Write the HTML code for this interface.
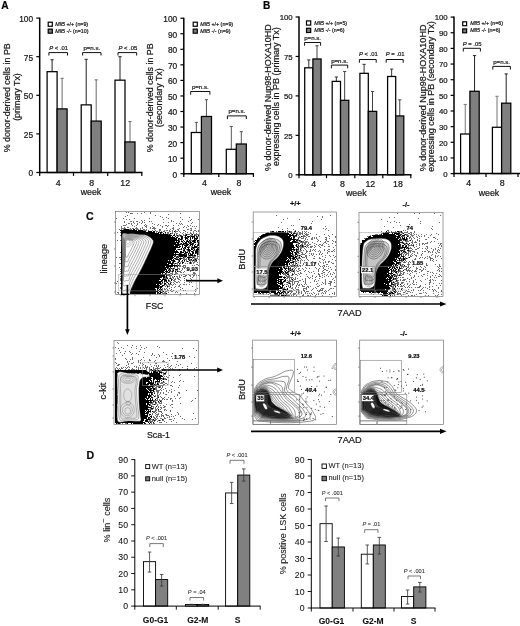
<!DOCTYPE html>
<html><head><meta charset="utf-8"><title>Figure</title>
<style>html,body{margin:0;padding:0;background:#fff}svg{display:block}text{font-family:"Liberation Sans", sans-serif;stroke:#222;stroke-width:0.22px}.ns text{stroke-width:0.08px}</style>
</head><body>
<svg width="520" height="626" viewBox="0 0 520 626">
<rect width="520" height="626" fill="#fff"/>
<path d="M126 212.5h1m1 0h1m15 0h1m5 0h1M130 213.5h3m4 0h1m3 0h1m8 0h1m29 0h1M168 214.5h1M127 215.5h1m27 0h1M125 216.5h1m34 0h1M162 217.5h1m3 0h1m13 0h1m8 0h1M116 218.5h1m6 0h1m10 0h1m14 0h1m18 0h1M126 219.5h1m2 0h1m33 0h1m18 0h1m8 0h1m6 0h1M141 220.5h1m2 0h1m26 0h1m18 0h1M124 221.5h1m5 0h2m1 0h1m2 0h2m4 0h1m6 0h1m1 0h1m19 0h1m1 0h1m6 0h1m7 0h1M124 222.5h1m8 0h1m5 0h1m2 0h1m1 0h1m18 0h1m4 0h1m23 0h1M128 223.5h2m1 0h1m2 0h1m2 0h1m3 0h1m10 0h1m23 0h1m2 0h1m1 0h1m9 0h1M126 224.5h1m4 0h1m5 0h1m7 0h1m8 0h1m3 0h1m21 0h1m1 0h1M123 225.5h3m6 0h1m3 0h1m7 0h1m1 0h1m10 0h1m2 0h1m4 0h2m1 0h1m4 0h1m4 0h1m8 0h1m2 0h1M121 226.5h1m12 0h1m10 0h2m5 0h1m9 0h1m4 0h1m16 0h1m3 0h1m3 0h1m1 0h1m1 0h1M121 227.5h1m2 0h1m2 0h2m7 0h1m5 0h1m3 0h1m3 0h1m2 0h2m7 0h1m10 0h1m9 0h1m2 0h1M121 228.5h5m4 0h1m1 0h2m1 0h3m2 0h1m1 0h1m7 0h1m1 0h4m10 0h1m5 0h2m5 0h1m10 0h2m3 0h1M119 229.5h1m1 0h1m1 0h1m5 0h3m4 0h3m1 0h1m2 0h2m1 0h1m7 0h1m4 0h2m9 0h1m2 0h1m3 0h2m8 0h2m2 0h1M143 230.5h4m1 0h1m3 0h1m2 0h1m3 0h2m3 0h1m1 0h2m1 0h1m2 0h1m2 0h1m2 0h1m4 0h2m5 0h2m2 0h2m2 0h1M156 231.5h2m1 0h1m1 0h1m1 0h2m4 0h2m1 0h1m2 0h3m1 0h1m5 0h1m7 0h1m2 0h1m1 0h1M117 232.5h1m2 0h1m35 0h1m2 0h1m2 0h1m4 0h2m3 0h1m2 0h1m4 0h1m2 0h1m3 0h1m2 0h1m2 0h1M161 233.5h1m3 0h1m1 0h2m2 0h2m1 0h1m1 0h2m4 0h1m2 0h1m4 0h2m1 0h1m2 0h1M168 234.5h1m1 0h1m5 0h1m2 0h1m3 0h1m1 0h1m1 0h3m1 0h1m2 0h5M120 235.5h1m55 0h1m1 0h2m1 0h1m1 0h2m5 0h3m2 0h2M177 236.5h2m1 0h1m9 0h1m6 0h2M184 237.5h1m2 0h1m5 0h1m2 0h1M179 239.5h1m2 0h1m4 0h2m6 0h1M117 240.5h1m2 0h1m58 0h1m1 0h1m4 0h1m3 0h3M189 241.5h1m5 0h1m2 0h1M179 242.5h1m2 0h2m5 0h1m3 0h1m3 0h1M180 243.5h1m6 0h1m3 0h1M181 244.5h1m2 0h2m7 0h1m3 0h1M179 245.5h1m9 0h1M188 246.5h2m1 0h2m4 0h1M189 247.5h1m1 0h1m5 0h1M184 248.5h1m7 0h1m1 0h1m3 0h1M177 249.5h1m2 0h1m2 0h1m2 0h1M187 250.5h1m6 0h2m2 0h1M183 251.5h2m2 0h2m4 0h1m4 0h1M120 252.5h1m77 0h1M181 253.5h1m4 0h1m2 0h1m6 0h1m1 0h1M185 254.5h1m8 0h1m3 0h1M174 255.5h1m3 0h1m9 0h1m4 0h1m3 0h1M175 256.5h2m1 0h1m4 0h1m4 0h3m1 0h4m1 0h2M116 257.5h1m2 0h2m56 0h1m2 0h1m3 0h2m6 0h1m1 0h1m2 0h1M176 258.5h2m4 0h3m1 0h1m2 0h1m2 0h1m1 0h4M120 259.5h1m54 0h1m3 0h1m3 0h4m2 0h2m2 0h2m1 0h1m1 0h1M178 260.5h1m7 0h1m3 0h3m1 0h2M172 261.5h1m2 0h1m2 0h1m2 0h2m1 0h1m1 0h1m1 0h1m1 0h1m1 0h1m1 0h3M177 262.5h1m2 0h1m8 0h1m1 0h1m1 0h2m2 0h1M119 263.5h2m52 0h2m1 0h2m2 0h1m4 0h1m1 0h1m1 0h1m1 0h1m1 0h1M174 264.5h1m2 0h1m1 0h1m16 0h2M177 265.5h1m1 0h2m2 0h3m6 0h1m1 0h1m3 0h1M175 266.5h2m2 0h2m1 0h2m1 0h1M119 267.5h1m54 0h1m2 0h1m5 0h3M168 268.5h1m1 0h1m1 0h1m1 0h1m2 0h3m2 0h1m1 0h1M120 269.5h1m47 0h1m1 0h1m1 0h2m5 0h1m2 0h1M169 270.5h1m2 0h1m2 0h3m3 0h1m9 0h1M120 271.5h1m49 0h2m1 0h1m4 0h3m3 0h1m5 0h1M167 272.5h1m4 0h1m2 0h2m3 0h2m1 0h1m9 0h2M120 273.5h1m45 0h1m3 0h3m2 0h3m15 0h3M167 274.5h1m7 0h1m7 0h2m3 0h1m3 0h1m1 0h1M167 275.5h5m7 0h1m1 0h1m3 0h2m2 0h2m2 0h2m1 0h1m1 0h1M120 276.5h1m44 0h1m3 0h2m1 0h1m3 0h2m1 0h1m3 0h3m4 0h1m2 0h1M165 277.5h1m1 0h1m2 0h1m1 0h2m3 0h1m1 0h2m11 0h1M120 278.5h1m43 0h3m2 0h1m1 0h1m1 0h1m1 0h1m1 0h2m5 0h1m5 0h1M120 279.5h1m45 0h1m1 0h1m3 0h1m1 0h2m2 0h2m6 0h1m4 0h1M120 280.5h1m48 0h1m3 0h2m5 0h1m3 0h1m3 0h1m6 0h1M117 281.5h1m44 0h1m2 0h1m2 0h3m3 0h2m2 0h1M164 282.5h1m1 0h1m3 0h2m1 0h1m2 0h2m1 0h1m4 0h1m4 0h1m1 0h1M116 283.5h1m3 0h1m40 0h2m11 0h1M161 284.5h1m3 0h2m1 0h4m1 0h1m1 0h1m4 0h1m2 0h2m1 0h1m2 0h1M164 285.5h1m1 0h2m1 0h1m2 0h1m6 0h1M159 286.5h1m5 0h1m2 0h2m5 0h1m2 0h2m12 0h1M120 287.5h1m38 0h1m7 0h1m3 0h1m2 0h1m5 0h1M120 288.5h1m41 0h1m1 0h1m1 0h1m2 0h1m12 0h1m14 0h1M160 289.5h1m1 0h1m1 0h2m1 0h1m3 0h1m8 0h1m14 0h1M160 290.5h3m4 0h2m1 0h1m2 0h1m9 0h1m1 0h1M162 291.5h1m2 0h2m4 0h2m3 0h1m18 0h1M117 292.5h2m43 0h1m1 0h2m2 0h1m6 0h1m1 0h1M118 293.5h1m39 0h1m3 0h4m14 0h1m5 0h1m7 0h1" stroke="#6e6e6e" stroke-width="1" fill="none" shape-rendering="crispEdges"/><path d="M124 229.5h5m4 0h2M120 230.5h17m1 0h5M121 231.5h25m2 0h4m1 0h2m19 0h1M121 232.5h34m3 0h1m1 0h2m3 0h1M121 233.5h38m1 0h1m2 0h1m6 0h1M121 234.5h47m1 0h1m4 0h1m11 0h1m5 0h1M121 235.5h51m1 0h2m2 0h1m2 0h1m4 0h2m7 0h1m3 0h1M121 236.5h50m1 0h1m2 0h1m5 0h2m2 0h1m1 0h3m1 0h4m1 0h1M121 237.5h54m1 0h2m3 0h2m2 0h2m1 0h1m1 0h1m1 0h1m1 0h1m2 0h1M121 238.5h56m1 0h2m1 0h2m2 0h3m2 0h1m1 0h1m1 0h4M121 239.5h56m1 0h1m1 0h2m3 0h1m4 0h1m3 0h1m1 0h1M121 240.5h58m4 0h1m3 0h1m1 0h1m3 0h3m1 0h2M121 241.5h54m1 0h1m1 0h2m1 0h2m1 0h1m1 0h3m1 0h1m1 0h3m2 0h1M121 242.5h58m6 0h2m1 0h1m1 0h2m2 0h2m2 0h1M121 243.5h55m1 0h2m2 0h1m1 0h4m2 0h2m1 0h2m4 0h1M121 244.5h60m1 0h2m2 0h3m1 0h3m2 0h1m2 0h1M121 245.5h53m1 0h4m3 0h1m1 0h4m2 0h1m1 0h1m1 0h1m2 0h2M121 246.5h57m1 0h2m1 0h1m2 0h2m7 0h3M121 247.5h59m2 0h1m1 0h2m1 0h2m3 0h5m1 0h1M121 248.5h55m5 0h1m1 0h1m1 0h1m2 0h1m2 0h1m1 0h1m3 0h1M121 249.5h55m2 0h2m1 0h1m2 0h1m2 0h3m1 0h2m1 0h1m1 0h3M121 250.5h54m1 0h1m6 0h2m3 0h3m2 0h1m2 0h2M121 251.5h57m2 0h2m3 0h1m3 0h1m1 0h2m2 0h3M121 252.5h58m1 0h4m1 0h3m1 0h1m2 0h2m1 0h3M121 253.5h53m1 0h1m3 0h2m3 0h2m2 0h1m1 0h1m1 0h2m1 0h1m1 0h1M121 254.5h64m1 0h1m1 0h1m1 0h3m4 0h1M121 255.5h53m1 0h1m3 0h8m2 0h4m1 0h2M121 256.5h52m1 0h1m2 0h1m1 0h4m1 0h3M121 257.5h53m2 0h1m1 0h1m4 0h1m3 0h5m1 0h1M121 258.5h52m1 0h2m3 0h3m6 0h1M121 259.5h51m1 0h1m2 0h3m1 0h1m7 0h1m2 0h1m3 0h1M121 260.5h47m1 0h1m1 0h4m4 0h1m2 0h1m1 0h1m4 0h1m3 0h1m2 0h1M121 261.5h50m2 0h2m4 0h1m7 0h1M121 262.5h50m1 0h2m4 0h1m3 0h2m6 0h1M121 263.5h46m1 0h5m2 0h1m3 0h1m2 0h1m7 0h1M121 264.5h48m2 0h2M121 265.5h56m1 0h1M121 266.5h44m1 0h7m1 0h1m2 0h1M121 267.5h48m1 0h1M121 268.5h45m1 0h1m1 0h1m1 0h1m1 0h1M121 269.5h46m2 0h1m5 0h3M121 270.5h44m1 0h1m1 0h1m1 0h1m2 0h1M121 271.5h43m1 0h3m1 0h1m2 0h1m2 0h1m1 0h1M121 272.5h44m1 0h1m1 0h2M121 273.5h40m1 0h1m2 0h1M121 274.5h46m1 0h2m2 0h1m1 0h1M121 275.5h44m1 0h1M121 276.5h44m1 0h1m7 0h1M121 277.5h41m1 0h2m1 0h1M121 278.5h39m3 0h1m3 0h1m2 0h1M121 279.5h40m1 0h4m5 0h1M121 280.5h38m2 0h2m1 0h3m1 0h1m2 0h1M121 281.5h41m2 0h1m1 0h1M121 282.5h40m1 0h1m4 0h1M121 283.5h40m3 0h2m2 0h1m1 0h1M121 284.5h35m1 0h2m1 0h1m3 0h1M121 285.5h39m2 0h2M121 286.5h38m1 0h3m4 0h1M121 287.5h38m1 0h2M121 288.5h34m2 0h2m1 0h1M121 289.5h35m1 0h1m1 0h1m1 0h1M121 290.5h35m1 0h2M121 291.5h37m1 0h2m2 0h1M121 292.5h35m1 0h2m1 0h2M121 293.5h35m1 0h1m1 0h2m5 0h1" stroke="#000" stroke-width="1" fill="none" shape-rendering="crispEdges"/>
<path d="M122.25 234.62C123.28 231.81 125.75 233.95 128.28 233.88C130.81 233.82 134.38 234.01 137.42 234.25C140.47 234.49 143.94 234.31 146.56 235.35C149.18 236.38 152.29 238.52 153.14 240.47C154 242.42 152.63 244.43 151.68 247.05C150.74 249.67 149.18 252.53 147.48 256.19C145.77 259.84 143.61 264.72 141.44 268.99C139.28 273.25 136.33 278.13 134.5 281.78C132.67 285.44 131.27 288.82 130.48 290.92C129.68 293.03 130.48 293.82 129.74 294.4C129.01 294.98 127.31 294.4 126.09 294.4C124.87 294.4 123.07 297.11 122.43 294.4C121.79 291.68 122.31 285.41 122.25 278.13C122.19 270.84 122.07 257.96 122.07 250.7C122.07 243.45 121.21 237.42 122.25 234.62Z" fill="#fff" stroke="#222" stroke-width="0.5"/>
<path d="M122.66 235.32C123.6 232.77 125.85 234.71 128.15 234.66C130.45 234.6 133.7 234.77 136.47 234.99C139.24 235.21 142.4 235.05 144.79 235.99C147.17 236.93 150 238.87 150.78 240.65C151.55 242.42 150.3 244.25 149.44 246.64C148.58 249.02 147.17 251.63 145.62 254.95C144.07 258.28 142.1 262.72 140.13 266.6C138.16 270.48 135.47 274.92 133.81 278.24C132.14 281.57 130.87 284.65 130.15 286.56C129.43 288.48 130.15 289.2 129.48 289.72C128.82 290.25 127.26 289.72 126.15 289.72C125.04 289.72 123.41 292.19 122.83 289.72C122.24 287.26 122.72 281.54 122.66 274.92C122.6 268.29 122.49 256.56 122.49 249.96C122.49 243.36 121.72 237.87 122.66 235.32Z" fill="none" stroke="#2a2a2a" stroke-width="0.38"/>
<path d="M123.07 236.03C123.92 233.73 125.94 235.48 128.02 235.43C130.09 235.38 133.02 235.53 135.51 235.73C138.01 235.93 140.86 235.78 143.01 236.63C145.16 237.48 147.71 239.23 148.41 240.83C149.11 242.43 147.98 244.08 147.21 246.22C146.43 248.37 145.16 250.72 143.76 253.72C142.36 256.72 140.59 260.72 138.81 264.21C137.04 267.71 134.61 271.71 133.12 274.71C131.62 277.71 130.47 280.48 129.82 282.2C129.17 283.93 129.82 284.58 129.22 285.05C128.62 285.53 127.22 285.05 126.22 285.05C125.22 285.05 123.75 287.27 123.22 285.05C122.7 282.83 123.12 277.68 123.07 271.71C123.02 265.74 122.92 255.17 122.92 249.22C122.92 243.28 122.22 238.33 123.07 236.03Z" fill="none" stroke="#2a2a2a" stroke-width="0.38"/>
<path d="M123.48 236.74C124.24 234.69 126.04 236.25 127.89 236.2C129.73 236.16 132.34 236.29 134.56 236.47C136.78 236.65 139.32 236.52 141.23 237.27C143.15 238.03 145.41 239.59 146.04 241.01C146.66 242.43 145.66 243.9 144.97 245.81C144.28 247.73 143.15 249.82 141.9 252.49C140.65 255.16 139.07 258.71 137.5 261.83C135.92 264.94 133.76 268.5 132.42 271.17C131.09 273.84 130.07 276.31 129.49 277.84C128.91 279.38 129.49 279.96 128.95 280.38C128.42 280.8 127.17 280.38 126.29 280.38C125.4 280.38 124.08 282.36 123.62 280.38C123.15 278.4 123.53 273.82 123.48 268.5C123.44 263.18 123.35 253.78 123.35 248.48C123.35 243.19 122.73 238.78 123.48 236.74Z" fill="none" stroke="#2a2a2a" stroke-width="0.38"/>
<path d="M123.89 237.45C124.56 235.65 126.14 237.02 127.76 236.98C129.37 236.94 131.66 237.06 133.61 237.21C135.56 237.37 137.78 237.25 139.46 237.91C141.13 238.58 143.12 239.94 143.67 241.19C144.21 242.44 143.34 243.73 142.73 245.4C142.13 247.08 141.13 248.91 140.04 251.25C138.95 253.59 137.56 256.71 136.18 259.44C134.79 262.17 132.9 265.29 131.73 267.63C130.56 269.97 129.67 272.14 129.16 273.48C128.65 274.83 129.16 275.34 128.69 275.71C128.22 276.08 127.13 275.71 126.35 275.71C125.57 275.71 124.42 277.44 124.01 275.71C123.6 273.97 123.93 269.95 123.89 265.29C123.85 260.63 123.78 252.38 123.78 247.74C123.78 243.1 123.23 239.24 123.89 237.45Z" fill="none" stroke="#2a2a2a" stroke-width="0.38"/>
<path d="M124.31 238.15C124.88 236.61 126.23 237.78 127.62 237.75C129.01 237.72 130.98 237.82 132.65 237.95C134.33 238.09 136.24 237.99 137.68 238.56C139.12 239.13 140.83 240.3 141.3 241.37C141.77 242.44 141.01 243.55 140.49 244.99C139.97 246.43 139.12 248.01 138.18 250.02C137.24 252.03 136.05 254.71 134.86 257.06C133.67 259.4 132.05 262.08 131.04 264.1C130.04 266.11 129.27 267.97 128.83 269.12C128.39 270.28 128.83 270.71 128.43 271.03C128.03 271.35 127.09 271.03 126.42 271.03C125.75 271.03 124.76 272.52 124.41 271.03C124.05 269.54 124.34 266.09 124.31 262.08C124.27 258.08 124.2 250.99 124.2 247C124.2 243.01 123.74 239.7 124.31 238.15Z" fill="none" stroke="#2a2a2a" stroke-width="0.38"/>
<path d="M124.72 238.86C125.19 237.57 126.33 238.55 127.49 238.52C128.66 238.5 130.29 238.58 131.7 238.69C133.1 238.8 134.7 238.72 135.9 239.2C137.11 239.67 138.54 240.66 138.93 241.55C139.32 242.45 138.69 243.37 138.26 244.58C137.82 245.78 137.11 247.1 136.32 248.78C135.54 250.47 134.54 252.71 133.55 254.67C132.55 256.63 131.19 258.88 130.35 260.56C129.51 262.24 128.87 263.8 128.5 264.76C128.14 265.73 128.5 266.09 128.16 266.36C127.83 266.63 127.04 266.36 126.48 266.36C125.92 266.36 125.1 267.61 124.8 266.36C124.51 265.11 124.74 262.23 124.72 258.88C124.69 255.53 124.63 249.6 124.63 246.26C124.63 242.93 124.24 240.15 124.72 238.86Z" fill="none" stroke="#2a2a2a" stroke-width="0.38"/>
<path d="M125.13 239.57C125.51 238.53 126.42 239.32 127.36 239.3C128.3 239.28 129.61 239.34 130.74 239.43C131.87 239.52 133.15 239.46 134.12 239.84C135.09 240.22 136.24 241.01 136.56 241.73C136.88 242.45 136.37 243.2 136.02 244.17C135.67 245.14 135.09 246.2 134.46 247.55C133.83 248.9 133.03 250.71 132.23 252.29C131.43 253.86 130.34 255.67 129.66 257.02C128.98 258.37 128.46 259.62 128.17 260.4C127.88 261.18 128.17 261.47 127.9 261.69C127.63 261.9 127 261.69 126.55 261.69C126.1 261.69 125.43 262.69 125.2 261.69C124.96 260.68 125.15 258.36 125.13 255.67C125.11 252.97 125.06 248.2 125.06 245.52C125.06 242.84 124.74 240.61 125.13 239.57Z" fill="none" stroke="#2a2a2a" stroke-width="0.38"/>
<path d="M125.54 240.28C125.83 239.49 126.52 240.09 127.23 240.07C127.94 240.05 128.93 240.11 129.79 240.17C130.64 240.24 131.61 240.19 132.35 240.48C133.08 240.77 133.95 241.37 134.19 241.91C134.43 242.46 134.05 243.02 133.78 243.76C133.52 244.49 133.08 245.29 132.6 246.32C132.13 247.34 131.52 248.71 130.91 249.9C130.31 251.09 129.48 252.46 128.97 253.48C128.46 254.51 128.06 255.45 127.84 256.04C127.62 256.63 127.84 256.85 127.64 257.01C127.43 257.18 126.96 257.01 126.61 257.01C126.27 257.01 125.77 257.77 125.59 257.01C125.41 256.26 125.56 254.5 125.54 252.46C125.52 250.42 125.49 246.81 125.49 244.78C125.49 242.75 125.25 241.06 125.54 240.28Z" fill="none" stroke="#2a2a2a" stroke-width="0.38"/>
<ellipse cx="128.02" cy="241.48" rx="4.6" ry="5.5" fill="none" stroke="#777" stroke-width="0.35"/>
<ellipse cx="128.02" cy="241.48" rx="3.2" ry="3.8" fill="none" stroke="#777" stroke-width="0.35"/>
<ellipse cx="128.02" cy="241.48" rx="1.8" ry="2.2" fill="none" stroke="#777" stroke-width="0.35"/>
<rect x="115.5" y="211.4" width="84.1" height="83.2" fill="none" stroke="#777" stroke-width="0.7"/><path d="M113.9 222h1.6M113.9 233h1.6M113.9 249h1.6M113.9 266h1.6M113.9 283h1.6M113.9 292h1.6M121 294.6v1.6M135 294.6v1.6M150 294.6v1.6M165 294.6v1.6M180 294.6v1.6M195 294.6v1.6" stroke="#555" stroke-width="0.6" fill="none"/>
<rect x="118.78" y="274.47" width="77.51" height="16.45" fill="none" stroke="#999" stroke-width="0.5"/>
<text x="186.6" y="271" font-size="5.8" text-anchor="start" fill="#000" font-weight="bold" stroke="#000" stroke-width="0.15">9.93</text>
<path d="M186 280.7H218" stroke="#000" stroke-width="1.7" fill="none"/><path d="M223 280.7l-5.6-2.5v5z" fill="#000"/>
<path d="M127.4 285V330" stroke="#000" stroke-width="1.7" fill="none"/><path d="M127.4 335l-2.3-5.8h4.6z" fill="#000"/><path d="M121 294.3h8" stroke="#000" stroke-width="1.4"/>
<text x="106.6" y="258.7" font-size="9.2" text-anchor="middle" fill="#111" transform="rotate(-90 106.6 258.7)">lineage</text>
<text x="154.6" y="308.8" font-size="8.8" text-anchor="middle" fill="#111">FSC</text>
<path d="M117 342.5h1M118 343.5h1M127 345.5h1m4 0h1m7 0h1M136 346.5h1m20 0h1M115 347.5h1m5 0h1m9 0h1m9 0h1m4 0h1m12 0h1M118 348.5h1m4 0h1m12 0h1m7 0h1m37 0h1m10 0h1M140 349.5h1M119 350.5h1m76 0h1M125 351.5h1m3 0h1m9 0h1M120 352.5h1m9 0h1m13 0h1m18 0h1M116 353.5h1m7 0h1m7 0h1m3 0h1m15 0h1m19 0h1M131 354.5h1m6 0h1m13 0h1m5 0h1m7 0h1M122 355.5h1m28 0h1m2 0h1m4 0h1m23 0h1M159 356.5h1m11 0h1m17 0h1M132 357.5h1m10 0h1m12 0h1m25 0h1m11 0h1M115 358.5h1m9 0h1m6 0h1m34 0h1m4 0h1M115 359.5h1m10 0h1m3 0h1m1 0h1m8 0h1m7 0h1M138 360.5h1m1 0h1m3 0h1m4 0h2m4 0h1m7 0h1m5 0h1M127 361.5h1m1 0h1m8 0h1m15 0h1m7 0h3m12 0h1M115 362.5h1m11 0h1m5 0h1m4 0h1m1 0h1m7 0h1m17 0h1M116 363.5h1m11 0h1m2 0h2m7 0h1m1 0h1m12 0h2m34 0h1M118 364.5h2m8 0h1m14 0h1m6 0h1m16 0h1m8 0h1m3 0h1M117 365.5h2m7 0h1m12 0h1m2 0h1m2 0h1m8 0h1m1 0h1m1 0h1m5 0h1m6 0h1m6 0h1M128 366.5h1m5 0h1m1 0h1m8 0h1m1 0h1m3 0h1m4 0h1m1 0h1m8 0h1m2 0h1m16 0h1M116 367.5h1m4 0h1m1 0h1m1 0h1m1 0h1m1 0h1m6 0h1m1 0h1m1 0h1m2 0h1m1 0h3m1 0h1m3 0h1m3 0h1m2 0h1m4 0h1m3 0h1m5 0h1m6 0h1m13 0h1M115 368.5h1m1 0h1m1 0h1m1 0h2m3 0h1m5 0h1m5 0h1m1 0h1m3 0h1m1 0h1m2 0h1m3 0h1m1 0h5m3 0h1m6 0h1m1 0h1m14 0h1m6 0h1M115 369.5h1m2 0h1m1 0h1m4 0h1m2 0h2m1 0h4m1 0h1m1 0h1m7 0h1m2 0h2m2 0h3m1 0h1m4 0h4m3 0h1m3 0h1m5 0h1m7 0h1M146 370.5h1m2 0h3m1 0h2m1 0h2m1 0h2m3 0h2m2 0h1m10 0h1M147 371.5h1m1 0h1m1 0h1m4 0h3m1 0h2m4 0h1M149 372.5h1m12 0h2m1 0h2M119 373.5h3m1 0h1m4 0h1m3 0h2m27 0h1m1 0h1M122 374.5h1m1 0h1m38 0h3m14 0h1M119 375.5h1m1 0h1m7 0h1m1 0h1m31 0h1m5 0h1m9 0h1M120 376.5h1m3 0h1m1 0h1m37 0h1m1 0h1m27 0h1M118 377.5h1m1 0h1m6 0h1m3 0h1m31 0h1m3 0h2m4 0h1M120 378.5h1m1 0h1m1 0h1m3 0h1m33 0h1m1 0h2M122 379.5h2m1 0h1m1 0h1m32 0h1m1 0h1m1 0h2M128 380.5h1m39 0h1m11 0h1M120 381.5h1m1 0h1m2 0h1m46 0h1m6 0h1m3 0h1M126 382.5h1m3 0h1m21 0h1m4 0h3m1 0h4m6 0h1m2 0h1M120 383.5h1m4 0h2m28 0h1m2 0h1m1 0h3m2 0h2M118 384.5h1m2 0h1m1 0h1m6 0h1m22 0h1m1 0h2m6 0h2m2 0h1M120 385.5h1m4 0h1m1 0h2m21 0h1m3 0h1m1 0h1m1 0h6m6 0h2m7 0h1M124 386.5h1m28 0h2m1 0h5m1 0h1m9 0h1M121 387.5h1m1 0h1m6 0h1m19 0h1m2 0h1m1 0h2m1 0h1m1 0h1m1 0h1m15 0h1M118 388.5h1m3 0h2m3 0h2m20 0h1m2 0h1m2 0h2m4 0h1m3 0h1M120 389.5h2m1 0h2m4 0h1m21 0h1m3 0h2m3 0h1m2 0h1m7 0h1M118 390.5h2m1 0h1m2 0h2m1 0h2m27 0h4m1 0h1m4 0h1m2 0h1m4 0h1m11 0h1m10 0h1M128 391.5h2m2 0h1m18 0h1m2 0h1m1 0h3m7 0h1m4 0h1M122 392.5h1m31 0h1m2 0h2m1 0h1m2 0h1m4 0h1m2 0h1m6 0h2M118 393.5h2m3 0h2m1 0h1m22 0h1m2 0h1m4 0h1m2 0h1m2 0h1m15 0h1M122 394.5h1m1 0h2m1 0h1m29 0h1m1 0h1m5 0h2m10 0h1M123 395.5h1m2 0h1m3 0h1m20 0h1m1 0h1m1 0h1m1 0h2m18 0h1M119 396.5h1m1 0h2m1 0h2m25 0h1m3 0h1m1 0h2m1 0h1m13 0h1M128 397.5h1m28 0h1m3 0h1m2 0h1m3 0h1m11 0h1M121 398.5h1m6 0h3m21 0h1m3 0h2m4 0h2m6 0h2m3 0h1m3 0h1m15 0h1M122 399.5h1m1 0h3m2 0h1m27 0h1m1 0h1m2 0h1m1 0h1m1 0h2m2 0h1M122 400.5h1m3 0h1m1 0h1m24 0h5m1 0h3m10 0h1m19 0h1M121 401.5h1m5 0h3m2 0h1m18 0h1m2 0h2m5 0h1m10 0h1m18 0h1M124 402.5h3m1 0h1m23 0h2m2 0h1m1 0h2m1 0h1M119 403.5h5m2 0h1m2 0h1m20 0h3m2 0h2m2 0h3m18 0h1M119 404.5h2m2 0h1m5 0h2m19 0h1m1 0h2m1 0h1m1 0h1m8 0h1m4 0h2M119 405.5h1m3 0h1m4 0h1m1 0h1m19 0h2m5 0h1m2 0h1m2 0h1m6 0h1M121 406.5h1m2 0h6m18 0h1m3 0h2m4 0h1m5 0h2M119 407.5h1m1 0h1m2 0h3m24 0h1m1 0h1m1 0h1m2 0h1m1 0h2m1 0h2m7 0h1M118 408.5h1m3 0h1m2 0h2m1 0h1m21 0h1m2 0h1m1 0h1m1 0h1m3 0h1M120 409.5h1m2 0h2m4 0h1m19 0h4m2 0h2m3 0h1m3 0h2M120 410.5h3m3 0h1m2 0h2m24 0h2m1 0h1m5 0h1m1 0h1m3 0h1M118 411.5h1m5 0h1m1 0h1m2 0h1m23 0h3m2 0h4m8 0h1M118 412.5h1m5 0h3m1 0h1m21 0h1m2 0h2m1 0h1m4 0h1m15 0h1M120 413.5h7m1 0h2m18 0h1m3 0h1m2 0h1m2 0h1m3 0h1m15 0h1m14 0h1M118 414.5h3m5 0h1m25 0h1m3 0h3m2 0h1m3 0h2m4 0h1m6 0h1M118 415.5h2m4 0h1m1 0h1m3 0h1m18 0h1m1 0h1m3 0h1m1 0h1m3 0h3m2 0h3m6 0h1M118 416.5h1m1 0h3m3 0h1m26 0h1m2 0h2m1 0h1m1 0h1m1 0h1m5 0h1m1 0h1m1 0h1m6 0h1M120 417.5h1m1 0h1m2 0h6m1 0h1m20 0h2m1 0h1m7 0h1m2 0h1m1 0h1M119 418.5h1m1 0h3m2 0h1m2 0h1m19 0h1m4 0h2m1 0h1m2 0h2m2 0h2m8 0h1m7 0h1m12 0h1M123 419.5h6m1 0h1m19 0h3m2 0h2m6 0h1m5 0h3m12 0h1m7 0h1M118 420.5h3m1 0h1m1 0h1m4 0h2m18 0h2m1 0h2m1 0h1m2 0h1m1 0h1m1 0h2m9 0h1M148 421.5h5m1 0h1m2 0h1m6 0h1m6 0h1M151 422.5h1m7 0h3m4 0h1m9 0h1M117 423.5h1m2 0h1m1 0h1m2 0h2m24 0h1m1 0h2" stroke="#6e6e6e" stroke-width="1" fill="none" shape-rendering="crispEdges"/><path d="M151 369.5h1M115 370.5h31m6 0h1m2 0h1m2 0h1m3 0h1M115 371.5h32m6 0h3m3 0h1M115 372.5h34m2 0h1m1 0h5m1 0h3M115 373.5h2m9 0h2m1 0h1m1 0h1m2 0h1m2 0h2m2 0h19m4 0h2M115 374.5h3m9 0h2m1 0h1m1 0h1m1 0h10m1 0h3m1 0h11M115 375.5h3m6 0h1m1 0h2m2 0h1m1 0h1m2 0h27M115 376.5h3m7 0h1m2 0h1m2 0h1m1 0h30M115 377.5h3m10 0h1m4 0h13m1 0h4m2 0h8M115 378.5h2m12 0h1m1 0h2m2 0h17m1 0h9m1 0h1M115 379.5h3m12 0h21m2 0h2m1 0h4m3 0h1m2 0h1M115 380.5h3m7 0h1m4 0h19m1 0h2m1 0h1m3 0h1m1 0h1m1 0h1M115 381.5h3m8 0h2m3 0h19m1 0h1m1 0h1m1 0h5m3 0h1M115 382.5h2m10 0h1m3 0h1m1 0h13m2 0h4m1 0h1m1 0h1M115 383.5h3m9 0h1m1 0h2m1 0h1m1 0h12m1 0h7m3 0h1M115 384.5h3m8 0h1m2 0h1m1 0h18m1 0h3m1 0h1m2 0h2M115 385.5h3m3 0h1m4 0h1m2 0h1m2 0h2m1 0h13m3 0h3m1 0h1M115 386.5h3m9 0h3m1 0h3m1 0h18M115 387.5h3m9 0h1m4 0h18m2 0h1m6 0h1M115 388.5h3m8 0h1m2 0h17m1 0h2m1 0h2m1 0h2M115 389.5h3m10 0h1m2 0h4m1 0h11m1 0h3m2 0h2M115 390.5h3m11 0h1m1 0h2m1 0h14m1 0h5M115 391.5h3m7 0h1m4 0h2m1 0h1m1 0h14m1 0h1m2 0h1M115 392.5h3m8 0h1m1 0h25M115 393.5h3m4 0h1m2 0h1m2 0h4m2 0h14m3 0h1m2 0h1M115 394.5h2m12 0h3m1 0h15m1 0h1m1 0h2M115 395.5h3m10 0h2m1 0h20M115 396.5h3m8 0h1m2 0h1m1 0h4m1 0h11m1 0h3m3 0h1M115 397.5h3m8 0h2m2 0h2m1 0h14m1 0h2m1 0h2m5 0h1M115 398.5h3m13 0h14m1 0h3m1 0h1M115 399.5h3m9 0h1m6 0h12m1 0h1m2 0h1m1 0h1m2 0h1M115 400.5h3m11 0h1m2 0h3m1 0h17M115 401.5h3m5 0h1m1 0h1m4 0h2m2 0h15m1 0h1m2 0h1m4 0h1m1 0h1M115 402.5h3m11 0h2m1 0h2m1 0h17m3 0h1M115 403.5h3m9 0h2m4 0h13m1 0h2M115 404.5h2m8 0h2m1 0h1m2 0h1m1 0h13m1 0h3m4 0h1M115 405.5h2m8 0h1m1 0h1m1 0h1m1 0h1m2 0h14m1 0h1M115 406.5h3m13 0h17m3 0h1m4 0h1M115 407.5h3m9 0h3m1 0h1m2 0h17M115 408.5h3m5 0h1m3 0h1m1 0h2m1 0h16m3 0h2M115 409.5h3m12 0h1m1 0h17m9 0h1M115 410.5h3m7 0h1m1 0h1m3 0h2m1 0h11m1 0h1m1 0h1m1 0h1M115 411.5h3m9 0h1m3 0h1m1 0h13m1 0h4m1 0h1M115 412.5h2m13 0h1m2 0h12m1 0h3M115 413.5h3m12 0h18M115 414.5h2m8 0h1m1 0h18m2 0h1m1 0h2M115 415.5h3m9 0h1m1 0h1m2 0h1m1 0h14M115 416.5h3m11 0h2m1 0h16m2 0h2M115 417.5h3m15 0h1m1 0h12m1 0h2m1 0h1M115 418.5h3m10 0h1m2 0h16m1 0h1m1 0h1M115 419.5h3m13 0h2m1 0h10m2 0h4m3 0h1m8 0h1M115 420.5h3m5 0h1m3 0h2m2 0h13m1 0h3m6 0h1m4 0h1M115 421.5h28m2 0h3M115 422.5h30m3 0h1m1 0h1m2 0h1M116 423.5h1m1 0h2m7 0h1m3 0h1m1 0h10m1 0h2m3 0h1" stroke="#000" stroke-width="1" fill="none" shape-rendering="crispEdges"/>
<path d="M117.68 373.03C118.94 370.23 125.66 373.12 128.28 373.21C130.9 373.29 137.82 373.56 140.16 373.76C142.51 373.95 147.3 374.51 148.39 374.85C149.48 375.2 150.13 376.38 149.49 376.68C148.85 376.98 144.02 376.94 142.91 377.41C141.8 377.88 140.45 379.25 139.98 380.7C139.51 382.15 138.97 387.07 138.88 389.84C138.8 392.62 139.08 401.48 139.25 404.47C139.42 407.46 140.22 413.52 140.35 415.44C140.48 417.36 141.76 420.26 140.35 420.92C138.94 421.58 130.93 421.11 128.28 421.11C125.64 421.11 118.94 423.72 117.68 420.92C116.42 418.13 117.5 402.75 117.5 397.16C117.5 391.57 116.42 375.82 117.68 373.03Z" fill="#fff" stroke="#222" stroke-width="0.4"/>
<path d="M119.14 375.59C120.66 371.87 125.23 374.85 128.28 374.85C131.33 374.85 135.84 374.31 137.42 375.59C139.01 376.86 137.94 380.16 137.79 382.53C137.64 384.91 136.57 386.19 136.51 389.84C136.45 393.5 137.03 400.2 137.42 404.47C137.82 408.74 138.88 412.94 138.88 415.44C138.88 417.94 139.19 418.73 137.42 419.46C135.66 420.19 131.27 419.89 128.28 419.83C125.3 419.77 121.03 422.87 119.51 419.1C117.98 415.32 119.2 404.41 119.14 397.16C119.08 389.91 117.62 379.3 119.14 375.59Z" fill="#ececec" stroke="#444" stroke-width="0.4"/>
<path d="M120.79 377.1C122.04 373.64 125.78 376.41 128.28 376.41C130.78 376.41 134.48 375.9 135.78 377.1C137.08 378.29 136.2 381.35 136.08 383.56C135.95 385.77 135.08 386.96 135.03 390.36C134.98 393.76 135.45 399.99 135.78 403.96C136.1 407.93 136.98 411.84 136.98 414.16C136.98 416.48 137.23 417.22 135.78 417.9C134.33 418.58 130.73 418.3 128.28 418.24C125.83 418.18 122.34 421.07 121.09 417.56C119.84 414.05 120.84 403.9 120.79 397.16C120.74 390.41 119.54 380.55 120.79 377.1Z" fill="#e0e0e0" stroke="#555" stroke-width="0.4"/>
<ellipse cx="127.92" cy="379.42" rx="7.31" ry="4.02" fill="none" stroke="#666" stroke-width="0.35"/>
<ellipse cx="127.92" cy="379.42" rx="5.12" ry="2.74" fill="none" stroke="#666" stroke-width="0.35"/>
<ellipse cx="127.92" cy="379.42" rx="2.74" ry="1.46" fill="none" stroke="#666" stroke-width="0.35"/>
<ellipse cx="127.37" cy="409.95" rx="6.95" ry="7.68" fill="none" stroke="#666" stroke-width="0.35"/>
<ellipse cx="127.37" cy="410.32" rx="4.94" ry="5.48" fill="none" stroke="#666" stroke-width="0.35"/>
<ellipse cx="127.73" cy="410.87" rx="2.93" ry="3.29" fill="none" stroke="#666" stroke-width="0.35"/>
<ellipse cx="127.73" cy="395.33" rx="4.02" ry="6.4" fill="none" stroke="#666" stroke-width="0.35"/>
<ellipse cx="128.28" cy="403.01" rx="2.56" ry="1.83" fill="none" stroke="#666" stroke-width="0.35"/>
<rect x="114" y="340.5" width="84.3" height="84.1" fill="none" stroke="#777" stroke-width="0.7"/><path d="M112.4 348h1.6M112.4 356h1.6M112.4 372h1.6M112.4 389h1.6M112.4 405h1.6M112.4 418h1.6" stroke="#555" stroke-width="0.6" fill="none"/>
<rect x="142.54" y="362.79" width="25.96" height="22.49" fill="none" stroke="#999" stroke-width="0.5"/>
<text x="174" y="359.3" font-size="5.8" text-anchor="start" fill="#000" font-weight="bold" stroke="#000" stroke-width="0.15">1.75</text>
<path d="M161.3 370H218" stroke="#000" stroke-width="1.7" fill="none"/><path d="M223 370l-5.8-2.5v5z" fill="#000"/>
<text x="106.4" y="391" font-size="9.2" text-anchor="middle" fill="#111" transform="rotate(-90 106.4 391)">c-kit</text>
<text x="158.5" y="437.5" font-size="8.8" text-anchor="middle" fill="#111">Sca-1</text>
<path d="M276 215.5h1m53 0h1M317 216.5h1m4 0h1M322 217.5h1M287 218.5h1M283 219.5h1m15 0h1m21 0h1M312 221.5h1M281 222.5h1M311 223.5h1M291 225.5h1m1 0h1M325 226.5h1M278 227.5h1M287 228.5h1m21 0h1m13 0h1m2 0h1M282 229.5h1m10 0h1m31 0h1M287 230.5h1m7 0h1m32 0h1M270 231.5h2m4 0h1m4 0h1m5 0h2m1 0h2m2 0h1m3 0h1m3 0h1m1 0h1m1 0h1M267 232.5h2m28 0h1m1 0h2m1 0h1m2 0h1m2 0h1M265 233.5h1m29 0h3m1 0h4m1 0h1m1 0h1m3 0h1M262 234.5h1m30 0h1m3 0h1m1 0h2m1 0h1m2 0h4m7 0h1m7 0h1m7 0h1M294 235.5h1m3 0h1m4 0h2m1 0h2m20 0h1M259 236.5h1m35 0h2m2 0h1m2 0h4m2 0h2m9 0h1m9 0h1m5 0h1M258 237.5h1m39 0h3m2 0h1m2 0h1m5 0h1m1 0h1m1 0h1m8 0h2m8 0h1M257 238.5h1m36 0h1m6 0h3m1 0h1m5 0h2m1 0h1m1 0h1m9 0h1m2 0h1M296 239.5h1m1 0h1m6 0h1m1 0h1m3 0h2m4 0h1m7 0h2M298 240.5h1m1 0h1m3 0h1m13 0h1m7 0h1m5 0h1M254 241.5h1m41 0h2m1 0h2m1 0h2m1 0h3m9 0h1m2 0h1m4 0h1m1 0h2m4 0h1m1 0h1M298 242.5h1m1 0h7m1 0h1m3 0h1m11 0h2m9 0h1M302 243.5h1m1 0h2m2 0h1m5 0h1m8 0h1m2 0h1m5 0h1M297 244.5h2m2 0h2m1 0h2m1 0h1m1 0h2m5 0h1m2 0h2m1 0h1m5 0h1M295 245.5h1m5 0h1m1 0h1m2 0h3m5 0h1m3 0h1m2 0h2m12 0h1M298 246.5h4m1 0h2m2 0h1m2 0h3m2 0h1m3 0h1m4 0h1m3 0h2M300 247.5h4m2 0h1m1 0h1m1 0h2m2 0h1m5 0h1m12 0h1M296 248.5h1m3 0h2m2 0h1M295 249.5h1m9 0h1m4 0h1m2 0h1m1 0h1m8 0h1m3 0h2m4 0h1M293 250.5h1m3 0h2m1 0h2m1 0h1m2 0h1m3 0h1m1 0h1m1 0h1m4 0h1m4 0h1m2 0h1m5 0h1M293 251.5h1m4 0h3m5 0h2m1 0h2m4 0h1m2 0h1m1 0h1m7 0h2m1 0h2m1 0h1M296 252.5h1m4 0h2m3 0h1m13 0h1m6 0h1M298 253.5h2m2 0h1m2 0h1m3 0h1m1 0h1m1 0h1m5 0h1m2 0h1m4 0h1M293 254.5h1m3 0h1m3 0h4m6 0h1m1 0h1m2 0h1m2 0h1m1 0h1M292 255.5h4m2 0h1m1 0h1m4 0h2m2 0h1m2 0h1m12 0h1m3 0h1m3 0h1M297 256.5h1m1 0h1m5 0h2m7 0h1m7 0h1m7 0h1m4 0h1M292 257.5h1m3 0h1m1 0h1m3 0h3m1 0h1m12 0h1m5 0h1m8 0h1M291 258.5h1m5 0h4m5 0h1m6 0h2m4 0h2M292 259.5h1m1 0h1m6 0h1m5 0h1m14 0h1m1 0h1m7 0h1M289 260.5h1m1 0h2m2 0h1m1 0h1m2 0h1m1 0h1m1 0h1m3 0h1m14 0h1m11 0h1M292 261.5h1m1 0h3m3 0h1m11 0h1m6 0h1m5 0h1m2 0h2M295 262.5h1m2 0h1m1 0h1m3 0h1m15 0h1m2 0h1m1 0h1m2 0h1m2 0h1M291 263.5h1m1 0h1m1 0h1m4 0h1m2 0h1m10 0h1m3 0h1m4 0h1m8 0h2M292 264.5h2m1 0h1m1 0h1m5 0h1m2 0h1m11 0h1m7 0h2M286 265.5h1m3 0h4m1 0h2m2 0h2m1 0h1m16 0h1m3 0h2M285 266.5h1m7 0h3m1 0h2m1 0h1m19 0h1m1 0h1m1 0h1m1 0h1m1 0h1m6 0h1M286 267.5h1m3 0h1m3 0h1m1 0h1m8 0h1m9 0h1m7 0h1m6 0h1M282 268.5h1m4 0h1m1 0h1m2 0h2m1 0h1m2 0h2m2 0h1m3 0h1m2 0h1m6 0h1m2 0h1m3 0h1m4 0h1M259 269.5h1m2 0h3m1 0h1m1 0h1m20 0h3m2 0h1m3 0h1m4 0h1m14 0h1m5 0h2m5 0h1m3 0h1M258 270.5h1m3 0h1m3 0h3m15 0h1m3 0h2m1 0h4m1 0h1m2 0h2m4 0h1m12 0h1m4 0h1m2 0h2m7 0h1M258 271.5h4m1 0h4m1 0h1m15 0h1m2 0h1m1 0h1m1 0h2m1 0h1m2 0h2m5 0h1m3 0h1m4 0h1m4 0h1m3 0h1m6 0h1M256 272.5h1m2 0h1m3 0h2m3 0h1m13 0h1m5 0h1m1 0h1m3 0h1m5 0h1m8 0h1m1 0h1m11 0h2m3 0h1m4 0h1M257 273.5h1m1 0h1m4 0h1m3 0h1m14 0h3m1 0h2m3 0h1m1 0h1m3 0h1m1 0h2m12 0h1m3 0h1m2 0h2m7 0h1m3 0h1M257 274.5h2m5 0h1m18 0h3m7 0h1m1 0h2m2 0h1m6 0h1m11 0h2m4 0h1m2 0h1m2 0h1m1 0h1M285 275.5h2m1 0h2m1 0h2m4 0h1m14 0h1m6 0h1m2 0h1m3 0h1M282 276.5h1m1 0h1m1 0h4m10 0h1m6 0h1m4 0h1m3 0h1m2 0h2m3 0h1m3 0h1m2 0h1m3 0h1M287 277.5h6m2 0h1m12 0h1m1 0h1m4 0h1m6 0h1m12 0h1M286 278.5h2m1 0h1m1 0h1m1 0h1m1 0h1m1 0h1m7 0h1m3 0h1m2 0h1m6 0h1m13 0h1M283 279.5h1m5 0h1m1 0h1m2 0h2m6 0h1m2 0h1m9 0h1m9 0h1m6 0h1M287 280.5h1m1 0h2m1 0h2m5 0h2m4 0h1m8 0h1m3 0h1m6 0h1m8 0h1M285 281.5h1m2 0h5m1 0h5m4 0h1m1 0h1m8 0h1m1 0h1m8 0h1m3 0h3M283 282.5h1m2 0h1m1 0h2m2 0h1m1 0h1m3 0h1m6 0h1m4 0h1m11 0h1m2 0h1m4 0h2m2 0h1M288 283.5h1m1 0h1m1 0h1m1 0h1m2 0h1m7 0h1m11 0h1m5 0h1m1 0h1m2 0h3M281 284.5h1m2 0h1m1 0h2m2 0h1m1 0h2m3 0h1m1 0h1m1 0h1m2 0h1m1 0h1m9 0h1m4 0h1m3 0h1m4 0h1M288 285.5h1m1 0h1m1 0h1m3 0h1m1 0h2m2 0h1m16 0h1m10 0h1M288 286.5h1m7 0h1m5 0h3m2 0h2m1 0h1m6 0h2m15 0h2M284 287.5h1m4 0h2m1 0h1m2 0h1m2 0h1m7 0h1m1 0h1m6 0h1M282 288.5h3m6 0h2m2 0h1m7 0h4m6 0h1m2 0h1m4 0h3m6 0h2m1 0h1M282 289.5h1m3 0h1m6 0h1m2 0h3m4 0h1m2 0h1m5 0h1m7 0h1m1 0h1m6 0h1M286 290.5h1m2 0h3m2 0h1m3 0h1m4 0h2m6 0h1m5 0h1m1 0h4m2 0h1m2 0h1M282 291.5h1m2 0h1m1 0h6m3 0h1m1 0h1m2 0h1m2 0h1m1 0h3m9 0h2m4 0h1m1 0h1M283 292.5h2m2 0h1m3 0h1m4 0h1m1 0h2m1 0h1m3 0h1m7 0h1m8 0h1m2 0h1m8 0h1M258 293.5h2m2 0h2m2 0h1m2 0h1m15 0h3m2 0h1m2 0h3m2 0h1m2 0h1m3 0h1m1 0h1m1 0h1m1 0h1m2 0h1m3 0h1m2 0h1m1 0h1m1 0h1m6 0h1m1 0h1M263 294.5h1m4 0h1m5 0h1m6 0h1m1 0h1m9 0h2m8 0h1m8 0h1m3 0h1m1 0h1m10 0h1m4 0h1M270 295.5h8m1 0h1m4 0h1m1 0h4m1 0h1m1 0h1m2 0h1m5 0h2m3 0h2m1 0h1m4 0h1m6 0h1" stroke="#6e6e6e" stroke-width="1" fill="none" shape-rendering="crispEdges"/><path d="M272 231.5h2m4 0h3m1 0h2m1 0h1m3 0h1m5 0h1M270 232.5h16m1 0h1m1 0h3m2 0h1M266 233.5h23m2 0h1m1 0h2M263 234.5h28m1 0h1m3 0h1M261 235.5h27m1 0h5m1 0h2M260 236.5h31m2 0h2m6 0h1M260 237.5h30m1 0h1m1 0h2M258 238.5h34m1 0h1m4 0h1M257 239.5h39m1 0h1M255 240.5h36m2 0h2m1 0h2m1 0h1M256 241.5h34m2 0h4m5 0h1M255 242.5h43M254 243.5h39m5 0h2M254 244.5h39m3 0h1M255 245.5h39m2 0h1m1 0h1m1 0h1m1 0h1M254 246.5h40m2 0h2m4 0h1m2 0h1M254 247.5h41m2 0h2M254 248.5h38m1 0h1m4 0h1M254 249.5h41m1 0h3m1 0h1M254 250.5h38m2 0h1m1 0h1M254 251.5h36m1 0h2m3 0h2M254 252.5h37m1 0h1m1 0h2m1 0h2M254 253.5h39m2 0h2M254 254.5h37m1 0h1m2 0h2M254 255.5h38m5 0h1m1 0h1M254 256.5h40m1 0h2m4 0h1M254 257.5h33m1 0h3m2 0h3m3 0h1M254 258.5h34m1 0h2m1 0h3m1 0h1M254 259.5h33m1 0h1m1 0h1m2 0h1m1 0h1m1 0h1M254 260.5h32m1 0h2m1 0h1m7 0h1M254 261.5h36m3 0h1M254 262.5h35m1 0h4M254 263.5h31m1 0h2m1 0h1m6 0h1M254 264.5h34m1 0h1M254 265.5h31m2 0h1m6 0h1m2 0h1M254 266.5h28m1 0h2m1 0h4m1 0h2M254 267.5h28m1 0h2m3 0h1M254 268.5h25m1 0h2m2 0h3m1 0h1m1 0h1M254 269.5h2m13 0h14m2 0h1m2 0h1m3 0h1M254 270.5h2m13 0h13m4 0h1m3 0h1M254 271.5h3m12 0h9m1 0h4m2 0h1m2 0h1m4 0h1M254 272.5h2m13 0h13m1 0h1m1 0h3M254 273.5h2m13 0h12m1 0h1m3 0h1M254 274.5h2m10 0h1m2 0h10m1 0h1m6 0h2m3 0h1M254 275.5h25M254 276.5h28M254 277.5h28m1 0h3M254 278.5h25m5 0h1M254 279.5h23m1 0h5m2 0h1m6 0h1M254 280.5h25m1 0h2m2 0h2M254 281.5h23m1 0h4m1 0h2M254 282.5h25m1 0h3m4 0h1M254 283.5h23m1 0h5m6 0h1M254 284.5h24m2 0h1m1 0h1M254 285.5h26m2 0h2M254 286.5h27m1 0h1m3 0h1m3 0h1M254 287.5h25m1 0h3M254 288.5h28m5 0h1M254 289.5h25m4 0h3m1 0h1M254 290.5h22m1 0h4m2 0h1M254 291.5h22m2 0h1m1 0h1m2 0h2M254 292.5h3m1 0h2m1 0h9m1 0h5m1 0h3m1 0h2m2 0h1m2 0h1M260 293.5h1m9 0h1m3 0h4m1 0h3m1 0h1M275 294.5h3m1 0h1m6 0h1M278 295.5h1m2 0h3m1 0h1" stroke="#000" stroke-width="1" fill="none" shape-rendering="crispEdges"/>
<path d="M255.6 259.84C255.75 252.35 255.16 251.8 255.97 247.96C256.77 244.12 257.8 242.84 259.63 240.65C261.45 238.46 262.55 238.05 265.11 236.99C267.67 235.93 269.42 235.31 272.42 235.35C275.42 235.38 277.91 235.93 280.1 237.18C282.29 238.42 282.88 239.22 283.39 241.56C283.9 243.9 283.61 245.95 282.66 248.88C281.71 251.8 280.61 253.56 278.64 256.19C276.66 258.82 274.65 259.48 272.79 262.04C270.92 264.6 270.23 265.77 269.31 268.99C268.4 272.2 268.62 274.84 268.22 278.13C267.82 281.42 268.14 283.32 267.3 285.44C266.46 287.56 265.99 288.03 264.01 288.73C262.04 289.42 259.19 289.57 257.43 288.91C255.68 288.25 255.6 291.25 255.24 285.44C254.87 279.63 255.46 267.34 255.6 259.84Z" fill="#fff" stroke="#222" stroke-width="0.45"/>
<path d="M257.27 259.61C257.39 253.16 256.89 252.69 257.58 249.39C258.27 246.09 259.15 244.98 260.73 243.1C262.3 241.21 263.24 240.87 265.44 239.95C267.64 239.04 269.15 238.51 271.73 238.54C274.31 238.57 276.45 239.04 278.33 240.11C280.22 241.18 280.72 241.87 281.16 243.88C281.61 245.9 281.35 247.66 280.54 250.17C279.72 252.69 278.78 254.2 277.08 256.46C275.38 258.73 273.65 259.29 272.05 261.49C270.44 263.69 269.84 264.7 269.06 267.47C268.27 270.23 268.46 272.5 268.12 275.33C267.77 278.16 268.05 279.79 267.33 281.62C266.61 283.44 266.2 283.85 264.5 284.45C262.8 285.04 260.35 285.17 258.84 284.6C257.33 284.04 257.27 286.62 256.95 281.62C256.64 276.62 257.14 266.05 257.27 259.61Z" fill="#d6d6d6" stroke="#222" stroke-width="0.45"/>
<path d="M258.69 259.4C258.8 253.86 258.37 253.45 258.96 250.61C259.56 247.77 260.32 246.82 261.67 245.2C263.02 243.57 263.83 243.28 265.73 242.49C267.62 241.71 268.92 241.25 271.14 241.27C273.36 241.3 275.2 241.71 276.82 242.63C278.44 243.55 278.88 244.14 279.26 245.87C279.64 247.61 279.42 249.12 278.72 251.28C278.01 253.45 277.2 254.75 275.74 256.7C274.28 258.64 272.79 259.13 271.41 261.03C270.03 262.92 269.52 263.79 268.84 266.17C268.16 268.55 268.33 270.5 268.03 272.93C267.73 275.37 267.97 276.77 267.35 278.34C266.73 279.91 266.38 280.26 264.92 280.78C263.46 281.29 261.35 281.4 260.05 280.91C258.75 280.42 258.69 282.64 258.42 278.34C258.15 274.04 258.59 264.95 258.69 259.4Z" fill="#c4c4c4" stroke="#222" stroke-width="0.45"/>
<path d="M260.12 259.2C260.21 254.55 259.85 254.21 260.35 251.83C260.85 249.45 261.48 248.66 262.61 247.3C263.75 245.94 264.43 245.69 266.01 245.03C267.6 244.37 268.69 243.99 270.55 244.01C272.41 244.03 273.95 244.37 275.31 245.14C276.67 245.91 277.03 246.41 277.35 247.86C277.67 249.31 277.48 250.58 276.9 252.4C276.31 254.21 275.63 255.3 274.4 256.93C273.18 258.56 271.93 258.97 270.77 260.56C269.62 262.14 269.19 262.87 268.62 264.86C268.05 266.86 268.19 268.49 267.94 270.53C267.69 272.57 267.9 273.75 267.37 275.07C266.85 276.38 266.56 276.68 265.33 277.11C264.11 277.54 262.34 277.63 261.25 277.22C260.17 276.81 260.12 278.67 259.89 275.07C259.67 271.46 260.03 263.84 260.12 259.2Z" fill="none" stroke="#333" stroke-width="0.4"/>
<ellipse cx="268.4" cy="248.51" rx="8.2" ry="11" transform="rotate(24 268.4 248.51)" fill="none" stroke="#333" stroke-width="0.4"/>
<ellipse cx="268.15" cy="248.21" rx="6.8" ry="9.3" transform="rotate(24 268.4 248.51)" fill="none" stroke="#333" stroke-width="0.4"/>
<ellipse cx="267.9" cy="247.91" rx="5.5" ry="7.6" transform="rotate(24 268.4 248.51)" fill="none" stroke="#333" stroke-width="0.4"/>
<ellipse cx="267.65" cy="247.61" rx="4.3" ry="6" transform="rotate(24 268.4 248.51)" fill="none" stroke="#333" stroke-width="0.4"/>
<ellipse cx="267.4" cy="247.31" rx="3.2" ry="4.5" transform="rotate(24 268.4 248.51)" fill="none" stroke="#333" stroke-width="0.4"/>
<ellipse cx="267.15" cy="247.01" rx="2.1" ry="3" transform="rotate(24 268.4 248.51)" fill="none" stroke="#333" stroke-width="0.4"/>
<ellipse cx="266.9" cy="246.71" rx="1.1" ry="1.6" transform="rotate(24 268.4 248.51)" fill="none" stroke="#333" stroke-width="0.4"/>
<ellipse cx="261.45" cy="280.87" rx="4.3" ry="6" fill="none" stroke="#444" stroke-width="0.4"/>
<ellipse cx="261.45" cy="280.87" rx="3" ry="4.4" fill="none" stroke="#444" stroke-width="0.4"/>
<ellipse cx="261.45" cy="280.87" rx="1.7" ry="2.6" fill="none" stroke="#444" stroke-width="0.4"/>
<rect x="253.2" y="212" width="83.2" height="84.4" fill="none" stroke="#777" stroke-width="0.7"/><path d="M251.6 222h1.6M251.6 239h1.6M251.6 256h1.6M251.6 272h1.6M251.6 289h1.6M254.2 296.4v1.6M269.2 296.4v1.6M284.2 296.4v1.6M300.2 296.4v1.6M315.2 296.4v1.6M331.2 296.4v1.6" stroke="#555" stroke-width="0.6" fill="none"/>
<rect x="253.23" y="232.42" width="44.79" height="33.82" fill="none" stroke="#999" stroke-width="0.5"/>
<rect x="253.23" y="266.24" width="14.63" height="23.22" fill="none" stroke="#999" stroke-width="0.5"/>
<rect x="253.78" y="290.56" width="15.9" height="4.02" fill="none" stroke="#999" stroke-width="0.5"/>
<rect x="270.59" y="290.56" width="29.25" height="4.02" fill="none" stroke="#999" stroke-width="0.5"/>
<text x="300.8" y="230.4" font-size="5.8" text-anchor="start" fill="#000" font-weight="bold" stroke="#000" stroke-width="0.15">79.4</text>
<text x="305.3" y="265.9" font-size="5.8" text-anchor="start" fill="#000" font-weight="bold" stroke="#000" stroke-width="0.15">1.17</text>
<rect x="255.8" y="268.6" width="10.8" height="6" fill="#fff"/><text x="256.3" y="273.7" font-size="5.8" text-anchor="start" fill="#000" font-weight="bold" stroke="#000" stroke-width="0.15">17.5</text>
<path d="M397 213.5h1m16 0h1m4 0h1m14 0h1M440 215.5h1M389 217.5h1m4 0h1M418 218.5h1M381 219.5h1M387 221.5h1m6 0h1m25 0h1M390 222.5h1m5 0h1m2 0h1m39 0h1M420 223.5h1M409 224.5h1M400 225.5h1M384 226.5h1m47 0h1M393 227.5h1M431 228.5h1M432 229.5h1M387 230.5h2m14 0h1m1 0h1M381 231.5h1m6 0h1m2 0h1m3 0h1m3 0h2m6 0h1m6 0h1M383 232.5h1m16 0h1m1 0h1m1 0h4m2 0h2m2 0h1M381 233.5h2m19 0h1m5 0h2m1 0h1m1 0h1m22 0h1M375 234.5h3m1 0h2m18 0h1m4 0h1m1 0h2m2 0h2m2 0h1m1 0h1m4 0h1m4 0h1m4 0h1m6 0h1M370 235.5h1m35 0h3m2 0h3m4 0h1m5 0h1m5 0h1M367 236.5h2m33 0h3m3 0h1m1 0h1m1 0h1m3 0h1m2 0h1m1 0h1m2 0h1M409 237.5h2m2 0h1m3 0h1m10 0h1m4 0h2M364 238.5h2m41 0h1m1 0h1m1 0h1m2 0h1m4 0h1m15 0h1M402 239.5h1m4 0h1m3 0h1m5 0h1m7 0h2m10 0h1M403 240.5h2m1 0h2m1 0h1m2 0h1m4 0h1m1 0h1M402 241.5h1m2 0h4m3 0h1m2 0h1m3 0h1m11 0h1m2 0h1M403 242.5h1m2 0h1m4 0h2m1 0h3m10 0h1m2 0h1M360 243.5h1m41 0h1m1 0h2m1 0h1m4 0h1m6 0h1m2 0h2m1 0h3m10 0h1m1 0h2M360 244.5h1m44 0h1m1 0h1m3 0h1m1 0h1m2 0h1m2 0h1m2 0h1m1 0h1m15 0h1M405 245.5h1m2 0h5m6 0h1m19 0h1m1 0h1M403 246.5h1m4 0h1m4 0h1m2 0h1m9 0h2m13 0h1M406 247.5h1m1 0h1m1 0h1m3 0h1m4 0h1m7 0h1m10 0h1M402 248.5h1m4 0h1m1 0h3m5 0h2m3 0h1m2 0h1m1 0h1m3 0h1m3 0h1m4 0h1M403 249.5h1m1 0h1m2 0h1m3 0h1m2 0h2m9 0h1m6 0h1m1 0h1m2 0h1M403 250.5h2m4 0h3m15 0h1m5 0h1m3 0h1m1 0h1M405 251.5h1m2 0h3m1 0h3m7 0h1m1 0h2m2 0h2m2 0h1m4 0h1M402 252.5h3m1 0h1m1 0h1m1 0h1m3 0h1m2 0h1m10 0h1m1 0h1m1 0h1m2 0h1m2 0h2M402 253.5h1m1 0h1m1 0h3m3 0h1m4 0h1m4 0h1m13 0h1M403 254.5h1m1 0h2m1 0h1m2 0h1m2 0h1m6 0h1m10 0h1M403 255.5h1m1 0h1m2 0h1m1 0h1m1 0h1m2 0h2m4 0h1m9 0h1m3 0h1m2 0h1M399 256.5h1m4 0h1m5 0h2m4 0h1m10 0h1m1 0h1m5 0h1m1 0h1m2 0h1M398 257.5h1m6 0h1m2 0h1m11 0h1m1 0h1m2 0h1m3 0h2m4 0h1M401 258.5h2m2 0h1m1 0h1m7 0h1m3 0h1m4 0h1m2 0h1m2 0h3m8 0h1M402 259.5h1m2 0h1m8 0h2m14 0h1m2 0h1M398 260.5h1m3 0h1m2 0h1m6 0h1m17 0h1m1 0h1m3 0h1M399 261.5h1m1 0h2m1 0h1m1 0h1m2 0h1m23 0h1M403 262.5h3m2 0h1m1 0h1M399 263.5h2m7 0h1m17 0h1M393 264.5h2m3 0h2m2 0h2m3 0h3m16 0h1m8 0h1m3 0h1M396 265.5h1m4 0h2m5 0h1m17 0h2m11 0h1M395 266.5h2m2 0h1m1 0h6m1 0h1m4 0h1m6 0h1m3 0h1m12 0h1m1 0h2M364 267.5h2m3 0h3m1 0h2m18 0h1m7 0h1m1 0h1m3 0h2m1 0h1m5 0h1m4 0h1m3 0h1m12 0h1M361 268.5h1m3 0h1m3 0h1m2 0h1m18 0h1m5 0h1m3 0h2m6 0h1m6 0h2m5 0h1m15 0h1m1 0h1M362 269.5h1m1 0h3m28 0h1m3 0h1m4 0h3m1 0h1m7 0h1m2 0h2m2 0h1m1 0h1m12 0h1M361 270.5h1m1 0h1m2 0h2m3 0h1m2 0h1m17 0h1m1 0h1m4 0h2m5 0h5m1 0h1m2 0h1m5 0h2m14 0h1m1 0h1M365 271.5h1m5 0h2m19 0h2m1 0h1m1 0h6m4 0h1m1 0h1m1 0h1m2 0h3m4 0h1m5 0h2m10 0h1m1 0h1M365 272.5h1m4 0h1m1 0h1m20 0h1m4 0h1m1 0h1m2 0h2m7 0h1m6 0h1m10 0h1m1 0h1M396 273.5h2m2 0h2m1 0h1m3 0h1m2 0h1m5 0h1m10 0h1m5 0h1m2 0h1M390 274.5h2m3 0h1m1 0h1m1 0h2m1 0h2m5 0h1m13 0h2m14 0h1M393 275.5h6m1 0h2m8 0h1m3 0h1m6 0h1m5 0h1m4 0h1m2 0h1m4 0h1M389 276.5h1m1 0h1m3 0h1m18 0h1m3 0h1m3 0h1m7 0h1m7 0h2m1 0h1M392 277.5h2m2 0h1m1 0h1m1 0h1m1 0h2m7 0h1m1 0h1m16 0h1m3 0h1m1 0h1M394 278.5h1m1 0h2m9 0h1m3 0h1m15 0h1M392 279.5h1m1 0h3m3 0h1m2 0h3m3 0h1m5 0h1m9 0h1m4 0h1m1 0h1M392 280.5h1m4 0h2m1 0h1m1 0h3m8 0h1m6 0h1m8 0h2m2 0h1m1 0h1m5 0h1M391 281.5h1m1 0h1m1 0h3m8 0h1m2 0h1m3 0h1m7 0h1m8 0h1M392 282.5h1m1 0h1m2 0h2m2 0h3m9 0h1m2 0h1m12 0h2M392 283.5h1m1 0h5m2 0h2m4 0h1m4 0h1m16 0h1m3 0h1m5 0h1m1 0h1M394 284.5h2m1 0h2m5 0h1m2 0h1m2 0h1m2 0h2m1 0h1m8 0h1m3 0h1M391 285.5h1m1 0h3m5 0h1m1 0h1m5 0h1m10 0h1m15 0h1m3 0h1M390 286.5h1m1 0h2m4 0h1m1 0h3m1 0h1m3 0h1m10 0h2m8 0h1m2 0h1M392 287.5h2m1 0h1m9 0h1m1 0h1m1 0h1m1 0h1m3 0h1m1 0h3m3 0h1m1 0h1m3 0h1m8 0h1M390 288.5h1m1 0h2m3 0h1m1 0h1m1 0h2m19 0h1m4 0h1m10 0h1M389 289.5h1m2 0h2m1 0h1m12 0h1m4 0h1m7 0h1m7 0h1m2 0h1m1 0h1M392 290.5h2m8 0h1m3 0h1m4 0h1m1 0h1m4 0h1m1 0h1m2 0h1m9 0h1m1 0h1m5 0h1M390 291.5h2m1 0h1m1 0h2m1 0h1m1 0h1m4 0h1m1 0h3m23 0h1m2 0h1m4 0h1M365 292.5h1m10 0h1m11 0h3m3 0h1m2 0h1m5 0h2m5 0h1m1 0h1m10 0h1m1 0h1m12 0h1M371 293.5h1m6 0h1m12 0h1m2 0h1m2 0h4m5 0h2m11 0h3m4 0h1m6 0h1M373 294.5h1m6 0h1m5 0h1m3 0h1m3 0h1m3 0h1m1 0h1m2 0h1m12 0h1m21 0h1m2 0h1M383 295.5h1m8 0h1m1 0h1m6 0h1m6 0h1m2 0h2m1 0h1m10 0h1m2 0h1m6 0h1m1 0h1" stroke="#6e6e6e" stroke-width="1" fill="none" shape-rendering="crispEdges"/><path d="M386 231.5h1m10 0h2m2 0h1M385 232.5h5m1 0h6m1 0h2m1 0h1M383 233.5h6m3 0h1m1 0h6m3 0h1M381 234.5h1m1 0h12m1 0h3m1 0h2m3 0h1M372 235.5h24m2 0h3m1 0h3M369 236.5h2m2 0h27m1 0h1m5 0h1M368 237.5h28m1 0h4m1 0h1m1 0h1m1 0h1M366 238.5h33m1 0h1m1 0h3m1 0h1M365 239.5h33m1 0h3m1 0h4M362 240.5h40m3 0h1m4 0h1M362 241.5h38M362 242.5h41M361 243.5h39m3 0h1m2 0h1m2 0h1M361 244.5h37m1 0h2m3 0h1m3 0h1M360 245.5h41m1 0h2m2 0h1m6 0h1M360 246.5h41m1 0h1m2 0h2M360 247.5h46m1 0h1M360 248.5h42m2 0h1m1 0h1m1 0h1M360 249.5h40m4 0h1M360 250.5h39m1 0h3m4 0h2M360 251.5h40m1 0h1m1 0h2M360 252.5h40m5 0h1M360 253.5h38m1 0h1m1 0h1M360 254.5h42M360 255.5h40m1 0h1M360 256.5h39m2 0h3M360 257.5h38m2 0h1m2 0h1m5 0h1M360 258.5h35m1 0h1m1 0h3m2 0h2m1 0h1M360 259.5h37m2 0h1m1 0h1m1 0h2M360 260.5h36m1 0h1m1 0h3m1 0h1M360 261.5h33m1 0h3M360 262.5h34m2 0h5M360 263.5h35m1 0h3M360 264.5h33m2 0h2m3 0h1M360 265.5h32m1 0h1m1 0h1m1 0h1m2 0h1m3 0h1M360 266.5h35M360 267.5h1m11 0h1m2 0h13m1 0h2m1 0h1m1 0h1m1 0h2m1 0h1M360 268.5h1m1 0h1m12 0h15m2 0h1m1 0h2m3 0h2m5 0h1M360 269.5h1m11 0h1m2 0h14m1 0h2m1 0h1m2 0h1m1 0h1M360 270.5h1m1 0h1m12 0h15m1 0h1m1 0h1m1 0h1m2 0h1m4 0h1M360 271.5h1m14 0h14m2 0h1m2 0h1m1 0h1M360 272.5h1m14 0h14m2 0h1m3 0h2M360 273.5h27m1 0h5M360 274.5h29m4 0h2M360 275.5h30m1 0h2m6 0h1M360 276.5h29m1 0h1m1 0h1m1 0h1m1 0h1M360 277.5h27m1 0h4M360 278.5h26m1 0h1m1 0h3m1 0h1m1 0h1M360 279.5h31m2 0h1M360 280.5h28m1 0h3m4 0h1M360 281.5h31M360 282.5h30m1 0h1m1 0h1M360 283.5h24m1 0h4m2 0h1M360 284.5h26m1 0h2m2 0h3m6 0h1M360 285.5h31m6 0h1M360 286.5h29m2 0h1m3 0h1M360 287.5h30M360 288.5h30m4 0h1M360 289.5h25m1 0h3m5 0h1m6 0h1M360 290.5h28m7 0h1M361 291.5h27m6 0h1M363 292.5h1m5 0h2m1 0h4m1 0h3m1 0h6m4 0h2m2 0h1M383 293.5h5m1 0h2m1 0h2M381 294.5h1m1 0h3m2 0h2m7 0h1M382 295.5h1m1 0h4m2 0h1" stroke="#000" stroke-width="1" fill="none" shape-rendering="crispEdges"/>
<path d="M361.87 265.33C362.05 257.72 362.16 252.17 362.97 247.41C363.77 242.66 364.07 243.28 365.89 241.56C367.72 239.84 368.67 239.44 372.11 238.82C375.55 238.2 379.61 238.05 383.08 238.46C386.55 238.86 387.8 239.26 389.48 240.83C391.16 242.4 391.45 243.79 391.49 246.32C391.52 248.84 390.9 250.74 389.66 253.45C388.42 256.15 387.25 257.47 385.27 259.84C383.3 262.22 381.62 262.77 379.79 265.33C377.96 267.89 377.05 269.35 376.13 272.64C375.22 275.93 375.95 278.86 375.22 281.78C374.49 284.71 374.49 285.95 372.48 287.27C370.46 288.58 367.25 288.73 365.16 288.36C363.08 288 362.71 290.05 362.05 285.44C361.4 280.83 361.69 272.93 361.87 265.33Z" fill="#fff" stroke="#222" stroke-width="0.45"/>
<path d="M363.71 264.42C363.87 257.88 363.96 253.1 364.65 249.02C365.35 244.93 365.6 245.46 367.17 243.98C368.74 242.51 369.56 242.16 372.52 241.63C375.47 241.09 378.96 240.97 381.95 241.31C384.94 241.66 386.01 242 387.45 243.36C388.9 244.71 389.15 245.9 389.18 248.07C389.21 250.24 388.68 251.88 387.61 254.2C386.54 256.53 385.53 257.66 383.84 259.71C382.14 261.75 380.69 262.22 379.12 264.42C377.55 266.62 376.76 267.88 375.97 270.71C375.19 273.54 375.82 276.06 375.19 278.57C374.56 281.09 374.56 282.16 372.83 283.29C371.1 284.42 368.33 284.55 366.54 284.23C364.75 283.92 364.43 285.68 363.87 281.72C363.3 277.76 363.55 270.96 363.71 264.42Z" fill="#d6d6d6" stroke="#222" stroke-width="0.45"/>
<path d="M365.29 263.65C365.42 258.02 365.5 253.91 366.1 250.39C366.69 246.87 366.91 247.33 368.26 246.06C369.62 244.79 370.32 244.49 372.86 244.03C375.41 243.57 378.41 243.46 380.98 243.76C383.55 244.06 384.47 244.35 385.72 245.52C386.96 246.68 387.18 247.71 387.2 249.58C387.23 251.44 386.77 252.85 385.85 254.85C384.93 256.85 384.07 257.83 382.6 259.59C381.14 261.35 379.9 261.75 378.55 263.65C377.19 265.54 376.52 266.62 375.84 269.06C375.16 271.49 375.7 273.66 375.16 275.82C374.62 277.99 374.62 278.91 373.13 279.88C371.65 280.85 369.27 280.96 367.72 280.69C366.18 280.42 365.91 281.94 365.42 278.53C364.94 275.12 365.15 269.27 365.29 263.65Z" fill="#c4c4c4" stroke="#222" stroke-width="0.45"/>
<path d="M366.86 262.87C366.98 258.15 367.05 254.71 367.54 251.76C368.04 248.81 368.22 249.2 369.36 248.13C370.49 247.07 371.08 246.82 373.21 246.43C375.34 246.05 377.86 245.96 380.01 246.21C382.17 246.46 382.94 246.71 383.98 247.68C385.02 248.66 385.2 249.52 385.23 251.08C385.25 252.65 384.86 253.82 384.09 255.5C383.32 257.18 382.6 258 381.37 259.47C380.15 260.94 379.11 261.28 377.97 262.87C376.84 264.46 376.27 265.36 375.71 267.4C375.14 269.44 375.59 271.26 375.14 273.07C374.69 274.88 374.69 275.65 373.44 276.47C372.19 277.29 370.2 277.38 368.9 277.15C367.61 276.92 367.39 278.19 366.98 275.34C366.57 272.48 366.75 267.58 366.86 262.87Z" fill="none" stroke="#333" stroke-width="0.4"/>
<ellipse cx="375.4" cy="248.51" rx="8.2" ry="11" transform="rotate(24 375.4 248.51)" fill="none" stroke="#333" stroke-width="0.4"/>
<ellipse cx="375.15" cy="248.21" rx="6.8" ry="9.3" transform="rotate(24 375.4 248.51)" fill="none" stroke="#333" stroke-width="0.4"/>
<ellipse cx="374.9" cy="247.91" rx="5.5" ry="7.6" transform="rotate(24 375.4 248.51)" fill="none" stroke="#333" stroke-width="0.4"/>
<ellipse cx="374.65" cy="247.61" rx="4.3" ry="6" transform="rotate(24 375.4 248.51)" fill="none" stroke="#333" stroke-width="0.4"/>
<ellipse cx="374.4" cy="247.31" rx="3.2" ry="4.5" transform="rotate(24 375.4 248.51)" fill="none" stroke="#333" stroke-width="0.4"/>
<ellipse cx="374.15" cy="247.01" rx="2.1" ry="3" transform="rotate(24 375.4 248.51)" fill="none" stroke="#333" stroke-width="0.4"/>
<ellipse cx="373.9" cy="246.71" rx="1.1" ry="1.6" transform="rotate(24 375.4 248.51)" fill="none" stroke="#333" stroke-width="0.4"/>
<ellipse cx="368.45" cy="280.87" rx="4.3" ry="6" fill="none" stroke="#444" stroke-width="0.4"/>
<ellipse cx="368.45" cy="280.87" rx="3" ry="4.4" fill="none" stroke="#444" stroke-width="0.4"/>
<ellipse cx="368.45" cy="280.87" rx="1.7" ry="2.6" fill="none" stroke="#444" stroke-width="0.4"/>
<rect x="359" y="212.3" width="84" height="84.1" fill="none" stroke="#777" stroke-width="0.7"/><path d="M357.4 222.3h1.6M357.4 239.3h1.6M357.4 256.3h1.6M357.4 272.3h1.6M357.4 289.3h1.6M360 296.4v1.6M375 296.4v1.6M390 296.4v1.6M406 296.4v1.6M421 296.4v1.6M437 296.4v1.6" stroke="#555" stroke-width="0.6" fill="none"/>
<rect x="359.31" y="232.42" width="41.68" height="33.82" fill="none" stroke="#999" stroke-width="0.5"/>
<rect x="359.31" y="266.24" width="15.54" height="22.85" fill="none" stroke="#999" stroke-width="0.5"/>
<rect x="359.31" y="290.01" width="15.54" height="4.57" fill="none" stroke="#999" stroke-width="0.5"/>
<rect x="375.77" y="290.01" width="30.16" height="4.57" fill="none" stroke="#999" stroke-width="0.5"/>
<text x="406.5" y="229.9" font-size="5.8" text-anchor="start" fill="#000" font-weight="bold" stroke="#000" stroke-width="0.15">74</text>
<text x="412" y="265.1" font-size="5.8" text-anchor="start" fill="#000" font-weight="bold" stroke="#000" stroke-width="0.15">1.85</text>
<rect x="361.3" y="267.3" width="10.8" height="6" fill="#fff"/><text x="362" y="272.4" font-size="5.8" text-anchor="start" fill="#000" font-weight="bold" stroke="#000" stroke-width="0.15">22.1</text>
<path d="M307.38 404.75C309.36 407.18 311.36 408.66 312.86 411.59C314.35 414.53 316.73 417.36 314.85 419.43C312.96 421.51 307.57 421.34 303.43 421.96C299.29 422.58 297.31 422.39 294.14 422.54C290.98 422.68 289.91 422.68 287.61 422.69C285.3 422.7 284.41 422.63 282.63 422.59C280.85 422.55 280.16 422.54 278.72 422.51C277.28 422.48 276.67 422.47 275.42 422.45C274.17 422.42 273.61 422.45 272.46 422.39C271.31 422.32 270.77 422.22 269.67 422.11C268.57 422 268.06 421.95 266.96 421.84C265.87 421.73 265.35 421.68 264.21 421.56C263.07 421.45 262.51 421.39 261.26 421.27C260 421.14 258.95 421.52 257.91 420.93C256.88 420.35 256.78 419.36 256.08 418.35C255.38 417.33 254.82 416.97 254.41 415.84C254 414.72 254.13 413.91 254.04 412.72C253.94 411.52 253.97 410.96 253.93 409.87C253.89 408.78 253.87 408.29 253.83 407.26C253.8 406.24 253.78 405.76 253.74 404.75C253.7 403.74 253.66 403.26 253.64 402.22C253.63 401.18 253.62 400.66 253.66 399.55C253.69 398.44 253.74 397.91 253.8 396.67C253.86 395.43 253.85 394.79 253.97 393.34C254.08 391.9 253.92 390.87 254.37 389.45C254.81 388.03 255.37 387.52 256.21 386.23C257.05 384.93 257.43 384.03 258.57 382.96C259.71 381.89 260.51 381.71 261.91 380.87C263.31 380.03 264 379.39 265.55 378.76C267.11 378.14 267.96 378.16 269.67 377.74C271.38 377.31 272.14 377.33 274.13 376.62C276.11 375.91 277.04 375.34 279.61 374.17C282.17 373.01 284.19 371.24 286.97 370.8C289.75 370.36 293.16 368.96 293.49 371.97C293.82 374.97 289.26 382.24 288.62 385.81C287.97 389.37 289.22 388.47 290.27 389.79C291.32 391.11 292.14 391.33 293.88 392.42C295.63 393.5 297.17 393.81 298.99 395.23C300.82 396.64 301.32 397.57 303 399.48C304.67 401.38 305.41 402.33 307.38 404.75Z" fill="#fff" stroke="#222" stroke-width="0.5"/>
<path d="M302.66 404.75C304.53 406.88 306.45 408.2 307.87 410.8C309.29 413.41 311.18 415.82 309.75 417.78C308.33 419.73 304.21 419.89 300.74 420.59C297.28 421.29 295.28 421.1 292.41 421.28C289.55 421.46 288.54 421.47 286.41 421.49C284.28 421.51 283.42 421.42 281.75 421.39C280.09 421.35 279.45 421.34 278.1 421.31C276.76 421.28 276.19 421.27 275.03 421.24C273.86 421.21 273.34 421.23 272.27 421.16C271.2 421.09 270.69 420.99 269.67 420.88C268.65 420.77 268.17 420.72 267.16 420.62C266.14 420.51 265.66 420.46 264.6 420.34C263.55 420.23 263.04 420.18 261.87 420.05C260.71 419.93 259.76 420.26 258.79 419.73C257.82 419.2 257.7 418.32 257.02 417.41C256.33 416.49 255.81 416.16 255.36 415.15C254.91 414.14 254.91 413.45 254.76 412.35C254.6 411.25 254.66 410.69 254.6 409.65C254.54 408.61 254.51 408.14 254.45 407.16C254.4 406.18 254.37 405.73 254.31 404.75C254.25 403.78 254.19 403.3 254.17 402.3C254.15 401.3 254.18 400.8 254.21 399.73C254.24 398.66 254.29 398.15 254.34 396.94C254.4 395.74 254.35 395.09 254.49 393.73C254.64 392.37 254.61 391.5 255.07 390.15C255.52 388.81 255.95 388.21 256.77 387C257.59 385.79 258.05 385.1 259.15 384.12C260.26 383.13 260.97 382.83 262.3 382.07C263.63 381.32 264.33 380.86 265.8 380.34C267.28 379.83 268.08 379.77 269.67 379.5C271.26 379.22 272.01 379.29 273.75 378.97C275.5 378.65 276.32 378.43 278.39 377.9C280.47 377.38 281.99 376.34 284.14 376.36C286.28 376.37 288.68 375.64 289.13 377.98C289.58 380.31 286.61 385.34 286.39 388.04C286.16 390.73 287.09 390.27 287.99 391.45C288.89 392.63 289.52 392.91 290.9 393.94C292.27 394.96 293.35 395.32 294.87 396.57C296.39 397.82 296.93 398.55 298.48 400.19C300.04 401.83 300.78 402.63 302.66 404.75Z" fill="none" stroke="#222" stroke-width="0.5"/>
<path d="M298.5 404.75C300.3 406.61 302.13 407.8 303.49 410.11C304.84 412.42 306.3 414.47 305.28 416.32C304.26 418.18 301.26 418.61 298.38 419.38C295.51 420.15 293.5 419.96 290.89 420.17C288.29 420.39 287.34 420.41 285.35 420.44C283.37 420.47 282.54 420.37 280.99 420.33C279.43 420.29 278.82 420.28 277.56 420.25C276.3 420.21 275.77 420.21 274.68 420.17C273.59 420.14 273.1 420.15 272.1 420.08C271.09 420 270.62 419.91 269.67 419.8C268.72 419.7 268.27 419.65 267.33 419.54C266.38 419.43 265.93 419.38 264.95 419.27C263.97 419.16 263.5 419.11 262.42 418.99C261.34 418.86 260.48 419.14 259.56 418.66C258.65 418.18 258.51 417.41 257.84 416.58C257.17 415.76 256.69 415.45 256.2 414.54C255.71 413.63 255.59 413.05 255.39 412.03C255.19 411.01 255.26 410.45 255.19 409.46C255.11 408.47 255.07 408.02 255 407.08C254.92 406.14 254.88 405.7 254.81 404.75C254.74 403.81 254.66 403.35 254.64 402.37C254.61 401.4 254.66 400.93 254.7 399.89C254.74 398.85 254.77 398.35 254.82 397.19C254.87 396.02 254.78 395.35 254.96 394.06C255.13 392.78 255.23 392.05 255.69 390.77C256.15 389.49 256.47 388.8 257.26 387.68C258.06 386.55 258.59 386.04 259.67 385.13C260.75 384.22 261.37 383.8 262.64 383.12C263.91 382.44 264.62 382.15 266.02 381.73C267.43 381.32 268.19 381.19 269.67 381.05C271.15 380.91 271.89 381.01 273.43 381.04C274.96 381.06 275.68 381.14 277.33 381.18C278.97 381.22 280.06 380.83 281.65 381.24C283.24 381.66 284.73 381.5 285.29 383.26C285.84 385.01 284.29 388.07 284.43 390C284.56 391.93 285.21 391.85 285.98 392.9C286.75 393.96 287.22 394.31 288.27 395.28C289.32 396.24 290 396.64 291.24 397.74C292.49 398.85 293.07 399.42 294.52 400.82C295.97 402.22 296.71 402.9 298.5 404.75Z" fill="none" stroke="#222" stroke-width="0.5"/>
<path d="M295.21 404.75C296.93 406.4 298.71 407.48 300.01 409.56C301.32 411.64 302.43 413.4 301.73 415.17C301.03 416.94 298.92 417.61 296.51 418.43C294.1 419.26 292.09 419.06 289.69 419.3C287.29 419.53 286.38 419.57 284.52 419.6C282.66 419.64 281.85 419.53 280.38 419.49C278.9 419.45 278.33 419.44 277.13 419.4C275.94 419.37 275.44 419.37 274.41 419.33C273.37 419.29 272.91 419.3 271.96 419.22C271.01 419.14 270.57 419.06 269.67 418.95C268.77 418.84 268.35 418.79 267.46 418.69C266.58 418.58 266.15 418.53 265.23 418.42C264.31 418.31 263.86 418.26 262.85 418.14C261.84 418.02 261.05 418.26 260.18 417.82C259.3 417.38 259.16 416.68 258.49 415.93C257.83 415.18 257.38 414.89 256.86 414.06C256.34 413.23 256.13 412.73 255.89 411.78C255.65 410.83 255.74 410.26 255.65 409.31C255.56 408.36 255.52 407.92 255.43 407.01C255.34 406.1 255.29 405.67 255.21 404.75C255.12 403.84 255.03 403.38 255 402.43C254.98 401.48 255.05 401.03 255.09 400.02C255.13 399.01 255.15 398.52 255.2 397.38C255.24 396.24 255.13 395.55 255.32 394.33C255.52 393.11 255.71 392.49 256.18 391.26C256.64 390.04 256.87 389.28 257.65 388.21C258.43 387.15 259.03 386.78 260.08 385.93C261.13 385.08 261.69 384.57 262.91 383.95C264.14 383.33 264.85 383.17 266.2 382.83C267.55 382.5 268.28 382.31 269.67 382.28C271.06 382.25 271.8 382.37 273.17 382.68C274.53 382.98 275.18 383.29 276.48 383.78C277.79 384.27 278.53 384.38 279.68 385.11C280.83 385.85 281.61 386.16 282.25 387.45C282.88 388.73 282.44 390.23 282.87 391.55C283.3 392.88 283.73 393.1 284.39 394.06C285.05 395.02 285.39 395.41 286.19 396.34C286.98 397.26 287.33 397.68 288.37 398.68C289.41 399.67 290.01 400.1 291.37 401.32C292.74 402.53 293.48 403.11 295.21 404.75Z" fill="none" stroke="#222" stroke-width="0.5"/>
<path d="M293.06 404.75C294.74 406.27 296.48 407.27 297.75 409.2C299.02 411.13 299.91 412.7 299.41 414.42C298.92 416.14 297.39 416.95 295.29 417.81C293.19 418.67 291.16 418.48 288.9 418.73C286.64 418.98 285.76 419.02 283.98 419.06C282.19 419.1 281.4 418.99 279.98 418.95C278.56 418.9 278.01 418.89 276.86 418.86C275.7 418.82 275.22 418.82 274.23 418.78C273.23 418.74 272.78 418.74 271.87 418.66C270.96 418.58 270.53 418.5 269.67 418.39C268.81 418.28 268.4 418.23 267.55 418.13C266.7 418.03 266.29 417.98 265.41 417.87C264.53 417.76 264.1 417.7 263.13 417.59C262.17 417.47 261.42 417.69 260.58 417.27C259.73 416.86 259.57 416.21 258.92 415.51C258.26 414.8 257.84 414.52 257.3 413.74C256.76 412.96 256.48 412.52 256.22 411.61C255.95 410.7 256.06 410.14 255.95 409.21C255.85 408.28 255.81 407.86 255.71 406.97C255.61 406.07 255.56 405.65 255.47 404.75C255.38 403.86 255.27 403.4 255.24 402.47C255.22 401.54 255.3 401.09 255.34 400.1C255.38 399.11 255.4 398.62 255.44 397.51C255.49 396.39 255.35 395.69 255.56 394.51C255.77 393.32 256.03 392.77 256.5 391.58C256.97 390.39 257.14 389.59 257.91 388.56C258.68 387.54 259.31 387.27 260.35 386.46C261.38 385.64 261.9 385.08 263.09 384.5C264.28 383.92 265 383.84 266.31 383.55C267.63 383.27 268.33 383.04 269.67 383.08C271.01 383.12 271.74 383.26 273 383.74C274.25 384.22 274.86 384.7 275.93 385.48C277.01 386.25 277.53 386.7 278.39 387.64C279.26 388.58 279.57 389.19 280.26 390.18C280.95 391.16 281.24 391.64 281.86 392.57C282.47 393.5 282.76 393.92 283.35 394.81C283.95 395.71 284.2 396.14 284.83 397.03C285.46 397.92 285.6 398.36 286.5 399.29C287.39 400.21 288.01 400.55 289.32 401.64C290.63 402.74 291.37 403.24 293.06 404.75Z" fill="none" stroke="#222" stroke-width="0.45"/>
<path d="M289.35 404.75C290.76 406.03 292.12 406.84 293.29 408.49C294.45 410.15 295.02 411.3 295.18 413.04C295.35 414.79 295.46 416.14 294.1 417.2C292.75 418.27 290.51 418.07 288.41 418.37C286.31 418.66 285.33 418.63 283.59 418.68C281.86 418.72 281.11 418.63 279.72 418.59C278.34 418.55 277.79 418.52 276.66 418.48C275.54 418.43 275.07 418.42 274.1 418.38C273.13 418.33 272.69 418.33 271.81 418.25C270.92 418.17 270.51 418.09 269.67 417.98C268.83 417.87 268.44 417.81 267.62 417.69C266.8 417.58 266.41 417.52 265.56 417.4C264.71 417.28 264.3 417.23 263.38 417.1C262.46 416.97 261.76 417.16 260.95 416.76C260.13 416.36 259.97 415.77 259.32 415.1C258.67 414.44 258.28 414.17 257.72 413.44C257.16 412.71 256.83 412.31 256.53 411.45C256.23 410.59 256.34 410.03 256.21 409.13C256.09 408.22 256.03 407.81 255.91 406.93C255.79 406.06 255.73 405.64 255.63 404.75C255.53 403.87 255.45 403.42 255.42 402.5C255.39 401.57 255.44 401.12 255.48 400.14C255.51 399.16 255.54 398.68 255.61 397.59C255.68 396.5 255.6 395.85 255.83 394.7C256.05 393.54 256.26 392.96 256.74 391.83C257.23 390.69 257.45 389.96 258.24 389.02C259.02 388.07 259.64 387.79 260.68 387.1C261.72 386.42 262.26 385.96 263.44 385.57C264.61 385.18 265.32 385.12 266.56 385.14C267.81 385.17 268.48 385.38 269.67 385.71C270.86 386.04 271.46 386.24 272.52 386.79C273.57 387.34 274.07 387.75 274.96 388.47C275.86 389.19 276.27 389.57 276.99 390.39C277.71 391.2 277.97 391.7 278.55 392.53C279.14 393.36 279.38 393.75 279.9 394.52C280.43 395.29 280.67 395.65 281.18 396.39C281.69 397.14 281.91 397.5 282.44 398.25C282.98 399 283.11 399.37 283.86 400.14C284.62 400.92 285.13 401.21 286.23 402.13C287.33 403.05 287.94 403.48 289.35 404.75Z" fill="none" stroke="#111" stroke-width="0.45"/>
<path d="M286.02 404.75C287.18 405.81 288.2 406.45 289.27 407.86C290.35 409.27 290.62 410.05 291.38 411.81C292.13 413.57 293.72 415.41 293.03 416.66C292.35 417.91 289.92 417.71 287.96 418.04C286.01 418.38 284.94 418.29 283.25 418.33C281.56 418.38 280.85 418.32 279.49 418.28C278.14 418.24 277.59 418.19 276.49 418.14C275.39 418.08 274.93 418.07 273.98 418.02C273.03 417.97 272.61 417.96 271.75 417.88C270.89 417.8 270.48 417.72 269.67 417.61C268.86 417.49 268.48 417.42 267.68 417.3C266.89 417.17 266.51 417.11 265.7 416.99C264.88 416.86 264.49 416.8 263.6 416.66C262.72 416.52 262.06 416.69 261.28 416.3C260.5 415.92 260.32 415.37 259.68 414.74C259.05 414.11 258.67 413.85 258.1 413.16C257.52 412.48 257.14 412.13 256.81 411.31C256.48 410.48 256.59 409.93 256.44 409.05C256.3 408.17 256.22 407.76 256.09 406.9C255.96 406.05 255.88 405.63 255.78 404.75C255.67 403.88 255.61 403.44 255.57 402.52C255.54 401.61 255.56 401.15 255.6 400.18C255.63 399.21 255.66 398.73 255.75 397.66C255.85 396.6 255.82 395.99 256.06 394.87C256.31 393.75 256.47 393.14 256.96 392.05C257.46 390.96 257.73 390.3 258.53 389.43C259.33 388.55 259.93 388.27 260.97 387.69C262.02 387.11 262.59 386.76 263.75 386.54C264.91 386.31 265.61 386.27 266.79 386.57C267.97 386.88 268.61 387.48 269.67 388.07C270.73 388.66 271.2 388.91 272.08 389.53C272.97 390.14 273.36 390.49 274.09 391.16C274.82 391.82 275.15 392.16 275.73 392.86C276.32 393.56 276.53 393.96 277.01 394.65C277.5 395.33 277.71 395.64 278.15 396.27C278.59 396.91 278.79 397.2 279.22 397.81C279.65 398.43 279.84 398.72 280.29 399.34C280.75 399.96 280.87 400.27 281.5 400.91C282.13 401.56 282.55 401.8 283.45 402.57C284.35 403.34 284.85 403.7 286.02 404.75Z" fill="none" stroke="#111" stroke-width="0.45"/>
<path d="M283.05 404.75C284 405.62 284.72 406.1 285.71 407.29C286.69 408.48 286.72 408.93 287.99 410.71C289.27 412.48 292.17 414.76 292.08 416.17C292 417.58 289.4 417.39 287.57 417.76C285.74 418.13 284.6 417.98 282.94 418.03C281.29 418.08 280.61 418.03 279.29 417.99C277.97 417.95 277.42 417.89 276.33 417.83C275.25 417.77 274.8 417.75 273.88 417.7C272.95 417.64 272.54 417.64 271.7 417.55C270.86 417.47 270.46 417.4 269.67 417.28C268.88 417.16 268.51 417.08 267.74 416.95C266.97 416.81 266.6 416.75 265.82 416.62C265.03 416.48 264.65 416.42 263.8 416.27C262.95 416.13 262.34 416.26 261.58 415.89C260.82 415.52 260.63 415.02 260 414.42C259.37 413.83 259.02 413.57 258.43 412.92C257.84 412.27 257.42 411.97 257.06 411.18C256.7 410.39 256.81 409.84 256.65 408.98C256.49 408.12 256.4 407.73 256.25 406.88C256.1 406.03 256.02 405.62 255.91 404.75C255.8 403.89 255.75 403.45 255.71 402.54C255.67 401.64 255.67 401.18 255.71 400.22C255.74 399.25 255.77 398.77 255.88 397.73C256 396.69 256.02 396.12 256.27 395.02C256.53 393.92 256.66 393.29 257.16 392.25C257.67 391.2 257.98 390.6 258.8 389.79C259.61 388.98 260.19 388.69 261.24 388.21C262.29 387.73 262.88 387.47 264.03 387.39C265.18 387.32 265.86 387.29 266.99 387.85C268.12 388.4 268.73 389.35 269.67 390.17C270.61 391 270.97 391.29 271.7 391.96C272.42 392.64 272.73 392.93 273.31 393.55C273.89 394.17 274.14 394.46 274.61 395.06C275.08 395.65 275.25 395.97 275.65 396.53C276.04 397.08 276.22 397.33 276.59 397.84C276.96 398.35 277.13 398.58 277.49 399.08C277.84 399.57 278 399.81 278.38 400.31C278.77 400.82 278.87 401.07 279.39 401.6C279.91 402.12 280.24 402.33 280.98 402.96C281.71 403.6 282.11 403.89 283.05 404.75Z" fill="none" stroke="#111" stroke-width="0.45"/>
<path d="M280.46 404.75C281.22 405.45 281.67 405.8 282.59 406.8C283.5 407.8 283.3 407.96 285.03 409.75C286.77 411.54 290.81 414.2 291.25 415.75C291.69 417.3 288.94 417.1 287.22 417.51C285.51 417.91 284.3 417.71 282.68 417.76C281.05 417.81 280.41 417.79 279.11 417.75C277.81 417.71 277.26 417.63 276.2 417.57C275.13 417.5 274.69 417.48 273.78 417.42C272.87 417.36 272.47 417.35 271.65 417.27C270.83 417.18 270.44 417.12 269.67 416.99C268.9 416.86 268.54 416.78 267.79 416.64C267.04 416.5 266.68 416.43 265.92 416.29C265.16 416.15 264.79 416.08 263.97 415.93C263.16 415.78 262.57 415.9 261.84 415.54C261.1 415.18 260.91 414.71 260.28 414.14C259.66 413.57 259.33 413.32 258.73 412.7C258.13 412.09 257.66 411.82 257.28 411.07C256.9 410.31 257.01 409.77 256.83 408.93C256.65 408.08 256.55 407.69 256.39 406.86C256.23 406.02 256.13 405.61 256.02 404.75C255.91 403.9 255.88 403.46 255.83 402.56C255.79 401.66 255.77 401.2 255.8 400.25C255.83 399.29 255.87 398.81 256 397.79C256.13 396.77 256.19 396.23 256.46 395.15C256.72 394.08 256.82 393.43 257.33 392.42C257.85 391.41 258.2 390.86 259.03 390.11C259.85 389.35 260.42 389.05 261.47 388.66C262.52 388.27 263.13 388.08 264.27 388.14C265.41 388.2 266.09 388.19 267.17 388.96C268.25 389.73 268.83 390.99 269.67 392.01C270.51 393.04 270.77 393.37 271.36 394.09C271.95 394.82 272.18 395.07 272.63 395.64C273.08 396.22 273.27 396.47 273.63 396.98C274 397.49 274.13 397.73 274.45 398.17C274.77 398.62 274.92 398.8 275.22 399.2C275.53 399.6 275.67 399.79 275.96 400.18C276.26 400.57 276.4 400.76 276.71 401.17C277.03 401.57 277.13 401.77 277.55 402.19C277.97 402.62 278.23 402.79 278.81 403.31C279.4 403.82 279.71 404.06 280.46 404.75Z" fill="none" stroke="#111" stroke-width="0.45"/>
<path d="M278.24 404.75C278.83 405.31 279.06 405.54 279.91 406.38C280.76 407.21 280.37 407.12 282.49 408.92C284.62 410.72 289.65 413.71 290.54 415.39C291.43 417.06 288.54 416.86 286.93 417.29C285.31 417.72 284.04 417.48 282.45 417.53C280.85 417.58 280.23 417.58 278.96 417.54C277.68 417.5 277.13 417.41 276.08 417.34C275.03 417.27 274.6 417.24 273.71 417.18C272.81 417.11 272.42 417.11 271.61 417.02C270.81 416.94 270.43 416.87 269.67 416.74C268.91 416.61 268.56 416.52 267.83 416.38C267.1 416.23 266.75 416.16 266.01 416.01C265.27 415.87 264.91 415.8 264.12 415.64C263.33 415.48 262.78 415.58 262.06 415.23C261.34 414.88 261.14 414.44 260.53 413.9C259.91 413.36 259.59 413.11 258.98 412.52C258.37 411.94 257.87 411.7 257.47 410.97C257.07 410.24 257.18 409.7 256.99 408.88C256.79 408.05 256.69 407.66 256.51 406.84C256.34 406.01 256.24 405.61 256.12 404.75C256.01 403.9 255.99 403.48 255.94 402.58C255.89 401.68 255.85 401.22 255.88 400.27C255.91 399.33 255.95 398.84 256.1 397.84C256.24 396.84 256.34 396.32 256.61 395.27C256.89 394.21 256.96 393.54 257.48 392.56C258 391.59 258.39 391.08 259.22 390.38C260.06 389.67 260.62 389.37 261.67 389.05C262.72 388.73 263.35 388.61 264.48 388.79C265.61 388.96 266.28 388.95 267.32 389.91C268.36 390.87 268.92 392.39 269.67 393.59C270.42 394.79 270.59 395.15 271.07 395.92C271.54 396.69 271.7 396.9 272.05 397.44C272.39 397.98 272.52 398.2 272.79 398.63C273.07 399.06 273.17 399.24 273.43 399.58C273.68 399.93 273.81 400.06 274.05 400.37C274.3 400.68 274.42 400.82 274.66 401.13C274.91 401.43 275.02 401.58 275.28 401.9C275.54 402.21 275.64 402.37 275.97 402.71C276.31 403.05 276.51 403.19 276.96 403.6C277.41 404.01 277.65 404.2 278.24 404.75Z" fill="none" stroke="#111" stroke-width="0.45"/>
<path d="M276.39 404.75C276.84 405.19 276.88 405.33 277.68 406.02C278.48 406.72 277.93 406.42 280.38 408.23C282.83 410.05 288.69 413.31 289.95 415.09C291.21 416.86 288.22 416.66 286.68 417.11C285.14 417.56 283.83 417.29 282.26 417.34C280.69 417.39 280.08 417.4 278.83 417.36C277.57 417.32 277.02 417.23 275.99 417.15C274.95 417.07 274.52 417.04 273.64 416.97C272.76 416.91 272.37 416.9 271.58 416.82C270.79 416.73 270.41 416.67 269.67 416.54C268.93 416.4 268.58 416.31 267.86 416.16C267.15 416.01 266.81 415.93 266.09 415.78C265.36 415.63 265.02 415.56 264.25 415.4C263.48 415.23 262.95 415.32 262.24 414.98C261.54 414.64 261.34 414.22 260.73 413.7C260.12 413.18 259.81 412.93 259.19 412.37C258.57 411.81 258.04 411.6 257.63 410.89C257.21 410.18 257.32 409.65 257.11 408.83C256.91 408.02 256.8 407.64 256.61 406.82C256.43 406.01 256.32 405.6 256.2 404.75C256.09 403.91 256.08 403.48 256.03 402.59C255.98 401.7 255.92 401.24 255.95 400.3C255.98 399.35 256.02 398.87 256.18 397.88C256.34 396.89 256.46 396.4 256.75 395.36C257.03 394.33 257.07 393.64 257.6 392.69C258.13 391.74 258.54 391.27 259.39 390.6C260.24 389.94 260.78 389.63 261.83 389.37C262.89 389.12 263.53 389.06 264.66 389.32C265.78 389.59 266.44 389.59 267.45 390.71C268.45 391.83 268.99 393.56 269.67 394.9C270.35 396.25 270.45 396.64 270.83 397.44C271.21 398.25 271.31 398.42 271.56 398.93C271.81 399.45 271.89 399.64 272.09 400C272.29 400.37 272.37 400.49 272.57 400.76C272.77 401.03 272.88 401.12 273.08 401.35C273.28 401.58 273.37 401.69 273.57 401.92C273.78 402.15 273.87 402.26 274.09 402.5C274.3 402.75 274.39 402.87 274.66 403.13C274.92 403.4 275.07 403.52 275.41 403.84C275.76 404.17 275.93 404.32 276.39 404.75Z" fill="none" stroke="#111" stroke-width="0.45"/>
<path d="M274.53 404.75C274.85 405.07 274.7 405.11 275.45 405.67C276.2 406.23 275.48 405.72 278.26 407.55C281.04 409.37 287.72 412.91 289.35 414.78C290.99 416.66 287.89 416.46 286.43 416.93C284.97 417.41 283.61 417.1 282.07 417.15C280.52 417.2 279.94 417.22 278.7 417.18C277.47 417.15 276.91 417.04 275.89 416.96C274.86 416.88 274.44 416.84 273.58 416.77C272.71 416.7 272.33 416.7 271.55 416.61C270.77 416.52 270.4 416.47 269.67 416.33C268.94 416.2 268.6 416.09 267.9 415.94C267.2 415.78 266.87 415.71 266.16 415.55C265.46 415.39 265.12 415.32 264.37 415.15C263.62 414.99 263.12 415.05 262.43 414.72C261.74 414.39 261.53 414 260.93 413.5C260.32 413 260.03 412.75 259.4 412.22C258.77 411.68 258.21 411.5 257.78 410.81C257.35 410.13 257.46 409.59 257.24 408.79C257.03 407.99 256.91 407.61 256.71 406.81C256.52 406 256.4 405.59 256.28 404.75C256.16 403.91 256.17 403.49 256.11 402.61C256.06 401.72 255.99 401.26 256.02 400.32C256.05 399.38 256.09 398.89 256.26 397.92C256.43 396.95 256.58 396.48 256.88 395.46C257.17 394.44 257.19 393.74 257.73 392.81C258.26 391.88 258.7 391.45 259.55 390.83C260.41 390.21 260.94 389.89 262 389.7C263.05 389.5 263.72 389.5 264.83 389.86C265.94 390.22 266.6 390.23 267.57 391.5C268.54 392.78 269.07 394.73 269.67 396.22C270.27 397.71 270.31 398.12 270.59 398.96C270.87 399.81 270.91 399.95 271.08 400.43C271.24 400.91 271.26 401.07 271.39 401.38C271.52 401.68 271.57 401.75 271.72 401.94C271.86 402.13 271.95 402.17 272.1 402.32C272.26 402.48 272.33 402.55 272.49 402.71C272.65 402.87 272.72 402.94 272.89 403.11C273.06 403.28 273.15 403.37 273.34 403.56C273.54 403.76 273.63 403.85 273.87 404.09C274.11 404.33 274.22 404.44 274.53 404.75Z" fill="#444" stroke="#000" stroke-width="0.5"/>
<path d="M273.88 404.87C274.17 405.15 274.04 405.19 274.71 405.69C275.38 406.19 274.74 405.74 277.24 407.38C279.74 409.02 285.75 412.2 287.22 413.89C288.69 415.58 285.9 415.4 284.59 415.83C283.28 416.25 282.05 415.98 280.66 416.02C279.27 416.07 278.74 416.09 277.63 416.05C276.52 416.02 276.02 415.92 275.1 415.85C274.18 415.78 273.8 415.75 273.02 415.68C272.24 415.62 271.9 415.62 271.2 415.54C270.49 415.46 270.16 415.41 269.5 415.28C268.85 415.16 268.54 415.07 267.91 414.93C267.28 414.79 266.98 414.72 266.35 414.58C265.71 414.44 265.41 414.37 264.74 414.22C264.06 414.07 263.61 414.13 262.99 413.84C262.37 413.54 262.18 413.19 261.64 412.73C261.09 412.28 260.83 412.06 260.26 411.58C259.7 411.1 259.19 410.93 258.81 410.32C258.42 409.7 258.51 409.22 258.32 408.5C258.13 407.78 258.02 407.44 257.84 406.71C257.67 405.99 257.57 405.62 257.46 404.87C257.35 404.11 257.35 403.73 257.3 402.93C257.26 402.13 257.19 401.72 257.22 400.87C257.24 400.03 257.28 399.59 257.43 398.72C257.59 397.84 257.73 397.42 257.99 396.5C258.26 395.58 258.27 394.95 258.76 394.12C259.24 393.28 259.63 392.89 260.4 392.33C261.17 391.77 261.65 391.49 262.6 391.32C263.55 391.14 264.15 391.14 265.15 391.46C266.15 391.79 266.75 391.8 267.62 392.94C268.49 394.09 268.96 395.84 269.5 397.18C270.05 398.53 270.08 398.9 270.33 399.65C270.58 400.41 270.62 400.54 270.77 400.97C270.91 401.41 270.94 401.55 271.05 401.83C271.17 402.1 271.22 402.16 271.35 402.33C271.48 402.5 271.56 402.54 271.69 402.68C271.83 402.81 271.9 402.88 272.04 403.02C272.18 403.17 272.25 403.23 272.41 403.39C272.56 403.54 272.63 403.62 272.81 403.79C272.99 403.97 273.07 404.05 273.28 404.27C273.5 404.48 273.6 404.58 273.88 404.87Z" fill="none" stroke="#000" stroke-width="0.55"/>
<path d="M273.23 404.98C273.48 405.23 273.37 405.26 273.96 405.71C274.56 406.16 273.99 405.75 276.21 407.21C278.44 408.67 283.78 411.5 285.09 413C286.39 414.5 283.91 414.34 282.75 414.72C281.58 415.1 280.49 414.85 279.26 414.89C278.02 414.93 277.55 414.95 276.56 414.92C275.58 414.89 275.13 414.81 274.31 414.74C273.49 414.68 273.16 414.65 272.46 414.59C271.77 414.54 271.47 414.53 270.84 414.46C270.22 414.39 269.92 414.35 269.34 414.24C268.76 414.13 268.48 414.05 267.92 413.92C267.36 413.8 267.1 413.74 266.53 413.61C265.97 413.49 265.7 413.43 265.1 413.3C264.5 413.16 264.1 413.22 263.55 412.95C263 412.69 262.83 412.37 262.35 411.97C261.86 411.57 261.63 411.38 261.12 410.95C260.62 410.52 260.17 410.37 259.83 409.82C259.48 409.27 259.57 408.85 259.4 408.21C259.23 407.57 259.13 407.26 258.97 406.62C258.82 405.97 258.73 405.65 258.63 404.98C258.53 404.3 258.54 403.97 258.49 403.26C258.45 402.55 258.4 402.18 258.42 401.43C258.44 400.68 258.47 400.29 258.61 399.51C258.75 398.73 258.87 398.36 259.11 397.54C259.34 396.72 259.36 396.16 259.78 395.42C260.21 394.68 260.56 394.34 261.25 393.84C261.93 393.34 262.36 393.09 263.2 392.93C264.05 392.78 264.58 392.77 265.47 393.06C266.36 393.35 266.89 393.36 267.66 394.38C268.44 395.39 268.86 396.95 269.34 398.15C269.82 399.34 269.85 399.67 270.07 400.34C270.3 401.02 270.34 401.13 270.46 401.52C270.59 401.9 270.61 402.03 270.72 402.27C270.82 402.52 270.86 402.57 270.98 402.72C271.09 402.87 271.16 402.91 271.29 403.03C271.41 403.15 271.47 403.21 271.59 403.34C271.72 403.47 271.78 403.53 271.92 403.66C272.05 403.8 272.12 403.87 272.28 404.02C272.43 404.18 272.51 404.25 272.7 404.44C272.89 404.64 272.98 404.72 273.23 404.98Z" fill="none" stroke="#000" stroke-width="0.55"/>
<path d="M272.58 405.09C272.8 405.31 272.7 405.34 273.22 405.73C273.74 406.12 273.24 405.77 275.19 407.04C277.14 408.32 281.81 410.79 282.95 412.11C284.1 413.42 281.93 413.28 280.91 413.61C279.89 413.94 278.93 413.73 277.85 413.77C276.77 413.8 276.36 413.82 275.5 413.79C274.63 413.76 274.25 413.69 273.53 413.63C272.81 413.57 272.52 413.55 271.91 413.5C271.3 413.45 271.04 413.45 270.49 413.39C269.94 413.33 269.69 413.29 269.17 413.19C268.66 413.1 268.43 413.02 267.93 412.92C267.44 412.81 267.21 412.76 266.72 412.65C266.23 412.54 265.99 412.48 265.47 412.37C264.94 412.25 264.59 412.3 264.11 412.06C263.62 411.83 263.48 411.56 263.05 411.21C262.63 410.86 262.43 410.69 261.99 410.31C261.55 409.93 261.16 409.81 260.85 409.33C260.55 408.85 260.63 408.47 260.48 407.91C260.33 407.35 260.24 407.09 260.11 406.52C259.97 405.96 259.89 405.68 259.8 405.09C259.72 404.5 259.72 404.21 259.68 403.58C259.65 402.96 259.6 402.64 259.62 401.98C259.64 401.33 259.67 400.98 259.79 400.3C259.91 399.62 260.01 399.3 260.22 398.58C260.43 397.87 260.44 397.38 260.81 396.73C261.19 396.08 261.5 395.78 262.09 395.34C262.69 394.91 263.07 394.68 263.8 394.55C264.54 394.41 265.01 394.41 265.79 394.66C266.57 394.91 267.03 394.92 267.71 395.81C268.38 396.7 268.75 398.07 269.17 399.11C269.6 400.16 269.62 400.45 269.82 401.03C270.01 401.62 270.05 401.72 270.16 402.06C270.27 402.4 270.29 402.51 270.38 402.72C270.47 402.93 270.51 402.98 270.61 403.12C270.71 403.25 270.77 403.28 270.88 403.39C270.99 403.49 271.04 403.54 271.15 403.65C271.26 403.77 271.31 403.82 271.43 403.94C271.55 404.06 271.61 404.12 271.75 404.25C271.88 404.39 271.95 404.46 272.11 404.62C272.28 404.79 272.36 404.87 272.58 405.09Z" fill="none" stroke="#000" stroke-width="0.55"/>
<path d="M271.93 405.2C272.12 405.39 272.03 405.41 272.48 405.75C272.93 406.08 272.5 405.78 274.17 406.87C275.83 407.97 279.84 410.09 280.82 411.22C281.8 412.34 279.94 412.22 279.07 412.51C278.19 412.79 277.38 412.61 276.45 412.64C275.52 412.67 275.17 412.68 274.43 412.66C273.69 412.63 273.36 412.57 272.74 412.52C272.13 412.47 271.87 412.45 271.35 412.41C270.83 412.37 270.61 412.37 270.14 412.31C269.67 412.26 269.45 412.23 269.01 412.14C268.57 412.06 268.37 412 267.95 411.91C267.53 411.82 267.33 411.77 266.9 411.68C266.48 411.58 266.28 411.54 265.83 411.44C265.38 411.34 265.08 411.38 264.66 411.18C264.25 410.98 264.13 410.75 263.76 410.44C263.4 410.14 263.23 410 262.85 409.68C262.47 409.35 262.14 409.24 261.88 408.83C261.62 408.42 261.68 408.1 261.55 407.62C261.43 407.14 261.35 406.91 261.24 406.43C261.12 405.95 261.05 405.7 260.98 405.2C260.91 404.7 260.91 404.44 260.88 403.91C260.84 403.38 260.8 403.1 260.82 402.54C260.84 401.98 260.86 401.68 260.96 401.1C261.07 400.52 261.16 400.24 261.33 399.62C261.51 399.01 261.52 398.59 261.84 398.03C262.16 397.48 262.43 397.22 262.94 396.84C263.45 396.47 263.77 396.28 264.41 396.17C265.04 396.05 265.44 396.05 266.11 396.26C266.77 396.48 267.17 396.49 267.75 397.25C268.33 398.01 268.65 399.18 269.01 400.08C269.37 400.97 269.39 401.22 269.56 401.72C269.73 402.23 269.76 402.31 269.85 402.6C269.95 402.89 269.97 402.99 270.04 403.17C270.12 403.35 270.15 403.4 270.24 403.51C270.32 403.62 270.38 403.65 270.47 403.74C270.56 403.83 270.61 403.88 270.7 403.97C270.8 404.07 270.84 404.11 270.94 404.21C271.05 404.32 271.1 404.37 271.21 404.48C271.33 404.6 271.39 404.66 271.53 404.8C271.67 404.94 271.74 405.01 271.93 405.2Z" fill="none" stroke="#000" stroke-width="0.55"/>
<path d="M271.28 405.31C271.44 405.47 271.36 405.49 271.73 405.77C272.11 406.05 271.75 405.8 273.14 406.71C274.53 407.62 277.87 409.39 278.69 410.32C279.5 411.26 277.95 411.16 277.23 411.4C276.5 411.64 275.82 411.48 275.04 411.51C274.27 411.53 273.98 411.54 273.36 411.53C272.74 411.51 272.47 411.45 271.95 411.41C271.44 411.37 271.23 411.36 270.8 411.32C270.36 411.29 270.17 411.28 269.78 411.24C269.39 411.19 269.21 411.17 268.84 411.1C268.48 411.03 268.31 410.98 267.96 410.9C267.61 410.82 267.44 410.79 267.09 410.71C266.74 410.63 266.57 410.59 266.2 410.51C265.82 410.43 265.57 410.46 265.22 410.29C264.88 410.13 264.78 409.93 264.47 409.68C264.17 409.43 264.02 409.31 263.71 409.04C263.4 408.77 263.12 408.68 262.9 408.34C262.68 408 262.74 407.73 262.63 407.33C262.52 406.93 262.46 406.74 262.37 406.34C262.27 405.93 262.21 405.73 262.15 405.31C262.09 404.89 262.09 404.68 262.07 404.24C262.04 403.79 262 403.56 262.02 403.09C262.03 402.62 262.05 402.38 262.14 401.89C262.22 401.41 262.3 401.17 262.45 400.66C262.6 400.15 262.6 399.8 262.87 399.34C263.14 398.88 263.36 398.66 263.79 398.35C264.21 398.04 264.48 397.88 265.01 397.78C265.54 397.69 265.87 397.68 266.42 397.86C266.98 398.04 267.31 398.05 267.8 398.69C268.28 399.32 268.54 400.3 268.84 401.04C269.15 401.79 269.16 401.99 269.3 402.42C269.44 402.84 269.47 402.91 269.55 403.15C269.63 403.39 269.64 403.47 269.71 403.62C269.77 403.77 269.8 403.81 269.87 403.9C269.94 404 269.98 404.02 270.06 404.09C270.14 404.17 270.17 404.21 270.25 404.29C270.33 404.37 270.37 404.4 270.46 404.49C270.54 404.57 270.58 404.62 270.68 404.71C270.78 404.81 270.83 404.86 270.94 404.98C271.06 405.1 271.12 405.15 271.28 405.31Z" fill="none" stroke="#000" stroke-width="0.55"/>
<path d="M270.63 405.42C270.75 405.55 270.69 405.56 270.99 405.79C271.29 406.01 271 405.81 272.12 406.54C273.23 407.27 275.9 408.68 276.55 409.43C277.21 410.18 275.97 410.1 275.38 410.29C274.8 410.48 274.26 410.36 273.64 410.38C273.02 410.4 272.79 410.41 272.29 410.39C271.8 410.38 271.58 410.34 271.17 410.3C270.76 410.27 270.59 410.26 270.24 410.23C269.89 410.2 269.74 410.2 269.43 410.16C269.12 410.13 268.97 410.11 268.68 410.05C268.39 410 268.25 409.96 267.97 409.89C267.69 409.83 267.56 409.8 267.28 409.74C266.99 409.68 266.86 409.65 266.56 409.58C266.26 409.51 266.06 409.54 265.78 409.41C265.51 409.28 265.42 409.12 265.18 408.92C264.94 408.72 264.82 408.62 264.57 408.41C264.32 408.19 264.1 408.12 263.92 407.84C263.75 407.57 263.79 407.36 263.71 407.04C263.62 406.72 263.57 406.57 263.5 406.24C263.42 405.92 263.37 405.76 263.33 405.42C263.28 405.09 263.28 404.92 263.26 404.56C263.24 404.21 263.21 404.02 263.22 403.65C263.23 403.27 263.25 403.08 263.31 402.69C263.38 402.3 263.45 402.11 263.56 401.7C263.68 401.3 263.69 401.01 263.9 400.64C264.12 400.27 264.29 400.1 264.63 399.85C264.97 399.6 265.19 399.48 265.61 399.4C266.03 399.32 266.3 399.32 266.74 399.46C267.19 399.61 267.45 399.61 267.84 400.12C268.23 400.63 268.44 401.41 268.68 402.01C268.92 402.6 268.93 402.77 269.05 403.11C269.16 403.44 269.18 403.5 269.24 403.69C269.31 403.88 269.32 403.95 269.37 404.07C269.42 404.19 269.44 404.22 269.5 404.29C269.56 404.37 269.59 404.39 269.65 404.45C269.71 404.51 269.74 404.54 269.81 404.6C269.87 404.67 269.9 404.7 269.97 404.76C270.04 404.83 270.07 404.87 270.15 404.94C270.23 405.02 270.26 405.06 270.36 405.16C270.45 405.25 270.5 405.3 270.63 405.42Z" fill="none" stroke="#000" stroke-width="0.55"/>
<path d="M269.97 405.53C270.07 405.63 270.02 405.64 270.25 405.81C270.47 405.97 270.26 405.82 271.09 406.37C271.93 406.92 273.93 407.98 274.42 408.54C274.91 409.1 273.98 409.04 273.54 409.19C273.11 409.33 272.7 409.24 272.23 409.25C271.77 409.27 271.59 409.27 271.22 409.26C270.85 409.25 270.69 409.22 270.38 409.19C270.07 409.17 269.95 409.16 269.69 409.14C269.43 409.12 269.31 409.12 269.08 409.09C268.84 409.06 268.73 409.05 268.51 409.01C268.3 408.97 268.19 408.93 267.98 408.89C267.77 408.84 267.67 408.82 267.46 408.77C267.25 408.72 267.15 408.7 266.93 408.65C266.7 408.6 266.55 408.62 266.34 408.52C266.14 408.42 266.07 408.31 265.89 408.16C265.71 408.01 265.62 407.93 265.43 407.77C265.25 407.61 265.08 407.56 264.95 407.35C264.82 407.14 264.85 406.98 264.79 406.74C264.72 406.5 264.69 406.39 264.63 406.15C264.57 405.91 264.53 405.78 264.5 405.53C264.46 405.28 264.46 405.15 264.45 404.89C264.43 404.62 264.41 404.48 264.42 404.2C264.43 403.92 264.44 403.77 264.49 403.48C264.54 403.19 264.59 403.05 264.68 402.74C264.76 402.44 264.77 402.23 264.93 401.95C265.09 401.67 265.22 401.54 265.48 401.36C265.74 401.17 265.9 401.07 266.21 401.02C266.53 400.96 266.73 400.96 267.06 401.06C267.4 401.17 267.59 401.18 267.88 401.56C268.18 401.94 268.33 402.52 268.51 402.97C268.7 403.42 268.71 403.54 268.79 403.8C268.87 404.05 268.89 404.09 268.94 404.24C268.98 404.38 268.99 404.43 269.03 404.52C269.07 404.61 269.09 404.63 269.13 404.69C269.17 404.74 269.2 404.76 269.24 404.8C269.29 404.85 269.31 404.87 269.36 404.92C269.41 404.97 269.43 404.99 269.48 405.04C269.53 405.09 269.56 405.12 269.62 405.17C269.67 405.23 269.7 405.26 269.77 405.33C269.85 405.4 269.88 405.44 269.97 405.53Z" fill="none" stroke="#000" stroke-width="0.55"/>
<path d="M269.32 405.64C269.39 405.71 269.36 405.72 269.51 405.83C269.65 405.94 269.51 405.84 270.07 406.2C270.62 406.57 271.96 407.27 272.29 407.65C272.61 408.03 271.99 407.98 271.7 408.08C271.41 408.17 271.14 408.11 270.83 408.12C270.52 408.13 270.4 408.14 270.16 408.13C269.91 408.12 269.8 408.1 269.59 408.08C269.39 408.07 269.3 408.06 269.13 408.05C268.96 408.03 268.88 408.03 268.73 408.02C268.57 408 268.5 407.99 268.35 407.96C268.2 407.93 268.14 407.91 268 407.88C267.85 407.85 267.79 407.83 267.65 407.8C267.51 407.77 267.44 407.76 267.29 407.72C267.14 407.69 267.04 407.7 266.9 407.64C266.76 407.57 266.72 407.49 266.6 407.39C266.48 407.29 266.42 407.24 266.3 407.14C266.17 407.03 266.06 406.99 265.97 406.86C265.89 406.72 265.91 406.61 265.86 406.45C265.82 406.29 265.8 406.22 265.76 406.05C265.72 405.89 265.7 405.81 265.67 405.64C265.65 405.48 265.65 405.39 265.64 405.21C265.63 405.04 265.61 404.94 265.62 404.76C265.62 404.57 265.63 404.47 265.67 404.28C265.7 404.08 265.73 403.99 265.79 403.79C265.85 403.58 265.85 403.44 265.96 403.26C266.07 403.07 266.16 402.98 266.33 402.86C266.5 402.73 266.6 402.67 266.82 402.63C267.03 402.59 267.16 402.59 267.38 402.67C267.6 402.74 267.74 402.74 267.93 402.99C268.12 403.25 268.23 403.64 268.35 403.94C268.47 404.24 268.48 404.32 268.53 404.49C268.59 404.65 268.6 404.68 268.63 404.78C268.66 404.88 268.67 404.91 268.69 404.97C268.72 405.03 268.73 405.04 268.76 405.08C268.79 405.12 268.81 405.13 268.84 405.16C268.87 405.19 268.88 405.2 268.91 405.23C268.94 405.27 268.96 405.28 268.99 405.32C269.03 405.35 269.04 405.37 269.08 405.41C269.12 405.44 269.14 405.46 269.19 405.51C269.24 405.56 269.26 405.58 269.32 405.64Z" fill="none" stroke="#000" stroke-width="0.55"/>
<ellipse cx="265.11" cy="406.3" rx="1.65" ry="3.66" transform="rotate(-28 265.11 406.3)" fill="#fff" stroke="#000" stroke-width="0.4"/>
<ellipse cx="276.99" cy="411.78" rx="3.66" ry="1.1" transform="rotate(18 276.99 411.78)" fill="#fff" stroke="#000" stroke-width="0.4"/>
<path d="M307.34 391.87h0.9M316.52 386.27h0.9M323.89 391.96h0.9M314.75 409.59h0.9M303.7 418.83h0.9M300.39 412.02h0.9M317.99 399.59h0.9M321.06 395.18h0.9M325.87 387.11h0.9M307.15 370.04h0.9M328.36 380.41h0.9M318.33 395.76h0.9M296.27 399.93h0.9M306.26 418.81h0.9M330.2 380.28h0.9M305.44 377.25h0.9M318.48 376.29h0.9M296.98 381.32h0.9M313.42 400.65h0.9M303.75 419.6h0.9M297.13 379.93h0.9M315.84 404.15h0.9M324.03 407.3h0.9M298.83 373.36h0.9M297.12 369.37h0.9M325.77 387.48h0.9M298.89 407.12h0.9M300.02 385.96h0.9M295.39 416.84h0.9M303.22 420.56h0.9M302.75 404.84h0.9M298.02 381.45h0.9M310.7 390.33h0.9M313.63 367.13h0.9M298.51 412.7h0.9M311.01 388.97h0.9M310.43 414.63h0.9M315.23 419.81h0.9M317.81 410.24h0.9M331.87 416.57h0.9M318.99 394.23h0.9M330.33 394.47h0.9M319.15 381.16h0.9M299.09 399.33h0.9M323.56 376.08h0.9M318.85 401.77h0.9M308.87 379.94h0.9M309.95 414.02h0.9M318.31 410.64h0.9M317.35 376.86h0.9M300.95 389.54h0.9M311.43 379.73h0.9M305.45 401.13h0.9M306.06 414.42h0.9M305.53 398.88h0.9M303.3 407.62h0.9M331.74 368.19h0.9M311.25 408.35h0.9M311.1 388.5h0.9M305.96 367.15h0.9M311.2 386.51h0.9M304.03 367.02h0.9M306.73 396.92h0.9M305.22 390.61h0.9M302.96 393.19h0.9M306.45 401.98h0.9M313.51 371.27h0.9M302.54 376.46h0.9M305.81 379.84h0.9M306.77 388.18h0.9M300.61 395.81h0.9M312.66 418.47h0.9M302.26 404.12h0.9M301.47 394.05h0.9M306.33 412.78h0.9M328.8 401.46h0.9M298.85 416.29h0.9M310.99 413.06h0.9M319.71 406.65h0.9M300.14 372.33h0.9M316.72 377.12h0.9M322.6 413.45h0.9M306.52 407.25h0.9M320.46 414.33h0.9M309.62 419.04h0.9" stroke="#222" stroke-width="0.9" fill="none"/>
<path d="M336.4 363.24c-4.5 0.4-4.5 6 0 6.4M336.4 364.64c-2.6 0.3-2.6 3.4 0 3.6" fill="none" stroke="#444" stroke-width="0.4"/>
<path d="M336.4 388.84c-4.5 0.4-4.5 6 0 6.4M336.4 390.24c-2.6 0.3-2.6 3.4 0 3.6" fill="none" stroke="#444" stroke-width="0.4"/>
<rect x="252.7" y="340.1" width="83.7" height="84.5" fill="none" stroke="#777" stroke-width="0.7"/><path d="M251.1 348.1h1.6M251.1 367.1h1.6M251.1 385.1h1.6M251.1 402.1h1.6M251.1 416.1h1.6" stroke="#555" stroke-width="0.6" fill="none"/>
<rect x="253.23" y="359.68" width="41.13" height="32.91" fill="none" stroke="#666" stroke-width="0.5"/>
<rect x="253.23" y="394.41" width="46.62" height="26.51" fill="none" stroke="#666" stroke-width="0.5"/>
<rect x="253.23" y="420.92" width="17.37" height="3.29" fill="none" stroke="#666" stroke-width="0.5"/>
<rect x="270.59" y="420.92" width="29.25" height="3.29" fill="none" stroke="#666" stroke-width="0.5"/>
<text x="300.8" y="357.5" font-size="5.8" text-anchor="start" fill="#000" font-weight="bold" stroke="#000" stroke-width="0.15">12.6</text>
<text x="305.3" y="391.5" font-size="5.8" text-anchor="start" fill="#000" font-weight="bold" stroke="#000" stroke-width="0.15">40.4</text>
<rect x="256.2" y="395.2" width="8" height="6.2" fill="#fff"/><text x="257.2" y="400.4" font-size="5.8" text-anchor="start" fill="#000" font-weight="bold" stroke="#000" stroke-width="0.15">35</text>
<path d="M412.47 404.61C414.42 406.64 416.4 408.28 416.55 410.47C416.7 412.65 415.27 413.99 413.21 415.54C411.16 417.09 408.91 417.43 406.28 418.22C403.65 419.02 402.34 419.16 400.08 419.51C397.81 419.87 396.83 419.91 394.96 420.01C393.1 420.11 392.26 420.01 390.75 420.01C389.24 420.01 388.64 420.01 387.41 420.01C386.17 420.01 385.65 420.01 384.56 420.01C383.48 420.01 383 420.01 382 420.01C381 420.01 380.53 420.07 379.56 420.01C378.59 419.94 378.13 419.82 377.17 419.69C376.21 419.55 375.76 419.49 374.77 419.34C373.78 419.2 373.31 419.14 372.23 418.98C371.16 418.83 370.59 418.81 369.41 418.58C368.23 418.35 367.33 418.43 366.33 417.84C365.33 417.24 365.19 416.51 364.42 415.61C363.64 414.7 363.11 414.32 362.46 413.32C361.8 412.32 361.4 411.75 361.14 410.59C360.88 409.43 361.14 408.72 361.14 407.52C361.14 406.33 361.14 405.77 361.14 404.61C361.14 403.44 361.14 402.89 361.14 401.69C361.14 400.49 361.14 399.92 361.14 398.62C361.14 397.33 361.1 396.68 361.14 395.22C361.18 393.77 360.92 392.76 361.32 391.36C361.72 389.95 362.33 389.45 363.14 388.18C363.94 386.91 364.21 385.98 365.32 385.01C366.44 384.04 367.36 383.99 368.71 383.32C370.07 382.64 370.67 382.1 372.09 381.63C373.51 381.16 374.32 381.22 375.82 380.97C377.31 380.72 378.06 380.35 379.56 380.36C381.06 380.37 381.81 380.73 383.3 381.02C384.78 381.31 385.64 381.16 386.97 381.81C388.29 382.46 388.81 383.28 389.92 384.27C391.03 385.27 391.67 385.63 392.51 386.78C393.36 387.93 393.52 388.79 394.14 390.03C394.76 391.26 394.76 391.95 395.6 392.95C396.44 393.95 397.06 394.17 398.34 395.04C399.61 395.91 400.3 396.27 401.99 397.32C403.67 398.37 404.66 398.84 406.75 400.3C408.85 401.76 410.51 402.57 412.47 404.61Z" fill="#fff" stroke="#222" stroke-width="0.5"/>
<path d="M409.14 404.61C411 406.45 412.94 407.91 413.34 409.96C413.74 412.01 412.82 413.35 411.12 414.86C409.43 416.37 407.31 416.74 404.87 417.5C402.42 418.26 401.05 418.33 398.9 418.66C396.75 418.99 395.85 419.04 394.1 419.15C392.36 419.26 391.59 419.2 390.17 419.21C388.75 419.22 388.16 419.19 386.99 419.18C385.81 419.17 385.31 419.17 384.29 419.16C383.26 419.15 382.81 419.15 381.86 419.14C380.92 419.13 380.47 419.17 379.56 419.12C378.65 419.07 378.2 419 377.3 418.89C376.39 418.77 375.96 418.68 375.03 418.54C374.1 418.39 373.66 418.32 372.65 418.17C371.64 418.01 371.12 417.98 370 417.76C368.88 417.55 368.05 417.63 367.06 417.11C366.07 416.58 365.84 415.97 365.05 415.15C364.26 414.33 363.77 413.94 363.11 412.99C362.44 412.04 362.02 411.51 361.74 410.4C361.46 409.29 361.73 408.59 361.72 407.43C361.71 406.27 361.71 405.74 361.7 404.61C361.69 403.48 361.69 402.94 361.68 401.77C361.67 400.61 361.67 400.05 361.66 398.79C361.65 397.53 361.56 396.86 361.63 395.47C361.71 394.09 361.6 393.2 362.03 391.87C362.45 390.54 362.97 389.99 363.77 388.81C364.57 387.64 364.93 386.88 366.03 385.98C367.12 385.08 367.93 384.94 369.22 384.32C370.52 383.7 371.14 383.3 372.5 382.89C373.86 382.48 374.61 382.44 376.02 382.27C377.43 382.11 378.16 381.94 379.56 382.07C380.95 382.19 381.66 382.49 383 382.88C384.34 383.28 385.07 383.34 386.24 384.03C387.41 384.73 387.87 385.44 388.85 386.37C389.83 387.29 390.37 387.65 391.15 388.66C391.93 389.67 392.14 390.36 392.75 391.41C393.37 392.47 393.46 393.04 394.24 393.94C395.02 394.84 395.53 395.08 396.65 395.9C397.77 396.71 398.39 397.04 399.86 398.01C401.34 398.98 402.16 399.41 404.02 400.73C405.87 402.05 407.27 402.76 409.14 404.61Z" fill="none" stroke="#222" stroke-width="0.5"/>
<path d="M406.21 404.61C407.99 406.29 409.9 407.58 410.52 409.51C411.13 411.44 410.66 412.79 409.28 414.27C407.91 415.74 405.91 416.14 403.62 416.87C401.34 417.6 399.92 417.6 397.86 417.91C395.81 418.21 394.99 418.27 393.35 418.39C391.71 418.51 391.01 418.5 389.66 418.51C388.32 418.52 387.74 418.48 386.62 418.46C385.5 418.44 385.02 418.43 384.05 418.42C383.07 418.4 382.64 418.39 381.74 418.38C380.84 418.36 380.43 418.38 379.56 418.34C378.69 418.3 378.27 418.29 377.41 418.18C376.55 418.08 376.14 417.97 375.26 417.83C374.38 417.68 373.96 417.61 373.01 417.46C372.06 417.3 371.58 417.24 370.52 417.05C369.46 416.85 368.69 416.92 367.7 416.46C366.72 416 366.41 415.5 365.6 414.75C364.79 414 364.34 413.6 363.68 412.7C363.01 411.8 362.55 411.3 362.26 410.23C361.97 409.16 362.24 408.48 362.22 407.35C362.21 406.23 362.2 405.71 362.19 404.61C362.17 403.51 362.17 402.98 362.15 401.85C362.14 400.72 362.13 400.17 362.11 398.94C362.1 397.71 361.96 397.02 362.07 395.7C362.18 394.37 362.2 393.58 362.65 392.32C363.1 391.05 363.52 390.47 364.32 389.37C365.12 388.27 365.57 387.66 366.64 386.83C367.71 386 368.43 385.77 369.67 385.2C370.92 384.63 371.56 384.36 372.86 384C374.17 383.64 374.86 383.51 376.2 383.42C377.54 383.33 378.25 383.34 379.56 383.56C380.87 383.78 381.53 384.04 382.74 384.53C383.95 385.01 384.57 385.25 385.61 385.99C386.64 386.73 387.05 387.35 387.91 388.21C388.78 389.07 389.22 389.43 389.95 390.31C390.67 391.19 390.92 391.73 391.54 392.63C392.16 393.53 392.33 394 393.05 394.8C393.78 395.61 394.18 395.89 395.17 396.65C396.16 397.42 396.71 397.72 398 398.62C399.29 399.51 399.97 399.92 401.62 401.11C403.26 402.31 404.43 402.93 406.21 404.61Z" fill="none" stroke="#222" stroke-width="0.5"/>
<path d="M403.89 404.61C405.6 406.16 407.49 407.32 408.28 409.16C409.07 410.99 408.96 412.35 407.83 413.79C406.7 415.23 404.79 415.66 402.64 416.36C400.48 417.07 399.02 417.02 397.04 417.31C395.06 417.59 394.3 417.66 392.75 417.79C391.19 417.92 390.54 417.94 389.26 417.96C387.97 417.97 387.41 417.91 386.33 417.89C385.24 417.86 384.79 417.85 383.85 417.83C382.92 417.81 382.5 417.8 381.65 417.78C380.79 417.75 380.39 417.76 379.56 417.73C378.73 417.7 378.32 417.72 377.5 417.62C376.68 417.53 376.29 417.41 375.45 417.27C374.61 417.12 374.2 417.05 373.3 416.89C372.4 416.73 371.95 416.66 370.94 416.48C369.92 416.29 369.19 416.36 368.21 415.95C367.23 415.54 366.86 415.13 366.04 414.43C365.22 413.73 364.8 413.34 364.13 412.47C363.45 411.6 362.98 411.13 362.68 410.09C362.38 409.06 362.65 408.39 362.63 407.29C362.61 406.19 362.6 405.68 362.58 404.61C362.56 403.53 362.55 403.02 362.53 401.91C362.51 400.8 362.5 400.26 362.47 399.06C362.45 397.85 362.28 397.15 362.41 395.87C362.55 394.59 362.67 393.89 363.14 392.68C363.61 391.46 363.96 390.84 364.76 389.81C365.56 388.78 366.08 388.29 367.13 387.5C368.19 386.72 368.82 386.42 370.03 385.9C371.23 385.37 371.89 385.19 373.15 384.88C374.41 384.57 375.07 384.36 376.35 384.33C377.63 384.3 378.32 384.45 379.56 384.75C380.8 385.05 381.42 385.27 382.53 385.83C383.64 386.39 384.18 386.77 385.1 387.54C386.03 388.31 386.39 388.85 387.17 389.67C387.95 390.49 388.31 390.84 388.99 391.62C389.67 392.41 389.95 392.82 390.57 393.59C391.2 394.37 391.42 394.76 392.11 395.49C392.79 396.22 393.11 396.53 393.99 397.25C394.88 397.97 395.38 398.26 396.52 399.1C397.66 399.93 398.24 400.31 399.71 401.42C401.18 402.52 402.17 403.06 403.89 404.61Z" fill="none" stroke="#222" stroke-width="0.5"/>
<path d="M402.37 404.61C404.05 406.07 405.92 407.15 406.82 408.93C407.72 410.7 407.84 412.06 406.88 413.48C405.91 414.91 404.07 415.35 401.99 416.04C399.92 416.72 398.43 416.65 396.51 416.92C394.58 417.19 393.86 417.27 392.36 417.4C390.85 417.54 390.24 417.57 388.99 417.59C387.75 417.61 387.19 417.54 386.13 417.51C385.08 417.48 384.64 417.47 383.73 417.44C382.82 417.42 382.42 417.4 381.58 417.38C380.75 417.36 380.36 417.35 379.56 417.32C378.75 417.3 378.35 417.34 377.56 417.26C376.76 417.17 376.38 417.05 375.57 416.9C374.75 416.75 374.36 416.68 373.49 416.52C372.62 416.36 372.19 416.29 371.21 416.11C370.22 415.93 369.52 416 368.54 415.62C367.57 415.25 367.15 414.88 366.32 414.22C365.5 413.56 365.1 413.16 364.42 412.32C363.75 411.48 363.26 411.02 362.95 410C362.64 408.99 362.91 408.33 362.89 407.25C362.86 406.17 362.85 405.67 362.83 404.61C362.81 403.55 362.8 403.04 362.77 401.95C362.75 400.85 362.73 400.32 362.71 399.13C362.68 397.94 362.49 397.23 362.64 395.99C362.79 394.74 362.97 394.09 363.46 392.91C363.94 391.73 364.25 391.09 365.05 390.1C365.85 389.1 366.41 388.69 367.45 387.94C368.49 387.19 369.08 386.85 370.26 386.35C371.44 385.86 372.1 385.74 373.34 385.46C374.57 385.17 375.2 384.91 376.44 384.92C377.69 384.94 378.37 385.17 379.56 385.52C380.75 385.88 381.36 386.07 382.4 386.68C383.44 387.28 383.92 387.76 384.78 388.55C385.63 389.34 385.96 389.84 386.68 390.62C387.4 391.41 387.72 391.76 388.37 392.48C389.02 393.2 389.32 393.53 389.94 394.22C390.57 394.92 390.83 395.26 391.49 395.94C392.15 396.62 392.41 396.95 393.23 397.64C394.04 398.34 394.51 398.62 395.56 399.41C396.61 400.2 397.1 400.57 398.47 401.61C399.83 402.65 400.7 403.14 402.37 404.61Z" fill="none" stroke="#222" stroke-width="0.45"/>
<path d="M398.6 404.61C400.01 405.83 401.43 406.68 402.38 408.22C403.32 409.77 403.54 410.84 403.33 412.33C403.11 413.82 402.74 414.82 401.3 415.68C399.85 416.54 397.97 416.36 396.11 416.63C394.26 416.91 393.49 416.94 392.01 417.06C390.53 417.18 389.95 417.22 388.73 417.23C387.52 417.25 386.97 417.17 385.94 417.13C384.92 417.1 384.49 417.08 383.6 417.05C382.72 417.02 382.33 417 381.52 416.97C380.71 416.94 380.34 416.93 379.56 416.9C378.78 416.87 378.4 416.91 377.62 416.83C376.85 416.74 376.49 416.62 375.7 416.47C374.92 416.33 374.54 416.25 373.71 416.1C372.87 415.94 372.46 415.86 371.51 415.68C370.56 415.5 369.91 415.56 368.96 415.2C368.01 414.85 367.59 414.52 366.76 413.9C365.94 413.28 365.56 412.9 364.86 412.1C364.16 411.3 363.59 410.89 363.24 409.91C362.9 408.93 363.19 408.27 363.15 407.21C363.11 406.15 363.09 405.65 363.06 404.61C363.02 403.56 363 403.06 362.96 401.98C362.92 400.89 362.87 400.35 362.86 399.18C362.84 398.01 362.71 397.32 362.89 396.11C363.06 394.9 363.24 394.25 363.74 393.11C364.24 391.98 364.58 391.38 365.39 390.44C366.2 389.5 366.75 389.09 367.8 388.43C368.86 387.76 369.46 387.44 370.65 387.13C371.85 386.81 372.54 386.73 373.79 386.86C375.04 386.99 375.74 387.44 376.9 387.79C378.05 388.13 378.55 388.21 379.56 388.58C380.57 388.96 381.06 389.14 381.92 389.68C382.79 390.22 383.18 390.63 383.89 391.29C384.6 391.95 384.87 392.35 385.47 393C386.07 393.64 386.34 393.93 386.88 394.52C387.43 395.12 387.68 395.39 388.2 395.96C388.72 396.54 388.95 396.82 389.5 397.38C390.05 397.95 390.28 398.22 390.96 398.8C391.64 399.38 392.03 399.61 392.91 400.27C393.78 400.93 394.2 401.24 395.34 402.11C396.47 402.98 397.19 403.38 398.6 404.61Z" fill="none" stroke="#111" stroke-width="0.45"/>
<path d="M395.21 404.61C396.38 405.61 397.39 406.25 398.38 407.59C399.37 408.92 399.68 409.74 400.13 411.29C400.59 412.85 401.55 414.35 400.67 415.36C399.8 416.38 397.56 416.1 395.76 416.38C393.97 416.66 393.15 416.64 391.7 416.75C390.25 416.85 389.69 416.9 388.5 416.91C387.31 416.92 386.77 416.84 385.77 416.79C384.77 416.75 384.35 416.73 383.49 416.69C382.62 416.66 382.25 416.64 381.46 416.61C380.67 416.57 380.31 416.56 379.56 416.52C378.8 416.49 378.43 416.52 377.69 416.44C376.94 416.35 376.59 416.24 375.83 416.09C375.07 415.95 374.71 415.87 373.9 415.72C373.09 415.56 372.7 415.48 371.79 415.3C370.88 415.13 370.27 415.16 369.34 414.83C368.42 414.49 367.98 414.2 367.16 413.61C366.34 413.03 365.98 412.65 365.25 411.9C364.52 411.14 363.88 410.77 363.51 409.82C363.14 408.88 363.43 408.21 363.38 407.17C363.33 406.13 363.31 405.64 363.26 404.61C363.21 403.57 363.18 403.08 363.13 402C363.08 400.93 363 400.38 362.99 399.22C362.99 398.07 362.91 397.41 363.11 396.22C363.31 395.04 363.47 394.39 363.99 393.3C364.51 392.2 364.87 391.63 365.7 390.75C366.52 389.86 367.06 389.45 368.12 388.86C369.18 388.28 369.79 387.97 371.01 387.82C372.22 387.68 372.95 387.62 374.2 388.13C375.46 388.63 376.23 389.72 377.3 390.36C378.37 391.01 378.72 390.93 379.56 391.34C380.4 391.74 380.79 391.9 381.5 392.38C382.2 392.87 382.51 393.21 383.08 393.76C383.66 394.31 383.89 394.61 384.39 395.14C384.88 395.66 385.1 395.89 385.55 396.37C386 396.85 386.2 397.07 386.63 397.53C387.07 398 387.25 398.22 387.71 398.68C388.17 399.15 388.36 399.37 388.92 399.84C389.48 400.31 389.8 400.5 390.52 401.05C391.24 401.59 391.58 401.84 392.52 402.55C393.46 403.27 394.03 403.6 395.21 404.61Z" fill="none" stroke="#111" stroke-width="0.45"/>
<path d="M392.19 404.61C393.15 405.42 393.8 405.87 394.83 407.02C395.85 408.18 396.24 408.76 397.3 410.37C398.35 411.98 400.48 413.92 400.11 415.08C399.75 416.24 397.19 415.87 395.45 416.15C393.71 416.43 392.85 416.37 391.42 416.47C389.99 416.56 389.45 416.62 388.29 416.63C387.13 416.63 386.6 416.54 385.62 416.49C384.63 416.44 384.23 416.42 383.38 416.38C382.54 416.34 382.17 416.32 381.41 416.28C380.64 416.24 380.29 416.22 379.56 416.19C378.83 416.15 378.46 416.18 377.74 416.09C377.02 416 376.67 415.89 375.94 415.75C375.2 415.61 374.85 415.53 374.07 415.38C373.29 415.22 372.91 415.14 372.03 414.97C371.15 414.79 370.58 414.81 369.68 414.49C368.77 414.17 368.33 413.91 367.51 413.36C366.7 412.8 366.36 412.44 365.6 411.72C364.85 410.99 364.15 410.66 363.75 409.74C363.34 408.83 363.65 408.16 363.59 407.14C363.53 406.11 363.5 405.63 363.44 404.61C363.38 403.59 363.35 403.1 363.28 402.03C363.22 400.96 363.11 400.4 363.11 399.26C363.12 398.12 363.08 397.49 363.31 396.33C363.53 395.16 363.69 394.52 364.22 393.46C364.75 392.4 365.14 391.86 365.97 391.02C366.81 390.18 367.33 389.76 368.4 389.25C369.47 388.73 370.09 388.44 371.32 388.44C372.56 388.44 373.3 388.41 374.57 389.25C375.84 390.09 376.67 391.75 377.67 392.65C378.66 393.56 378.87 393.36 379.56 393.79C380.25 394.21 380.55 394.35 381.12 394.78C381.68 395.22 381.91 395.5 382.37 395.95C382.83 396.4 383.02 396.62 383.42 397.03C383.81 397.45 383.99 397.63 384.36 398.01C384.72 398.38 384.89 398.56 385.24 398.93C385.59 399.29 385.75 399.47 386.12 399.84C386.49 400.21 386.65 400.38 387.11 400.76C387.56 401.14 387.82 401.3 388.4 401.73C388.98 402.17 389.25 402.38 390.01 402.95C390.77 403.53 391.23 403.79 392.19 404.61Z" fill="none" stroke="#111" stroke-width="0.45"/>
<path d="M389.55 404.61C390.33 405.25 390.66 405.54 391.71 406.53C392.77 407.52 393.23 407.9 394.81 409.56C396.39 411.22 399.56 413.55 399.63 414.83C399.7 416.11 396.87 415.67 395.18 415.95C393.49 416.23 392.59 416.14 391.18 416.23C389.77 416.31 389.25 416.37 388.11 416.38C386.97 416.38 386.44 416.28 385.48 416.23C384.52 416.17 384.12 416.15 383.29 416.1C382.47 416.06 382.11 416.04 381.36 415.99C380.62 415.95 380.27 415.93 379.56 415.89C378.84 415.85 378.49 415.88 377.79 415.79C377.08 415.7 376.75 415.6 376.03 415.45C375.32 415.31 374.98 415.24 374.22 415.08C373.47 414.92 373.1 414.85 372.25 414.67C371.4 414.49 370.85 414.5 369.97 414.2C369.08 413.89 368.63 413.66 367.82 413.13C367.01 412.61 366.68 412.25 365.91 411.56C365.14 410.87 364.38 410.57 363.95 409.68C363.53 408.79 363.84 408.12 363.77 407.11C363.7 406.09 363.67 405.62 363.6 404.61C363.52 403.6 363.49 403.11 363.41 402.05C363.34 400.99 363.21 400.42 363.22 399.3C363.23 398.17 363.24 397.55 363.48 396.41C363.72 395.27 363.87 394.64 364.42 393.6C364.96 392.57 365.37 392.06 366.21 391.26C367.06 390.46 367.57 390.04 368.65 389.59C369.72 389.13 370.35 388.85 371.6 388.98C372.85 389.11 373.61 389.1 374.89 390.23C376.17 391.37 377.05 393.52 377.98 394.66C378.92 395.8 379 395.48 379.56 395.93C380.12 396.37 380.34 396.5 380.78 396.89C381.22 397.27 381.39 397.51 381.75 397.87C382.11 398.23 382.26 398.38 382.57 398.7C382.88 399.01 383.02 399.15 383.31 399.44C383.6 399.73 383.74 399.86 384.02 400.15C384.3 400.43 384.43 400.57 384.73 400.85C385.03 401.14 385.16 401.27 385.52 401.57C385.88 401.87 386.08 401.99 386.54 402.34C387 402.68 387.22 402.84 387.82 403.3C388.42 403.75 388.77 403.96 389.55 404.61Z" fill="none" stroke="#111" stroke-width="0.45"/>
<path d="M387.29 404.61C387.91 405.11 387.97 405.26 389.05 406.11C390.13 406.96 390.65 407.17 392.68 408.87C394.72 410.57 398.76 413.24 399.21 414.62C399.66 416 396.59 415.5 394.94 415.78C393.29 416.06 392.37 415.94 390.97 416.02C389.57 416.09 389.07 416.16 387.95 416.16C386.83 416.16 386.31 416.06 385.37 416C384.42 415.94 384.03 415.92 383.22 415.87C382.41 415.82 382.06 415.79 381.32 415.75C380.59 415.7 380.26 415.68 379.56 415.64C378.86 415.59 378.52 415.62 377.83 415.53C377.14 415.44 376.81 415.34 376.12 415.2C375.42 415.06 375.09 414.98 374.35 414.82C373.62 414.67 373.26 414.59 372.43 414.42C371.61 414.24 371.09 414.24 370.22 413.95C369.35 413.65 368.9 413.45 368.09 412.94C367.28 412.44 366.97 412.09 366.17 411.43C365.38 410.76 364.58 410.49 364.13 409.62C363.68 408.75 364.01 408.09 363.93 407.08C363.85 406.08 363.81 405.61 363.73 404.61C363.65 403.6 363.61 403.12 363.53 402.07C363.44 401.01 363.29 400.44 363.31 399.33C363.33 398.21 363.37 397.61 363.63 396.49C363.88 395.37 364.03 394.73 364.59 393.73C365.14 392.72 365.56 392.23 366.42 391.46C367.27 390.69 367.77 390.28 368.86 389.88C369.94 389.47 370.57 389.21 371.84 389.45C373.1 389.69 373.88 389.69 375.16 391.08C376.45 392.46 377.38 395.04 378.26 396.38C379.13 397.71 379.11 397.3 379.56 397.77C380.01 398.23 380.17 398.34 380.5 398.69C380.83 399.04 380.95 399.23 381.21 399.51C381.48 399.8 381.6 399.89 381.85 400.12C382.09 400.35 382.2 400.45 382.42 400.67C382.65 400.88 382.75 400.98 382.98 401.19C383.2 401.4 383.3 401.5 383.53 401.72C383.77 401.93 383.88 402.04 384.16 402.26C384.44 402.49 384.6 402.59 384.95 402.85C385.31 403.12 385.48 403.25 385.94 403.6C386.41 403.95 386.67 404.1 387.29 404.61Z" fill="none" stroke="#111" stroke-width="0.45"/>
<path d="M385.4 404.61C385.89 404.99 385.72 405.02 386.83 405.76C387.93 406.5 388.5 406.56 390.91 408.29C393.32 410.03 398.1 412.97 398.86 414.44C399.63 415.91 396.36 415.36 394.74 415.64C393.13 415.92 392.18 415.78 390.8 415.85C389.41 415.91 388.93 415.99 387.82 415.98C386.72 415.97 386.2 415.88 385.27 415.81C384.34 415.75 383.95 415.72 383.15 415.67C382.36 415.62 382.01 415.59 381.29 415.54C380.57 415.5 380.24 415.47 379.56 415.43C378.87 415.38 378.54 415.4 377.86 415.31C377.19 415.22 376.87 415.13 376.19 414.99C375.51 414.85 375.18 414.77 374.46 414.61C373.74 414.46 373.39 414.38 372.59 414.21C371.78 414.03 371.29 414.02 370.43 413.74C369.57 413.45 369.11 413.27 368.31 412.78C367.5 412.3 367.2 411.96 366.39 411.32C365.59 410.67 364.74 410.42 364.28 409.57C363.81 408.72 364.15 408.06 364.06 407.06C363.97 406.07 363.93 405.6 363.84 404.61C363.76 403.61 363.72 403.13 363.62 402.08C363.53 401.03 363.36 400.46 363.38 399.35C363.41 398.24 363.48 397.66 363.75 396.55C364.02 395.45 364.16 394.81 364.73 393.83C365.29 392.85 365.73 392.38 366.59 391.63C367.45 390.89 367.94 390.48 369.03 390.12C370.12 389.76 370.76 389.5 372.03 389.83C373.3 390.17 374.1 390.18 375.39 391.78C376.68 393.37 377.65 396.3 378.48 397.81C379.32 399.31 379.2 398.82 379.56 399.3C379.91 399.77 380.02 399.87 380.26 400.19C380.5 400.5 380.57 400.66 380.77 400.88C380.97 401.11 381.06 401.15 381.24 401.31C381.42 401.47 381.51 401.54 381.68 401.69C381.85 401.84 381.93 401.91 382.1 402.06C382.28 402.21 382.36 402.29 382.54 402.44C382.73 402.6 382.81 402.67 383.03 402.84C383.24 403.01 383.36 403.08 383.63 403.29C383.9 403.49 384.02 403.58 384.38 403.84C384.73 404.11 384.91 404.22 385.4 404.61Z" fill="none" stroke="#111" stroke-width="0.45"/>
<path d="M383.51 404.61C383.87 404.87 383.48 404.78 384.6 405.41C385.73 406.03 386.35 405.95 389.13 407.72C391.92 409.49 397.43 412.71 398.52 414.27C399.6 415.82 396.13 415.22 394.55 415.5C392.97 415.78 392 415.61 390.62 415.67C389.25 415.73 388.78 415.81 387.69 415.8C386.6 415.79 386.09 415.69 385.17 415.62C384.25 415.56 383.87 415.53 383.09 415.47C382.31 415.42 381.97 415.39 381.26 415.34C380.55 415.29 380.23 415.26 379.56 415.22C378.89 415.17 378.56 415.18 377.9 415.1C377.24 415.01 376.92 414.91 376.26 414.78C375.59 414.64 375.27 414.56 374.57 414.4C373.87 414.24 373.53 414.17 372.74 413.99C371.95 413.82 371.48 413.8 370.64 413.53C369.8 413.25 369.33 413.09 368.53 412.62C367.72 412.16 367.43 411.82 366.61 411.2C365.79 410.58 364.91 410.36 364.43 409.52C363.94 408.69 364.28 408.02 364.19 407.04C364.1 406.06 364.05 405.6 363.96 404.61C363.86 403.62 363.82 403.14 363.72 402.1C363.62 401.05 363.43 400.47 363.46 399.38C363.49 398.28 363.59 397.7 363.87 396.61C364.16 395.53 364.29 394.89 364.87 393.93C365.44 392.97 365.89 392.52 366.76 391.81C367.63 391.09 368.11 390.68 369.21 390.36C370.3 390.04 370.95 389.8 372.23 390.22C373.51 390.65 374.32 390.68 375.62 392.48C376.92 394.28 377.92 397.57 378.71 399.24C379.5 400.91 379.3 400.34 379.56 400.83C379.82 401.32 379.87 401.4 380.02 401.69C380.17 401.97 380.2 402.09 380.32 402.25C380.45 402.41 380.51 402.4 380.64 402.5C380.76 402.59 380.81 402.63 380.93 402.71C381.05 402.8 381.11 402.84 381.23 402.93C381.36 403.02 381.41 403.07 381.55 403.16C381.68 403.26 381.74 403.31 381.89 403.42C382.04 403.53 382.12 403.58 382.3 403.72C382.48 403.85 382.57 403.91 382.81 404.09C383.06 404.27 383.16 404.34 383.51 404.61Z" fill="#444" stroke="#000" stroke-width="0.5"/>
<path d="M382.88 404.75C383.2 404.98 382.85 404.91 383.86 405.47C384.87 406.03 385.43 405.95 387.94 407.55C390.44 409.14 395.41 412.04 396.38 413.44C397.36 414.84 394.23 414.3 392.81 414.55C391.39 414.8 390.51 414.65 389.28 414.71C388.05 414.76 387.62 414.83 386.64 414.82C385.66 414.82 385.2 414.72 384.37 414.66C383.55 414.6 383.2 414.58 382.5 414.53C381.79 414.48 381.49 414.45 380.85 414.41C380.22 414.36 379.93 414.34 379.32 414.3C378.72 414.25 378.42 414.27 377.83 414.19C377.23 414.11 376.95 414.03 376.35 413.9C375.75 413.78 375.46 413.7 374.83 413.56C374.2 413.42 373.89 413.35 373.18 413.2C372.48 413.04 372.05 413.02 371.29 412.78C370.53 412.53 370.12 412.38 369.39 411.96C368.67 411.54 368.41 411.24 367.67 410.69C366.93 410.13 366.14 409.92 365.7 409.17C365.26 408.42 365.57 407.82 365.49 406.94C365.4 406.05 365.36 405.64 365.28 404.75C365.19 403.86 365.15 403.43 365.06 402.49C364.97 401.55 364.8 401.03 364.83 400.04C364.86 399.05 364.95 398.54 365.2 397.56C365.46 396.58 365.58 396.01 366.1 395.14C366.62 394.28 367.02 393.87 367.8 393.23C368.58 392.58 369.02 392.21 370 391.92C370.99 391.64 371.57 391.42 372.72 391.8C373.88 392.18 374.61 392.21 375.78 393.84C376.94 395.46 377.85 398.41 378.56 399.92C379.27 401.42 379.09 400.9 379.32 401.35C379.56 401.79 379.6 401.86 379.74 402.12C379.88 402.38 379.9 402.48 380.01 402.63C380.12 402.78 380.18 402.76 380.29 402.85C380.4 402.93 380.45 402.97 380.56 403.05C380.67 403.12 380.72 403.16 380.83 403.24C380.94 403.32 380.99 403.36 381.11 403.45C381.23 403.54 381.29 403.58 381.42 403.68C381.56 403.78 381.62 403.83 381.79 403.95C381.95 404.07 382.03 404.12 382.25 404.28C382.47 404.44 382.56 404.51 382.88 404.75Z" fill="none" stroke="#000" stroke-width="0.55"/>
<path d="M382.25 404.89C382.53 405.1 382.22 405.03 383.12 405.53C384.02 406.03 384.52 405.96 386.74 407.38C388.97 408.8 393.38 411.37 394.25 412.62C395.11 413.86 392.34 413.38 391.08 413.6C389.81 413.83 389.03 413.69 387.94 413.74C386.84 413.79 386.46 413.85 385.59 413.85C384.72 413.84 384.31 413.76 383.57 413.7C382.84 413.65 382.53 413.63 381.91 413.58C381.28 413.54 381.01 413.52 380.44 413.48C379.88 413.43 379.62 413.42 379.08 413.38C378.55 413.34 378.28 413.35 377.75 413.28C377.23 413.21 376.97 413.14 376.44 413.02C375.91 412.91 375.65 412.85 375.09 412.72C374.53 412.6 374.26 412.54 373.63 412.4C373 412.26 372.62 412.25 371.95 412.03C371.27 411.81 370.9 411.67 370.26 411.3C369.61 410.93 369.38 410.66 368.73 410.17C368.07 409.67 367.36 409.49 366.98 408.82C366.59 408.16 366.86 407.62 366.79 406.84C366.71 406.05 366.68 405.68 366.6 404.89C366.53 404.1 366.49 403.72 366.41 402.88C366.33 402.05 366.18 401.58 366.2 400.7C366.23 399.83 366.31 399.37 366.54 398.5C366.76 397.63 366.87 397.12 367.33 396.35C367.79 395.58 368.15 395.22 368.84 394.65C369.54 394.08 369.93 393.74 370.8 393.49C371.68 393.24 372.19 393.04 373.22 393.38C374.25 393.72 374.89 393.75 375.93 395.19C376.97 396.63 377.77 399.26 378.4 400.6C379.03 401.93 378.87 401.47 379.08 401.86C379.29 402.26 379.33 402.33 379.45 402.56C379.58 402.78 379.6 402.88 379.7 403.01C379.79 403.14 379.85 403.13 379.94 403.2C380.04 403.27 380.09 403.31 380.18 403.38C380.28 403.45 380.32 403.48 380.42 403.55C380.52 403.62 380.57 403.66 380.67 403.73C380.78 403.81 380.83 403.85 380.95 403.94C381.07 404.03 381.13 404.07 381.28 404.18C381.42 404.29 381.49 404.34 381.69 404.48C381.88 404.62 381.96 404.68 382.25 404.89Z" fill="none" stroke="#000" stroke-width="0.55"/>
<path d="M381.61 405.03C381.87 405.22 381.59 405.15 382.38 405.59C383.16 406.03 383.6 405.97 385.55 407.21C387.5 408.45 391.36 410.7 392.12 411.79C392.87 412.88 390.44 412.46 389.34 412.65C388.23 412.85 387.55 412.73 386.59 412.78C385.63 412.82 385.3 412.87 384.54 412.87C383.78 412.86 383.42 412.79 382.78 412.74C382.13 412.7 381.87 412.68 381.32 412.64C380.77 412.6 380.53 412.58 380.04 412.54C379.54 412.51 379.32 412.49 378.85 412.46C378.38 412.42 378.15 412.43 377.68 412.37C377.22 412.31 377 412.25 376.53 412.15C376.07 412.05 375.84 412 375.35 411.89C374.86 411.78 374.62 411.72 374.07 411.6C373.52 411.48 373.19 411.47 372.6 411.28C372.01 411.08 371.69 410.97 371.12 410.64C370.56 410.32 370.36 410.08 369.78 409.65C369.21 409.22 368.59 409.06 368.25 408.47C367.91 407.89 368.15 407.42 368.09 406.74C368.02 406.05 367.99 405.72 367.92 405.03C367.86 404.34 367.83 404.01 367.76 403.27C367.69 402.54 367.55 402.14 367.58 401.37C367.6 400.6 367.67 400.2 367.87 399.44C368.06 398.67 368.16 398.23 368.56 397.56C368.97 396.89 369.28 396.57 369.88 396.07C370.49 395.57 370.83 395.28 371.6 395.06C372.37 394.84 372.82 394.66 373.71 394.96C374.61 395.26 375.18 395.28 376.09 396.54C376.99 397.81 377.7 400.11 378.25 401.27C378.8 402.44 378.66 402.04 378.85 402.38C379.03 402.73 379.06 402.79 379.17 402.99C379.28 403.19 379.3 403.27 379.38 403.38C379.47 403.5 379.51 403.49 379.6 403.55C379.68 403.62 379.72 403.65 379.81 403.71C379.89 403.77 379.93 403.8 380.02 403.86C380.1 403.92 380.14 403.95 380.24 404.02C380.33 404.09 380.37 404.12 380.48 404.2C380.59 404.28 380.64 404.31 380.76 404.41C380.89 404.5 380.95 404.55 381.12 404.67C381.29 404.8 381.36 404.85 381.61 405.03Z" fill="none" stroke="#000" stroke-width="0.55"/>
<path d="M380.98 405.17C381.2 405.33 380.96 405.28 381.64 405.65C382.31 406.03 382.68 405.98 384.35 407.04C386.02 408.1 389.33 410.03 389.98 410.97C390.63 411.9 388.55 411.54 387.6 411.71C386.65 411.88 386.07 411.78 385.25 411.81C384.42 411.85 384.14 411.9 383.49 411.89C382.83 411.88 382.53 411.82 381.98 411.78C381.42 411.74 381.2 411.73 380.73 411.69C380.26 411.66 380.05 411.64 379.63 411.61C379.2 411.58 379.01 411.57 378.61 411.54C378.2 411.51 378.01 411.52 377.61 411.47C377.21 411.41 377.03 411.36 376.63 411.27C376.23 411.19 376.04 411.14 375.61 411.05C375.19 410.96 374.99 410.91 374.52 410.8C374.04 410.7 373.76 410.69 373.26 410.52C372.75 410.36 372.47 410.26 371.99 409.98C371.51 409.7 371.33 409.5 370.84 409.13C370.35 408.76 369.82 408.62 369.53 408.12C369.24 407.62 369.44 407.22 369.39 406.63C369.33 406.04 369.3 405.77 369.25 405.17C369.19 404.58 369.16 404.29 369.1 403.67C369.04 403.04 368.93 402.69 368.95 402.03C368.97 401.38 369.03 401.03 369.2 400.38C369.37 399.72 369.45 399.35 369.79 398.77C370.14 398.19 370.41 397.92 370.93 397.49C371.45 397.06 371.74 396.81 372.4 396.62C373.05 396.43 373.44 396.29 374.21 396.54C374.98 396.8 375.47 396.81 376.24 397.9C377.02 398.98 377.63 400.95 378.1 401.95C378.57 402.95 378.45 402.61 378.61 402.9C378.77 403.2 378.79 403.25 378.89 403.42C378.98 403.59 378.99 403.66 379.07 403.76C379.14 403.86 379.18 403.85 379.25 403.91C379.33 403.96 379.36 403.98 379.43 404.04C379.5 404.09 379.54 404.11 379.61 404.17C379.69 404.22 379.72 404.25 379.8 404.31C379.88 404.36 379.92 404.39 380.01 404.46C380.1 404.53 380.14 404.56 380.25 404.64C380.36 404.72 380.41 404.76 380.56 404.86C380.71 404.97 380.77 405.01 380.98 405.17Z" fill="none" stroke="#000" stroke-width="0.55"/>
<path d="M380.35 405.31C380.53 405.45 380.33 405.4 380.89 405.71C381.45 406.02 381.77 405.98 383.16 406.87C384.55 407.76 387.31 409.37 387.85 410.14C388.39 410.92 386.65 410.62 385.87 410.76C385.08 410.9 384.59 410.82 383.9 410.85C383.22 410.88 382.98 410.92 382.44 410.91C381.89 410.91 381.64 410.86 381.18 410.82C380.72 410.79 380.53 410.78 380.14 410.75C379.74 410.72 379.57 410.71 379.22 410.68C378.87 410.65 378.71 410.64 378.37 410.62C378.03 410.59 377.87 410.6 377.54 410.56C377.21 410.51 377.05 410.47 376.72 410.4C376.39 410.33 376.23 410.29 375.87 410.21C375.52 410.13 375.35 410.09 374.96 410.01C374.57 409.92 374.33 409.91 373.91 409.77C373.49 409.64 373.26 409.55 372.85 409.32C372.45 409.09 372.31 408.92 371.9 408.61C371.49 408.3 371.05 408.19 370.8 407.77C370.56 407.36 370.73 407.02 370.68 406.53C370.64 406.04 370.62 405.81 370.57 405.31C370.52 404.82 370.5 404.58 370.45 404.06C370.4 403.54 370.3 403.25 370.32 402.7C370.34 402.15 370.39 401.86 370.53 401.32C370.67 400.77 370.74 400.46 371.02 399.98C371.31 399.5 371.54 399.27 371.97 398.91C372.4 398.56 372.65 398.35 373.19 398.19C373.74 398.03 374.06 397.91 374.71 398.12C375.35 398.33 375.75 398.35 376.4 399.25C377.05 400.15 377.55 401.8 377.94 402.63C378.34 403.46 378.24 403.18 378.37 403.42C378.5 403.67 378.52 403.71 378.6 403.85C378.68 404 378.69 404.06 378.75 404.14C378.81 404.22 378.85 404.21 378.91 404.26C378.97 404.3 379 404.32 379.06 404.37C379.12 404.41 379.15 404.43 379.21 404.48C379.27 404.52 379.3 404.54 379.36 404.59C379.43 404.64 379.46 404.66 379.54 404.72C379.61 404.77 379.65 404.8 379.74 404.87C379.83 404.94 379.88 404.97 380 405.06C380.12 405.15 380.17 405.18 380.35 405.31Z" fill="none" stroke="#000" stroke-width="0.55"/>
<path d="M379.71 405.46C379.86 405.56 379.7 405.53 380.15 405.78C380.6 406.02 380.85 405.99 381.96 406.7C383.07 407.41 385.28 408.7 385.71 409.32C386.15 409.94 384.76 409.7 384.13 409.81C383.5 409.92 383.11 409.86 382.56 409.88C382.01 409.91 381.82 409.94 381.39 409.93C380.95 409.93 380.75 409.89 380.38 409.86C380.01 409.84 379.86 409.82 379.54 409.8C379.23 409.78 379.09 409.77 378.81 409.75C378.53 409.73 378.4 409.72 378.13 409.7C377.86 409.68 377.73 409.69 377.47 409.65C377.2 409.62 377.08 409.58 376.81 409.52C376.54 409.47 376.42 409.44 376.14 409.37C375.85 409.31 375.72 409.28 375.4 409.21C375.09 409.14 374.9 409.13 374.56 409.02C374.23 408.91 374.04 408.85 373.72 408.66C373.4 408.48 373.28 408.34 372.95 408.09C372.63 407.85 372.27 407.76 372.08 407.42C371.88 407.09 372.02 406.82 371.98 406.43C371.95 406.04 371.93 405.85 371.89 405.46C371.85 405.06 371.84 404.87 371.8 404.45C371.76 404.03 371.68 403.8 371.69 403.36C371.7 402.92 371.75 402.69 371.86 402.26C371.97 401.82 372.02 401.57 372.26 401.19C372.49 400.8 372.66 400.62 373.01 400.33C373.36 400.05 373.55 399.88 373.99 399.76C374.43 399.63 374.69 399.53 375.2 399.7C375.71 399.87 376.04 399.88 376.56 400.61C377.07 401.33 377.48 402.64 377.79 403.31C378.11 403.98 378.03 403.75 378.13 403.94C378.24 404.14 378.26 404.17 378.32 404.29C378.38 404.4 378.39 404.45 378.44 404.51C378.49 404.58 378.51 404.57 378.56 404.61C378.61 404.65 378.63 404.66 378.68 404.7C378.73 404.73 378.75 404.75 378.8 404.79C378.85 404.82 378.87 404.84 378.93 404.88C378.98 404.92 379.01 404.94 379.07 404.98C379.13 405.02 379.16 405.05 379.23 405.1C379.3 405.15 379.34 405.18 379.43 405.25C379.53 405.32 379.57 405.35 379.71 405.46Z" fill="none" stroke="#000" stroke-width="0.55"/>
<path d="M379.08 405.6C379.19 405.68 379.07 405.65 379.41 405.84C379.75 406.02 379.93 406 380.77 406.53C381.6 407.06 383.26 408.03 383.58 408.49C383.91 408.96 382.86 408.78 382.39 408.86C381.92 408.95 381.63 408.9 381.21 408.92C380.8 408.93 380.66 408.96 380.33 408.96C380.01 408.95 379.85 408.92 379.58 408.9C379.3 408.88 379.19 408.87 378.95 408.86C378.72 408.84 378.62 408.83 378.4 408.82C378.19 408.8 378.1 408.79 377.89 408.78C377.69 408.76 377.59 408.77 377.4 408.74C377.2 408.72 377.1 408.69 376.9 408.65C376.7 408.61 376.61 408.58 376.4 408.53C376.19 408.49 376.08 408.47 375.85 408.41C375.61 408.36 375.47 408.36 375.22 408.27C374.97 408.19 374.83 408.14 374.58 408C374.34 407.86 374.26 407.76 374.01 407.58C373.76 407.39 373.5 407.32 373.35 407.07C373.21 406.82 373.31 406.62 373.28 406.33C373.26 406.03 373.24 405.89 373.21 405.6C373.19 405.3 373.17 405.16 373.14 404.84C373.11 404.53 373.05 404.36 373.06 404.03C373.07 403.7 373.1 403.53 373.19 403.2C373.27 402.87 373.31 402.68 373.49 402.39C373.66 402.11 373.79 401.97 374.05 401.76C374.31 401.54 374.46 401.42 374.79 401.32C375.12 401.23 375.31 401.15 375.7 401.28C376.08 401.41 376.32 401.42 376.71 401.96C377.1 402.5 377.4 403.49 377.64 403.99C377.88 404.49 377.82 404.32 377.89 404.46C377.97 404.61 377.99 404.64 378.03 404.72C378.08 404.81 378.09 404.84 378.12 404.89C378.16 404.94 378.18 404.94 378.22 404.96C378.25 404.99 378.27 405 378.31 405.03C378.34 405.06 378.36 405.07 378.4 405.09C378.43 405.12 378.45 405.13 378.49 405.16C378.53 405.19 378.55 405.21 378.59 405.24C378.64 405.27 378.66 405.29 378.72 405.33C378.77 405.37 378.8 405.39 378.87 405.44C378.94 405.5 378.97 405.52 379.08 405.6Z" fill="none" stroke="#000" stroke-width="0.55"/>
<path d="M378.45 405.74C378.52 405.79 378.44 405.77 378.67 405.9C378.89 406.02 379.01 406.01 379.57 406.36C380.13 406.71 381.23 407.36 381.45 407.67C381.66 407.98 380.97 407.86 380.65 407.92C380.34 407.97 380.14 407.94 379.87 407.95C379.6 407.96 379.5 407.98 379.28 407.98C379.07 407.98 378.96 407.95 378.78 407.94C378.6 407.93 378.52 407.92 378.36 407.91C378.21 407.9 378.14 407.9 378 407.88C377.86 407.87 377.79 407.87 377.66 407.86C377.52 407.85 377.46 407.85 377.32 407.84C377.19 407.82 377.13 407.8 377 407.77C376.86 407.74 376.8 407.73 376.66 407.7C376.52 407.67 376.45 407.65 376.29 407.62C376.14 407.58 376.04 407.58 375.87 407.52C375.7 407.47 375.61 407.43 375.45 407.34C375.29 407.25 375.23 407.18 375.07 407.06C374.9 406.93 374.73 406.89 374.63 406.72C374.53 406.56 374.6 406.42 374.58 406.23C374.56 406.03 374.55 405.94 374.54 405.74C374.52 405.54 374.51 405.45 374.49 405.24C374.47 405.03 374.43 404.91 374.44 404.69C374.44 404.47 374.46 404.36 374.52 404.14C374.58 403.92 374.6 403.8 374.72 403.6C374.83 403.41 374.92 403.32 375.1 403.18C375.27 403.04 375.37 402.95 375.59 402.89C375.8 402.83 375.93 402.78 376.19 402.86C376.45 402.95 376.61 402.95 376.87 403.31C377.13 403.67 377.33 404.33 377.49 404.66C377.64 405 377.6 404.88 377.66 404.98C377.71 405.08 377.72 405.1 377.75 405.15C377.78 405.21 377.78 405.24 377.81 405.27C377.83 405.3 377.85 405.3 377.87 405.32C377.9 405.33 377.91 405.34 377.93 405.36C377.96 405.38 377.97 405.39 377.99 405.4C378.02 405.42 378.03 405.43 378.05 405.45C378.08 405.47 378.09 405.48 378.12 405.5C378.15 405.52 378.17 405.53 378.2 405.56C378.24 405.59 378.26 405.6 378.31 405.64C378.36 405.67 378.38 405.69 378.45 405.74Z" fill="none" stroke="#000" stroke-width="0.55"/>
<ellipse cx="372.84" cy="405.38" rx="1.65" ry="3.29" transform="rotate(-28 372.84 405.38)" fill="#fff" stroke="#000" stroke-width="0.4"/>
<ellipse cx="386.37" cy="410.32" rx="3.66" ry="1.1" transform="rotate(18 386.37 410.32)" fill="#fff" stroke="#000" stroke-width="0.4"/>
<path d="M397.31 387.82h0.9M400.6 381.63h0.9M391.52 377.81h0.9M393.37 371.61h0.9M393.71 410.87h0.9M382.37 395.27h0.9M398.68 371.07h0.9M418.05 388.14h0.9M397.25 379.06h0.9M423.3 374.12h0.9M380.3 407.01h0.9M397.92 370.97h0.9M422.14 399.01h0.9M412.91 381.46h0.9M421.92 384.31h0.9M384.77 407.64h0.9M394.65 389.77h0.9M385.34 391.34h0.9M421.65 407.26h0.9M380.16 368.29h0.9M396.77 404.34h0.9M386.35 387.32h0.9M402.92 388.6h0.9M394.11 407.73h0.9M419.72 379.57h0.9M405.36 409.52h0.9M402.97 390.9h0.9M384.45 394.44h0.9M424.97 411.75h0.9M387.66 404.72h0.9M395.96 400.25h0.9M401.33 407.16h0.9M406.02 385.15h0.9M380.87 400.75h0.9M421.99 385.17h0.9M401.4 402.91h0.9M384.25 387.35h0.9M405.23 382.29h0.9M426.71 400.88h0.9M384.66 395.62h0.9M401.1 386.14h0.9M426.83 380.78h0.9M410.42 409.31h0.9M389.38 369.96h0.9M386.29 393.53h0.9M407.28 374.5h0.9M392.13 406.08h0.9M386.27 370.86h0.9M407.5 374.22h0.9M387.5 399.73h0.9M400.26 408.36h0.9M387.64 377.84h0.9M380.58 394.01h0.9M399.55 406.81h0.9M395.35 390.59h0.9M387.46 400.35h0.9M390.94 377.67h0.9M383.54 400.49h0.9M397.88 384.56h0.9M417.93 403.01h0.9M424.41 390.37h0.9M388.39 400.19h0.9M381.52 381.58h0.9M416.21 397.12h0.9M391.3 401.8h0.9M390.49 398.63h0.9M418.62 410.53h0.9M420.14 385.42h0.9M422.66 406.04h0.9M421.9 395.81h0.9M405.94 404.09h0.9M403.47 370.39h0.9M389.41 371.87h0.9M384.34 395.37h0.9M415.96 377.91h0.9M408.1 369.1h0.9M410.19 400.83h0.9M408.29 393.18h0.9M396.92 378.39h0.9M398.4 382.03h0.9M404.79 393.28h0.9M415.92 400.36h0.9M396.25 379.33h0.9M422.04 389.23h0.9M394.74 408.89h0.9M387.35 381.91h0.9M401.41 405.84h0.9M393.8 385.4h0.9M423.79 377.22h0.9M384.89 402.96h0.9M381.95 371.44h0.9M402.84 369.48h0.9M380.65 410.71h0.9M416.81 374.6h0.9M394.16 396.21h0.9" stroke="#222" stroke-width="0.9" fill="none"/>
<path d="M443.4 366.53c-4.5 0.4-4.5 6 0 6.4M443.4 367.93c-2.6 0.3-2.6 3.4 0 3.6" fill="none" stroke="#444" stroke-width="0.4"/>
<rect x="359.7" y="340.1" width="83.7" height="84.5" fill="none" stroke="#777" stroke-width="0.7"/><path d="M358.1 348.1h1.6M358.1 367.1h1.6M358.1 385.1h1.6M358.1 402.1h1.6M358.1 416.1h1.6" stroke="#555" stroke-width="0.6" fill="none"/>
<rect x="360.23" y="360.23" width="41.13" height="32.36" fill="none" stroke="#666" stroke-width="0.5"/>
<rect x="360.23" y="394.41" width="46.62" height="26.51" fill="none" stroke="#666" stroke-width="0.5"/>
<rect x="360.23" y="420.92" width="16.45" height="3.66" fill="none" stroke="#666" stroke-width="0.5"/>
<rect x="377.59" y="420.92" width="29.25" height="3.66" fill="none" stroke="#666" stroke-width="0.5"/>
<text x="408.3" y="357.5" font-size="5.8" text-anchor="start" fill="#000" font-weight="bold" stroke="#000" stroke-width="0.15">9.23</text>
<text x="413.2" y="391.8" font-size="5.8" text-anchor="start" fill="#000" font-weight="bold" stroke="#000" stroke-width="0.15">44.5</text>
<rect x="361.8" y="395" width="11.6" height="6.2" fill="#fff"/><text x="362.8" y="400" font-size="5.8" text-anchor="start" fill="#000" font-weight="bold" stroke="#000" stroke-width="0.15">34.4</text>
<path d="M251 304H441" stroke="#000" stroke-width="1.7" fill="none"/><path d="M446.5 304l-6.5-2.6v5.2z" fill="#000"/>
<text x="349.6" y="316" font-size="9.2" text-anchor="middle" fill="#111">7AAD</text>
<path d="M251 431.3H441" stroke="#000" stroke-width="1.7" fill="none"/><path d="M446.5 431.3l-6.5-2.6v5.2z" fill="#000"/>
<text x="349.6" y="443.3" font-size="9.2" text-anchor="middle" fill="#111">7AAD</text>
<text x="244.6" y="259.2" font-size="9.2" text-anchor="middle" fill="#111" transform="rotate(-90 244.6 259.2)">BrdU</text>
<text x="244.6" y="389.6" font-size="9.2" text-anchor="middle" fill="#111" transform="rotate(-90 244.6 389.6)">BrdU</text>
<text x="295.3" y="206.3" font-size="7.5" text-anchor="middle" fill="#111" font-weight="bold">+/+</text>
<text x="406" y="206.5" font-size="7.5" text-anchor="middle" fill="#111" font-weight="bold">-/-</text>
<text x="295.7" y="336" font-size="7.5" text-anchor="middle" fill="#111" font-weight="bold">+/+</text>
<text x="403.7" y="335.5" font-size="7.5" text-anchor="middle" fill="#111" font-weight="bold">-/-</text>
<text x="1.2" y="8.8" font-size="10.2" text-anchor="start" fill="#000" font-weight="bold">A</text>
<text x="263.1" y="8.8" font-size="10.2" text-anchor="start" fill="#000" font-weight="bold">B</text>
<text x="86" y="220.2" font-size="10.6" text-anchor="start" fill="#000" font-weight="bold">C</text>
<text x="86.4" y="459.2" font-size="10.6" text-anchor="start" fill="#000" font-weight="bold">D</text>
<path d="M52.1 59.79V71.68M50.5 59.79h3.2" stroke="#222" stroke-width="1" fill="none"/>
<rect x="47.1" y="71.68" width="10" height="100.82" fill="#fff" stroke="#000" stroke-width="1.25"/>
<path d="M62.1 78.32V108.89M60.5 78.32h3.2" stroke="#6a6a6a" stroke-width="1" fill="none"/>
<rect x="57.1" y="108.89" width="10" height="63.61" fill="#7f7f7f" stroke="#000" stroke-width="1.25"/>
<path d="M86.2 59.32V104.87M84.6 59.32h3.2" stroke="#222" stroke-width="1" fill="none"/>
<rect x="81.2" y="104.87" width="10" height="67.63" fill="#fff" stroke="#000" stroke-width="1.25"/>
<path d="M96.2 79.86V121.08M94.6 79.86h3.2" stroke="#6a6a6a" stroke-width="1" fill="none"/>
<rect x="91.2" y="121.08" width="10" height="51.42" fill="#7f7f7f" stroke="#000" stroke-width="1.25"/>
<path d="M120 56.7V80.17M118.4 56.7h3.2" stroke="#222" stroke-width="1" fill="none"/>
<rect x="115" y="80.17" width="10" height="92.33" fill="#fff" stroke="#000" stroke-width="1.25"/>
<path d="M130 121.55V141.93M128.4 121.55h3.2" stroke="#6a6a6a" stroke-width="1" fill="none"/>
<rect x="125" y="141.93" width="10" height="30.57" fill="#7f7f7f" stroke="#000" stroke-width="1.25"/>
<path d="M39.7 17.6L39.7 173.25" stroke="#000" stroke-width="1.5" fill="none"/>
<path d="M38.95 172.5L142.5 172.5" stroke="#000" stroke-width="1.5" fill="none"/>
<path d="M36.3 172.5L39.7 172.5" stroke="#000" stroke-width="1.2" fill="none"/>
<text x="33.1" y="176.49" font-size="8.3" text-anchor="end" fill="#111">0</text>
<path d="M36.3 133.9L39.7 133.9" stroke="#000" stroke-width="1.2" fill="none"/>
<text x="33.1" y="137.89" font-size="8.3" text-anchor="end" fill="#111">25</text>
<path d="M36.3 95.3L39.7 95.3" stroke="#000" stroke-width="1.2" fill="none"/>
<text x="33.1" y="99.29" font-size="8.3" text-anchor="end" fill="#111">50</text>
<path d="M36.3 56.7L39.7 56.7" stroke="#000" stroke-width="1.2" fill="none"/>
<text x="33.1" y="60.69" font-size="8.3" text-anchor="end" fill="#111">75</text>
<path d="M36.3 18.1L39.7 18.1" stroke="#000" stroke-width="1.2" fill="none"/>
<text x="33.1" y="22.09" font-size="8.3" text-anchor="end" fill="#111">100</text>
<path d="M39.7 172.5L39.7 175.9" stroke="#000" stroke-width="1.2" fill="none"/>
<path d="M73.5 172.5L73.5 175.9" stroke="#000" stroke-width="1.2" fill="none"/>
<path d="M107.7 172.5L107.7 175.9" stroke="#000" stroke-width="1.2" fill="none"/>
<path d="M141.8 172.5L141.8 175.9" stroke="#000" stroke-width="1.2" fill="none"/>
<text x="58.3" y="185.6" font-size="8.8" text-anchor="middle" fill="#111">4</text>
<text x="91.8" y="185.6" font-size="8.8" text-anchor="middle" fill="#111">8</text>
<text x="125.2" y="185.6" font-size="8.8" text-anchor="middle" fill="#111">12</text>
<text x="91" y="194.6" font-size="8.8" text-anchor="middle" fill="#111">week</text>
<text x="9.8" y="97.8" font-size="8.9" text-anchor="middle" fill="#111" transform="rotate(-90 9.8 97.8)">% donor-derived cells in PB</text>
<text x="19.6" y="97" font-size="8.9" text-anchor="middle" fill="#111" transform="rotate(-90 19.6 97)">(primary Tx)</text>
<path d="M48.9 55.5V52.6H67.5V55.5" stroke="#111" stroke-width="1" fill="none"/>
<text x="58.7" y="49.6" font-size="5.9" text-anchor="middle" fill="#222"><tspan font-style="italic">P</tspan> &lt; .01</text>
<path d="M82.6 55.5V52.6H101V55.5" stroke="#111" stroke-width="1" fill="none"/>
<text x="91.8" y="49.6" font-size="6.1" text-anchor="middle" fill="#222">p=n.s.</text>
<path d="M118 55.5V52.6H136.7V55.5" stroke="#111" stroke-width="1" fill="none"/>
<text x="127.85" y="49.6" font-size="5.9" text-anchor="middle" fill="#222"><tspan font-style="italic">P</tspan> &lt; .05</text>
<rect x="48.2" y="22.2" width="4.1" height="4.1" fill="#fff" stroke="#000" stroke-width="1.2"/>
<text x="55.3" y="25.76" font-size="5.3" text-anchor="start" fill="#222"><tspan font-style="italic">Mll5</tspan> +/+ (n=9)</text>
<rect x="48.2" y="29.1" width="4.1" height="4.1" fill="#7f7f7f" stroke="#000" stroke-width="1.2"/>
<text x="55.3" y="32.66" font-size="5.3" text-anchor="start" fill="#222"><tspan font-style="italic">Mll5</tspan> -/- (n=10)</text>
<path d="M196.35 122.38V132.49M194.75 122.38h3.2" stroke="#555" stroke-width="1" fill="none"/>
<rect x="191.3" y="132.49" width="10.1" height="41.21" fill="#fff" stroke="#000" stroke-width="1.25"/>
<path d="M206.45 99.68V116.48M204.85 99.68h3.2" stroke="#555" stroke-width="1" fill="none"/>
<rect x="201.4" y="116.48" width="10.1" height="57.22" fill="#7f7f7f" stroke="#000" stroke-width="1.25"/>
<path d="M231.3 126.43V149.29M229.7 126.43h3.2" stroke="#555" stroke-width="1" fill="none"/>
<rect x="226.3" y="149.29" width="10" height="24.41" fill="#fff" stroke="#000" stroke-width="1.25"/>
<path d="M241.3 131.71V144M239.7 131.71h3.2" stroke="#555" stroke-width="1" fill="none"/>
<rect x="236.3" y="144" width="10" height="29.7" fill="#7f7f7f" stroke="#000" stroke-width="1.25"/>
<path d="M183.8 17.7L183.8 174.45" stroke="#000" stroke-width="1.5" fill="none"/>
<path d="M183.05 173.7L254 173.7" stroke="#000" stroke-width="1.5" fill="none"/>
<path d="M180.4 173.7L183.8 173.7" stroke="#000" stroke-width="1.2" fill="none"/>
<text x="177.2" y="177.69" font-size="8.3" text-anchor="end" fill="#111">0</text>
<path d="M180.4 158.15L183.8 158.15" stroke="#000" stroke-width="1.2" fill="none"/>
<text x="177.2" y="162.14" font-size="8.3" text-anchor="end" fill="#111">10</text>
<path d="M180.4 142.6L183.8 142.6" stroke="#000" stroke-width="1.2" fill="none"/>
<text x="177.2" y="146.59" font-size="8.3" text-anchor="end" fill="#111">20</text>
<path d="M180.4 127.05L183.8 127.05" stroke="#000" stroke-width="1.2" fill="none"/>
<text x="177.2" y="131.04" font-size="8.3" text-anchor="end" fill="#111">30</text>
<path d="M180.4 111.5L183.8 111.5" stroke="#000" stroke-width="1.2" fill="none"/>
<text x="177.2" y="115.49" font-size="8.3" text-anchor="end" fill="#111">40</text>
<path d="M180.4 95.95L183.8 95.95" stroke="#000" stroke-width="1.2" fill="none"/>
<text x="177.2" y="99.94" font-size="8.3" text-anchor="end" fill="#111">50</text>
<path d="M180.4 80.4L183.8 80.4" stroke="#000" stroke-width="1.2" fill="none"/>
<text x="177.2" y="84.39" font-size="8.3" text-anchor="end" fill="#111">60</text>
<path d="M180.4 64.85L183.8 64.85" stroke="#000" stroke-width="1.2" fill="none"/>
<text x="177.2" y="68.84" font-size="8.3" text-anchor="end" fill="#111">70</text>
<path d="M180.4 49.3L183.8 49.3" stroke="#000" stroke-width="1.2" fill="none"/>
<text x="177.2" y="53.29" font-size="8.3" text-anchor="end" fill="#111">80</text>
<path d="M180.4 33.75L183.8 33.75" stroke="#000" stroke-width="1.2" fill="none"/>
<text x="177.2" y="37.74" font-size="8.3" text-anchor="end" fill="#111">90</text>
<path d="M180.4 18.2L183.8 18.2" stroke="#000" stroke-width="1.2" fill="none"/>
<text x="177.2" y="22.19" font-size="8.3" text-anchor="end" fill="#111">100</text>
<path d="M183.8 173.7L183.8 177.1" stroke="#000" stroke-width="1.2" fill="none"/>
<path d="M218.8 173.7L218.8 177.1" stroke="#000" stroke-width="1.2" fill="none"/>
<path d="M253.4 173.7L253.4 177.1" stroke="#000" stroke-width="1.2" fill="none"/>
<text x="204.5" y="185.8" font-size="8.8" text-anchor="middle" fill="#111">4</text>
<text x="239" y="185.8" font-size="8.8" text-anchor="middle" fill="#111">8</text>
<text x="221" y="194.8" font-size="8.8" text-anchor="middle" fill="#111">week</text>
<text x="152.8" y="97.8" font-size="8.9" text-anchor="middle" fill="#111" transform="rotate(-90 152.8 97.8)">% donor-derived cells in PB</text>
<text x="161.8" y="97.8" font-size="8.9" text-anchor="middle" fill="#111" transform="rotate(-90 161.8 97.8)">(secondary Tx)</text>
<path d="M190.7 94.7V91.5H209.9V94.7" stroke="#111" stroke-width="1" fill="none"/>
<text x="200.3" y="89" font-size="6.1" text-anchor="middle" fill="#222">p=n.s.</text>
<path d="M227.4 119.1V115.9H246.3V119.1" stroke="#111" stroke-width="1" fill="none"/>
<text x="236.85" y="113.3" font-size="6.1" text-anchor="middle" fill="#222">p=n.s.</text>
<rect x="193.2" y="22.2" width="4.1" height="4.1" fill="#fff" stroke="#000" stroke-width="1.2"/>
<text x="200.3" y="25.76" font-size="5.3" text-anchor="start" fill="#222"><tspan font-style="italic">Mll5</tspan> +/+ (n=9)</text>
<rect x="193.2" y="29.1" width="4.1" height="4.1" fill="#7f7f7f" stroke="#000" stroke-width="1.2"/>
<text x="200.3" y="32.66" font-size="5.3" text-anchor="start" fill="#222"><tspan font-style="italic">Mll5</tspan> -/- (n=9)</text>
<path d="M308.8 59.92V67.81M307.2 59.92h3.2" stroke="#333" stroke-width="1" fill="none"/>
<rect x="304.7" y="67.81" width="8.2" height="106.99" fill="#fff" stroke="#000" stroke-width="1.25"/>
<path d="M317 45.72V58.97M315.4 45.72h3.2" stroke="#444" stroke-width="1" fill="none"/>
<rect x="312.9" y="58.97" width="8.2" height="115.83" fill="#7f7f7f" stroke="#000" stroke-width="1.25"/>
<path d="M336.35 76.96V81.38M334.75 76.96h3.2" stroke="#333" stroke-width="1" fill="none"/>
<rect x="332.2" y="81.38" width="8.3" height="93.42" fill="#fff" stroke="#000" stroke-width="1.25"/>
<path d="M344.65 71.44V100.32M343.05 71.44h3.2" stroke="#444" stroke-width="1" fill="none"/>
<rect x="340.5" y="100.32" width="8.3" height="74.48" fill="#7f7f7f" stroke="#000" stroke-width="1.25"/>
<path d="M364.1 64.34V73.33M362.5 64.34h3.2" stroke="#333" stroke-width="1" fill="none"/>
<rect x="359.9" y="73.33" width="8.4" height="101.47" fill="#fff" stroke="#000" stroke-width="1.25"/>
<path d="M372.5 91.48V111.36M370.9 91.48h3.2" stroke="#444" stroke-width="1" fill="none"/>
<rect x="368.3" y="111.36" width="8.4" height="63.44" fill="#7f7f7f" stroke="#000" stroke-width="1.25"/>
<path d="M391.65 69.07V76.49M390.05 69.07h3.2" stroke="#333" stroke-width="1" fill="none"/>
<rect x="387.6" y="76.49" width="8.1" height="98.31" fill="#fff" stroke="#000" stroke-width="1.25"/>
<path d="M399.75 99.85V115.94M398.15 99.85h3.2" stroke="#444" stroke-width="1" fill="none"/>
<rect x="395.7" y="115.94" width="8.1" height="58.86" fill="#7f7f7f" stroke="#000" stroke-width="1.25"/>
<path d="M299 16.5L299 175.55" stroke="#000" stroke-width="1.5" fill="none"/>
<path d="M298.25 174.8L411.5 174.8" stroke="#000" stroke-width="1.5" fill="none"/>
<path d="M295.6 174.8L299 174.8" stroke="#000" stroke-width="1.2" fill="none"/>
<text x="292.7" y="178.11" font-size="7.8" text-anchor="end" fill="#111">0</text>
<path d="M295.6 135.35L299 135.35" stroke="#000" stroke-width="1.2" fill="none"/>
<text x="292.7" y="138.66" font-size="7.8" text-anchor="end" fill="#111">25</text>
<path d="M295.6 95.9L299 95.9" stroke="#000" stroke-width="1.2" fill="none"/>
<text x="292.7" y="99.21" font-size="7.8" text-anchor="end" fill="#111">50</text>
<path d="M295.6 56.45L299 56.45" stroke="#000" stroke-width="1.2" fill="none"/>
<text x="292.7" y="59.76" font-size="7.8" text-anchor="end" fill="#111">75</text>
<path d="M295.6 17L299 17" stroke="#000" stroke-width="1.2" fill="none"/>
<text x="292.7" y="20.31" font-size="7.8" text-anchor="end" fill="#111">100</text>
<path d="M299 174.8L299 178.2" stroke="#000" stroke-width="1.2" fill="none"/>
<path d="M326.5 174.8L326.5 178.2" stroke="#000" stroke-width="1.2" fill="none"/>
<path d="M354.8 174.8L354.8 178.2" stroke="#000" stroke-width="1.2" fill="none"/>
<path d="M382.8 174.8L382.8 178.2" stroke="#000" stroke-width="1.2" fill="none"/>
<path d="M410.8 174.8L410.8 178.2" stroke="#000" stroke-width="1.2" fill="none"/>
<text x="313.7" y="186.5" font-size="8.8" text-anchor="middle" fill="#111">4</text>
<text x="342.5" y="186.5" font-size="8.8" text-anchor="middle" fill="#111">8</text>
<text x="370.3" y="186.5" font-size="8.8" text-anchor="middle" fill="#111">12</text>
<text x="398" y="186.5" font-size="8.8" text-anchor="middle" fill="#111">18</text>
<text x="356.3" y="195.8" font-size="8.8" text-anchor="middle" fill="#111">week</text>
<text x="270.9" y="97.6" font-size="9" text-anchor="middle" fill="#111" transform="rotate(-90 270.9 97.6)">% donor-derived Nup98-HOXA10HD</text>
<text x="279.3" y="96.6" font-size="9" text-anchor="middle" fill="#111" transform="rotate(-90 279.3 96.6)">expressing cells in PB (primary Tx)</text>
<path d="M304.6 45.7V42.5H320.6V45.7" stroke="#111" stroke-width="1" fill="none"/>
<text x="312.6" y="40.1" font-size="6.1" text-anchor="middle" fill="#222">p=n.s.</text>
<path d="M331.4 68.3V65.1H347.7V68.3" stroke="#111" stroke-width="1" fill="none"/>
<text x="339.55" y="62.5" font-size="6.1" text-anchor="middle" fill="#222">p=n.s.</text>
<path d="M359.4 62.7V59.5H376.2V62.7" stroke="#111" stroke-width="1" fill="none"/>
<text x="368.3" y="56.2" font-size="5.9" text-anchor="middle" fill="#222"><tspan font-style="italic">P</tspan> &lt; .01</text>
<path d="M386.2 62.7V59.5H403.2V62.7" stroke="#111" stroke-width="1" fill="none"/>
<text x="395.2" y="56.2" font-size="5.9" text-anchor="middle" fill="#222"><tspan font-style="italic">P</tspan> = .01</text>
<rect x="306.5" y="20.9" width="4.2" height="4.2" fill="#fff" stroke="#000" stroke-width="1.2"/>
<text x="314.3" y="24.51" font-size="5.3" text-anchor="start" fill="#222"><tspan font-style="italic">Mll5</tspan> +/+ (n=5)</text>
<rect x="306.5" y="28.3" width="4.2" height="4.2" fill="#7f7f7f" stroke="#000" stroke-width="1.2"/>
<text x="314.3" y="31.91" font-size="5.3" text-anchor="start" fill="#222"><tspan font-style="italic">Mll5</tspan> -/- (n=6)</text>
<path d="M465.25 104.43V134.01M463.65 104.43h3.2" stroke="#777" stroke-width="1" fill="none"/>
<rect x="460.6" y="134.01" width="9.3" height="39.59" fill="#fff" stroke="#000" stroke-width="1.25"/>
<path d="M474.55 55.6V91.28M472.95 55.6h3.2" stroke="#222" stroke-width="1" fill="none"/>
<rect x="469.9" y="91.28" width="9.3" height="82.32" fill="#7f7f7f" stroke="#000" stroke-width="1.25"/>
<path d="M497 96.29V127.28M495.4 96.29h3.2" stroke="#777" stroke-width="1" fill="none"/>
<rect x="492.4" y="127.28" width="9.2" height="46.32" fill="#fff" stroke="#000" stroke-width="1.25"/>
<path d="M506.2 73.91V103.17M504.6 73.91h3.2" stroke="#222" stroke-width="1" fill="none"/>
<rect x="501.6" y="103.17" width="9.2" height="70.42" fill="#7f7f7f" stroke="#000" stroke-width="1.25"/>
<path d="M454 16.6L454 174.35" stroke="#000" stroke-width="1.5" fill="none"/>
<path d="M453.25 173.6L520 173.6" stroke="#000" stroke-width="1.5" fill="none"/>
<path d="M450.6 173.6L454 173.6" stroke="#000" stroke-width="1.2" fill="none"/>
<text x="447.7" y="176.91" font-size="7.8" text-anchor="end" fill="#111">0</text>
<path d="M450.6 157.95L454 157.95" stroke="#000" stroke-width="1.2" fill="none"/>
<text x="447.7" y="161.26" font-size="7.8" text-anchor="end" fill="#111">10</text>
<path d="M450.6 142.3L454 142.3" stroke="#000" stroke-width="1.2" fill="none"/>
<text x="447.7" y="145.61" font-size="7.8" text-anchor="end" fill="#111">20</text>
<path d="M450.6 126.65L454 126.65" stroke="#000" stroke-width="1.2" fill="none"/>
<text x="447.7" y="129.96" font-size="7.8" text-anchor="end" fill="#111">30</text>
<path d="M450.6 111L454 111" stroke="#000" stroke-width="1.2" fill="none"/>
<text x="447.7" y="114.31" font-size="7.8" text-anchor="end" fill="#111">40</text>
<path d="M450.6 95.35L454 95.35" stroke="#000" stroke-width="1.2" fill="none"/>
<text x="447.7" y="98.66" font-size="7.8" text-anchor="end" fill="#111">50</text>
<path d="M450.6 79.7L454 79.7" stroke="#000" stroke-width="1.2" fill="none"/>
<text x="447.7" y="83.01" font-size="7.8" text-anchor="end" fill="#111">60</text>
<path d="M450.6 64.05L454 64.05" stroke="#000" stroke-width="1.2" fill="none"/>
<text x="447.7" y="67.36" font-size="7.8" text-anchor="end" fill="#111">70</text>
<path d="M450.6 48.4L454 48.4" stroke="#000" stroke-width="1.2" fill="none"/>
<text x="447.7" y="51.71" font-size="7.8" text-anchor="end" fill="#111">80</text>
<path d="M450.6 32.75L454 32.75" stroke="#000" stroke-width="1.2" fill="none"/>
<text x="447.7" y="36.06" font-size="7.8" text-anchor="end" fill="#111">90</text>
<path d="M450.6 17.1L454 17.1" stroke="#000" stroke-width="1.2" fill="none"/>
<text x="447.7" y="20.41" font-size="7.8" text-anchor="end" fill="#111">100</text>
<path d="M454 173.6L454 177" stroke="#000" stroke-width="1.2" fill="none"/>
<path d="M486 173.6L486 177" stroke="#000" stroke-width="1.2" fill="none"/>
<path d="M518 173.6L518 177" stroke="#000" stroke-width="1.2" fill="none"/>
<text x="468.6" y="186.3" font-size="8.8" text-anchor="middle" fill="#111">4</text>
<text x="502.3" y="186.3" font-size="8.8" text-anchor="middle" fill="#111">8</text>
<text x="489" y="195.5" font-size="8.8" text-anchor="middle" fill="#111">week</text>
<text x="426.2" y="97.9" font-size="9" text-anchor="middle" fill="#111" transform="rotate(-90 426.2 97.9)">% donor-derived Nup98-HOXA10HD</text>
<text x="434.3" y="96.5" font-size="9" text-anchor="middle" fill="#111" transform="rotate(-90 434.3 96.5)">expressing cells in PB (secondary Tx)</text>
<path d="M463.3 51.5V48.3H480.4V51.5" stroke="#111" stroke-width="1" fill="none"/>
<text x="472.15" y="45.5" font-size="5.9" text-anchor="middle" fill="#222"><tspan font-style="italic">P</tspan> = .05</text>
<path d="M492.8 69.6V66.4H510.4V69.6" stroke="#111" stroke-width="1" fill="none"/>
<text x="501.6" y="63.7" font-size="6.1" text-anchor="middle" fill="#222">p=n.s.</text>
<rect x="462.7" y="21.8" width="3.9" height="3.9" fill="#fff" stroke="#000" stroke-width="1.2"/>
<text x="470.2" y="25.26" font-size="5.3" text-anchor="start" fill="#222"><tspan font-style="italic">Mll5</tspan> +/+ (n=6)</text>
<rect x="462.7" y="28.9" width="3.9" height="3.9" fill="#7f7f7f" stroke="#000" stroke-width="1.2"/>
<text x="470.2" y="32.36" font-size="5.3" text-anchor="start" fill="#222"><tspan font-style="italic">Mll5</tspan> -/- (n=6)</text>
<g class="ns">
<rect x="143.5" y="561.66" width="12.1" height="44.44" fill="#fff" stroke="#000" stroke-width="0.9"/>
<path d="M149.55 552.05V572.07M147.75 552.05h3.6M147.75 572.07h3.6" stroke="#333" stroke-width="0.8" fill="none"/>
<rect x="155.6" y="579.56" width="12.1" height="26.54" fill="#808080" stroke="#000" stroke-width="0.9"/>
<path d="M161.65 574.52V586.08M159.85 574.52h3.6M159.85 586.08h3.6" stroke="#333" stroke-width="0.8" fill="none"/>
<rect x="185.5" y="604.47" width="11.6" height="1.63" fill="#fff" stroke="#000" stroke-width="0.9"/>
<path d="M191.3 604.31V604.63M189.5 604.31h3.6M189.5 604.63h3.6" stroke="#333" stroke-width="0.8" fill="none"/>
<rect x="197.1" y="604.47" width="11.6" height="1.63" fill="#808080" stroke="#000" stroke-width="0.9"/>
<path d="M202.9 604.31V604.63M201.1 604.31h3.6M201.1 604.63h3.6" stroke="#333" stroke-width="0.8" fill="none"/>
<rect x="225.6" y="492.95" width="12.1" height="113.15" fill="#fff" stroke="#000" stroke-width="0.9"/>
<path d="M231.65 482.37V503.54M229.85 482.37h3.6M229.85 503.54h3.6" stroke="#333" stroke-width="0.8" fill="none"/>
<rect x="237.7" y="475.05" width="12.1" height="131.05" fill="#808080" stroke="#000" stroke-width="0.9"/>
<path d="M243.75 468.86V481.07M241.95 468.86h3.6M241.95 481.07h3.6" stroke="#333" stroke-width="0.8" fill="none"/>
<path d="M134.8 459.08L134.8 606.6" stroke="#000" stroke-width="1" fill="none"/>
<path d="M134.3 606.1L260.5 606.1" stroke="#000" stroke-width="1" fill="none"/>
<path d="M131.2 606.1L134.8 606.1" stroke="#000" stroke-width="0.9" fill="none"/>
<text x="128" y="609.33" font-size="8.7" text-anchor="end" fill="#111">0</text>
<path d="M131.2 589.82L134.8 589.82" stroke="#000" stroke-width="0.9" fill="none"/>
<text x="128" y="593.05" font-size="8.7" text-anchor="end" fill="#111">10</text>
<path d="M131.2 573.54L134.8 573.54" stroke="#000" stroke-width="0.9" fill="none"/>
<text x="128" y="576.77" font-size="8.7" text-anchor="end" fill="#111">20</text>
<path d="M131.2 557.26L134.8 557.26" stroke="#000" stroke-width="0.9" fill="none"/>
<text x="128" y="560.49" font-size="8.7" text-anchor="end" fill="#111">30</text>
<path d="M131.2 540.98L134.8 540.98" stroke="#000" stroke-width="0.9" fill="none"/>
<text x="128" y="544.21" font-size="8.7" text-anchor="end" fill="#111">40</text>
<path d="M131.2 524.7L134.8 524.7" stroke="#000" stroke-width="0.9" fill="none"/>
<text x="128" y="527.93" font-size="8.7" text-anchor="end" fill="#111">50</text>
<path d="M131.2 508.42L134.8 508.42" stroke="#000" stroke-width="0.9" fill="none"/>
<text x="128" y="511.65" font-size="8.7" text-anchor="end" fill="#111">60</text>
<path d="M131.2 492.14L134.8 492.14" stroke="#000" stroke-width="0.9" fill="none"/>
<text x="128" y="495.37" font-size="8.7" text-anchor="end" fill="#111">70</text>
<path d="M131.2 475.86L134.8 475.86" stroke="#000" stroke-width="0.9" fill="none"/>
<text x="128" y="479.09" font-size="8.7" text-anchor="end" fill="#111">80</text>
<path d="M131.2 459.58L134.8 459.58" stroke="#000" stroke-width="0.9" fill="none"/>
<text x="128" y="462.81" font-size="8.7" text-anchor="end" fill="#111">90</text>
<path d="M134.8 606.1L134.8 609.7" stroke="#000" stroke-width="0.9" fill="none"/>
<path d="M176.3 606.1L176.3 609.7" stroke="#000" stroke-width="0.9" fill="none"/>
<path d="M218.2 606.1L218.2 609.7" stroke="#000" stroke-width="0.9" fill="none"/>
<path d="M260.2 606.1L260.2 609.7" stroke="#000" stroke-width="0.9" fill="none"/>
<text x="155.6" y="623.4" font-size="8.5" text-anchor="middle" fill="#111" font-weight="bold">G0-G1</text>
<text x="197.8" y="623.4" font-size="8.5" text-anchor="middle" fill="#111" font-weight="bold">G2-M</text>
<text x="237.7" y="623.4" font-size="8.5" text-anchor="middle" fill="#111" font-weight="bold">S</text>
<text x="109.8" y="520" font-size="9.1" text-anchor="middle" fill="#111" transform="rotate(-90 109.8 520)">% lin<tspan dy="-3.4" font-size="7.5">−</tspan><tspan dy="3.4"> cells</tspan></text>
<path d="M149.8 547.1V543.6H163.3V547.1" stroke="#333" stroke-width="0.65" fill="none"/>
<text x="156.55" y="540.3" font-size="5.6" text-anchor="middle" fill="#333" stroke="none"><tspan font-style="italic">P</tspan> &lt; .001</text>
<path d="M190 600.5V597.5H203.6V600.5" stroke="#333" stroke-width="0.65" fill="none"/>
<text x="196.8" y="594" font-size="5.6" text-anchor="middle" fill="#333" stroke="none"><tspan font-style="italic">P</tspan> = .04</text>
<path d="M230 463.8V460.3H244V463.8" stroke="#333" stroke-width="0.65" fill="none"/>
<text x="237" y="457" font-size="5.6" text-anchor="middle" fill="#333" stroke="none"><tspan font-style="italic">P</tspan> &lt; .001</text>
<rect x="145.7" y="464.6" width="4" height="4" fill="#fff" stroke="#000" stroke-width="0.9"/>
<text x="151.7" y="468.5" font-size="7.5" text-anchor="start" fill="#222">WT (n=13)</text>
<rect x="145.7" y="476.8" width="4" height="4" fill="#808080" stroke="#000" stroke-width="0.9"/>
<text x="151.7" y="480.7" font-size="7.5" text-anchor="start" fill="#222">null (n=15)</text>
<rect x="320" y="523.68" width="12.2" height="84.32" fill="#fff" stroke="#000" stroke-width="0.9"/>
<path d="M326.1 506.03V541.5M324.3 506.03h3.6M324.3 541.5h3.6" stroke="#333" stroke-width="0.8" fill="none"/>
<rect x="332.2" y="546.95" width="12.2" height="61.05" fill="#808080" stroke="#000" stroke-width="0.9"/>
<path d="M338.3 538.04V556.02M336.5 538.04h3.6M336.5 556.02h3.6" stroke="#333" stroke-width="0.8" fill="none"/>
<rect x="361.3" y="554.21" width="12" height="53.79" fill="#fff" stroke="#000" stroke-width="0.9"/>
<path d="M367.3 544.97V563.95M365.5 544.97h3.6M365.5 563.95h3.6" stroke="#333" stroke-width="0.8" fill="none"/>
<rect x="373.3" y="544.97" width="12" height="63.03" fill="#808080" stroke="#000" stroke-width="0.9"/>
<path d="M379.3 537.38V554.04M377.5 537.38h3.6M377.5 554.04h3.6" stroke="#333" stroke-width="0.8" fill="none"/>
<rect x="401.5" y="596.45" width="12.2" height="11.55" fill="#fff" stroke="#000" stroke-width="0.9"/>
<path d="M407.6 590.01V604.04M405.8 590.01h3.6M405.8 604.04h3.6" stroke="#333" stroke-width="0.8" fill="none"/>
<rect x="413.7" y="586.88" width="12.2" height="21.12" fill="#808080" stroke="#000" stroke-width="0.9"/>
<path d="M419.8 582.42V592M418 582.42h3.6M418 592h3.6" stroke="#333" stroke-width="0.8" fill="none"/>
<path d="M311.3 459L311.3 608.5" stroke="#000" stroke-width="1" fill="none"/>
<path d="M310.8 608L435.5 608" stroke="#000" stroke-width="1" fill="none"/>
<path d="M307.7 608L311.3 608" stroke="#000" stroke-width="0.9" fill="none"/>
<text x="304.5" y="611.23" font-size="8.7" text-anchor="end" fill="#111">0</text>
<path d="M307.7 591.5L311.3 591.5" stroke="#000" stroke-width="0.9" fill="none"/>
<text x="304.5" y="594.73" font-size="8.7" text-anchor="end" fill="#111">10</text>
<path d="M307.7 575L311.3 575" stroke="#000" stroke-width="0.9" fill="none"/>
<text x="304.5" y="578.23" font-size="8.7" text-anchor="end" fill="#111">20</text>
<path d="M307.7 558.5L311.3 558.5" stroke="#000" stroke-width="0.9" fill="none"/>
<text x="304.5" y="561.73" font-size="8.7" text-anchor="end" fill="#111">30</text>
<path d="M307.7 542L311.3 542" stroke="#000" stroke-width="0.9" fill="none"/>
<text x="304.5" y="545.23" font-size="8.7" text-anchor="end" fill="#111">40</text>
<path d="M307.7 525.5L311.3 525.5" stroke="#000" stroke-width="0.9" fill="none"/>
<text x="304.5" y="528.73" font-size="8.7" text-anchor="end" fill="#111">50</text>
<path d="M307.7 509L311.3 509" stroke="#000" stroke-width="0.9" fill="none"/>
<text x="304.5" y="512.23" font-size="8.7" text-anchor="end" fill="#111">60</text>
<path d="M307.7 492.5L311.3 492.5" stroke="#000" stroke-width="0.9" fill="none"/>
<text x="304.5" y="495.73" font-size="8.7" text-anchor="end" fill="#111">70</text>
<path d="M307.7 476L311.3 476" stroke="#000" stroke-width="0.9" fill="none"/>
<text x="304.5" y="479.23" font-size="8.7" text-anchor="end" fill="#111">80</text>
<path d="M307.7 459.5L311.3 459.5" stroke="#000" stroke-width="0.9" fill="none"/>
<text x="304.5" y="462.73" font-size="8.7" text-anchor="end" fill="#111">90</text>
<path d="M311.3 608L311.3 611.6" stroke="#000" stroke-width="0.9" fill="none"/>
<path d="M353 608L353 611.6" stroke="#000" stroke-width="0.9" fill="none"/>
<path d="M394 608L394 611.6" stroke="#000" stroke-width="0.9" fill="none"/>
<path d="M435 608L435 611.6" stroke="#000" stroke-width="0.9" fill="none"/>
<text x="331.5" y="624.3" font-size="8.5" text-anchor="middle" fill="#111" font-weight="bold">G0-G1</text>
<text x="373" y="624.3" font-size="8.5" text-anchor="middle" fill="#111" font-weight="bold">G2-M</text>
<text x="413.6" y="624.3" font-size="8.5" text-anchor="middle" fill="#111" font-weight="bold">S</text>
<text x="286" y="533.7" font-size="9" text-anchor="middle" fill="#111" transform="rotate(-90 286 533.7)">% positive LSK cells</text>
<path d="M325.5 501.2V498H339V501.2" stroke="#333" stroke-width="0.65" fill="none"/>
<text x="332.25" y="494.5" font-size="5.6" text-anchor="middle" fill="#333" stroke="none"><tspan font-style="italic">P</tspan> &lt; .001</text>
<path d="M364.7 532.9V529.7H378V532.9" stroke="#333" stroke-width="0.65" fill="none"/>
<text x="371.35" y="526.3" font-size="5.6" text-anchor="middle" fill="#333" stroke="none"><tspan font-style="italic">P</tspan> = .01</text>
<path d="M408 579.2V576H420.5V579.2" stroke="#333" stroke-width="0.65" fill="none"/>
<text x="414.25" y="572.5" font-size="5.6" text-anchor="middle" fill="#333" stroke="none"><tspan font-style="italic">P</tspan> &lt; .001</text>
<rect x="322" y="464" width="4.4" height="4.4" fill="#fff" stroke="#000" stroke-width="0.9"/>
<text x="328.4" y="468.1" font-size="7.5" text-anchor="start" fill="#222">WT (n=13)</text>
<rect x="322" y="476.3" width="4.4" height="4.4" fill="#808080" stroke="#000" stroke-width="0.9"/>
<text x="328.4" y="480.4" font-size="7.5" text-anchor="start" fill="#222">null (n=15)</text>
</g>
</svg>
</body></html>
